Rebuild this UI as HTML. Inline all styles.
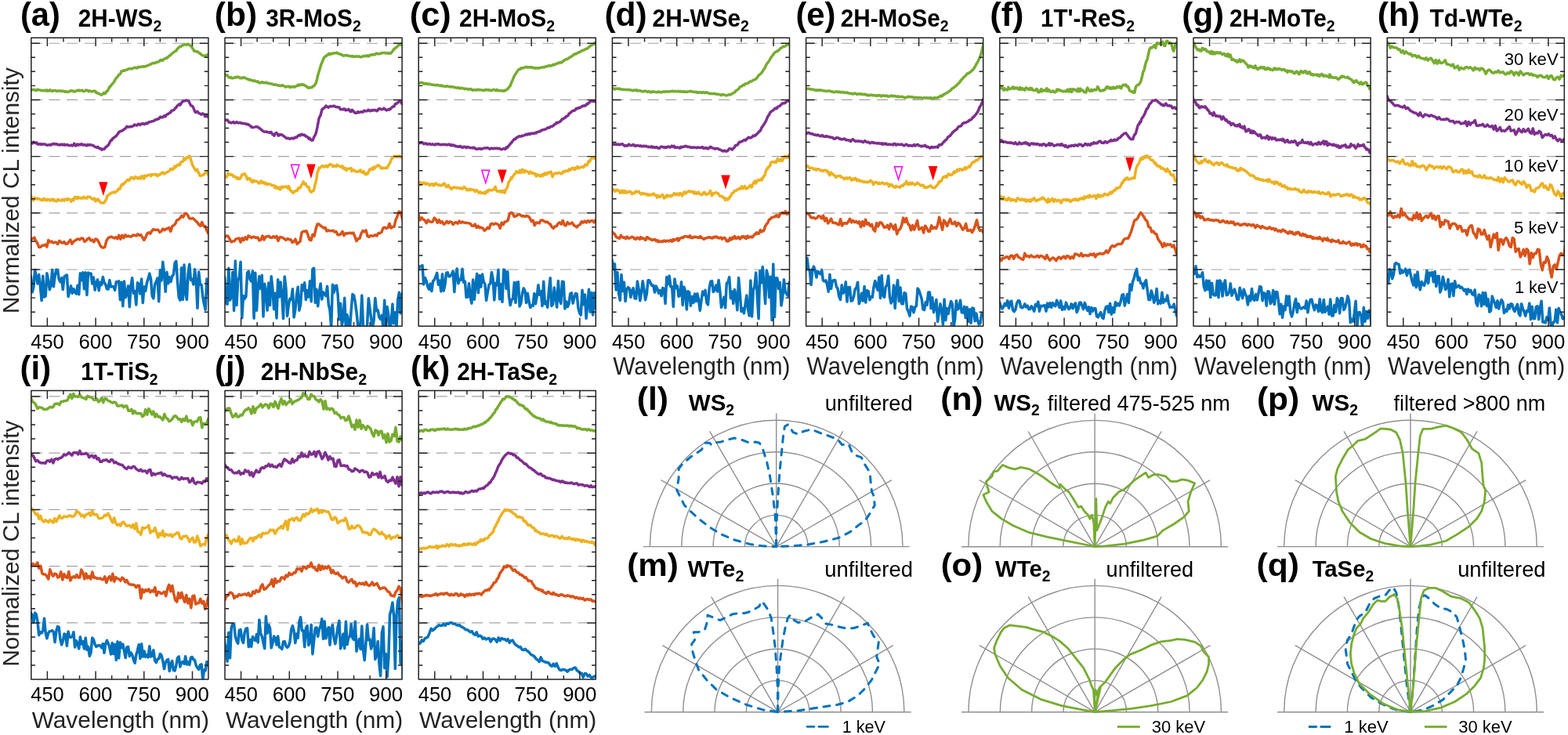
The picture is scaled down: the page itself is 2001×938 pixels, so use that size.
<!DOCTYPE html>
<html><head><meta charset="utf-8"><title>CL spectra</title>
<style>html,body{margin:0;padding:0;background:#fff;}svg{display:block;}
text{font-family:"Liberation Sans",Arial,Helvetica,sans-serif;}</style></head>
<body><svg width="2001" height="938" viewBox="0 0 2001 938">
<rect width="2001" height="938" fill="#fff"/>
<clipPath id="ca"><rect x="39.8" y="48.3" width="226.1" height="367.9"/></clipPath>
<g stroke="#a3a3a3" stroke-width="1.15" stroke-dasharray="14.1 8.5" fill="none"><line x1="39.8" y1="55.2" x2="265.9" y2="55.2"/><line x1="39.8" y1="127.4" x2="265.9" y2="127.4"/><line x1="39.8" y1="199.6" x2="265.9" y2="199.6"/><line x1="39.8" y1="271.8" x2="265.9" y2="271.8"/><line x1="39.8" y1="344" x2="265.9" y2="344"/></g>
<g clip-path="url(#ca)" fill="none" stroke-width="3.5" stroke-linejoin="round" stroke-linecap="round"><path d="M37.8 350.79 L39.5 352.76 L41.2 372.88 L42.9 366.19 L44.6 344.17 L46.3 353.57 L48 362.06 L49.7 350.38 L51.4 365.08 L53.1 383.59 L54.8 352.15 L56.5 378.97 L58.2 377.87 L59.9 348.65 L61.6 357.49 L63.3 369.62 L65 364.41 L66.7 344.19 L68.4 365.78 L70.1 352.64 L71.8 344.34 L73.5 344.36 L75.2 356.26 L76.9 359.67 L78.6 354.72 L80.3 369.47 L82 353.2 L83.7 351.74 L85.4 350.95 L87.1 378.5 L88.8 371.69 L90.5 364.86 L92.2 374.34 L93.9 368.75 L95.6 372.82 L97.3 375.03 L99 364.32 L100.7 375.79 L102.4 348.71 L104.1 357.78 L105.8 347.68 L107.5 368.87 L109.2 347.8 L110.9 376.43 L112.6 348.02 L114.3 349.52 L116 349.04 L117.7 362.08 L119.4 353.97 L121.1 370.15 L122.8 361.43 L124.5 356.82 L126.2 370.84 L127.9 360.19 L129.6 363.51 L131.3 353.48 L133 360.87 L134.7 362.77 L136.4 368.69 L138.1 369.04 L139.8 357.45 L141.5 365.9 L143.2 365.82 L144.9 365.74 L146.6 370.47 L148.3 359.66 L150 359.76 L151.7 358.94 L153.4 382.51 L155.1 360.35 L156.8 390.62 L158.5 359.06 L160.2 379.71 L161.9 375.04 L163.6 365.02 L165.3 391.67 L167 365.13 L168.7 354.69 L170.4 374.33 L172.1 371.51 L173.8 388.9 L175.5 360.7 L177.2 362.24 L178.9 374.9 L180.6 356.02 L182.3 386.41 L184 365.9 L185.7 371.45 L187.4 361.12 L189.1 355.88 L190.8 349.13 L192.5 355.81 L194.2 377.59 L195.9 380.88 L197.6 362.77 L199.3 359.68 L201 354.96 L202.7 384.71 L204.4 344.79 L206.1 357.97 L207.8 334.32 L209.5 349.85 L211.2 372.25 L212.9 347.31 L214.6 361.77 L216.3 353.64 L218 359.62 L219.7 352.37 L221.4 350.4 L223.1 335.58 L224.8 333.31 L226.5 358.99 L228.2 379.43 L229.9 383.06 L231.6 341.68 L233.3 382.31 L235 337.97 L236.7 374.05 L238.4 382.38 L240.1 348.82 L241.8 337.24 L243.5 357.23 L245.2 356.22 L246.9 363.08 L248.6 343.62 L250.3 359.77 L252 393.16 L253.7 346.94 L255.4 363.17 L257.1 363.42 L258.8 378.82 L260.5 388.15 L262.2 395.23 L263.9 356.07 L265.6 374.5 L267.3 359.89" stroke="#0072BD"/><path d="M37.8 307.51 L39.8 305.23 L41.8 304.73 L43.8 303.14 L45.8 307.46 L47.8 310.42 L49.8 315.54 L51.8 315.29 L53.8 313.22 L55.8 313.37 L57.8 312.11 L59.8 315.03 L61.8 306.48 L63.8 308.96 L65.8 307.98 L67.8 309.93 L69.8 309.09 L71.8 309.46 L73.8 311.53 L75.8 307.38 L77.8 308.91 L79.8 310.15 L81.8 308.48 L83.8 311.35 L85.8 311.13 L87.8 308.75 L89.8 306.07 L91.8 311.22 L93.8 308.2 L95.8 307.17 L97.8 305.74 L99.8 304.96 L101.8 305.84 L103.8 304.04 L105.8 304.2 L107.8 308.31 L109.8 307.19 L111.8 304.87 L113.8 303.68 L115.8 306.9 L117.8 306.06 L119.8 308.87 L121.8 305 L123.8 305.43 L125.8 308.49 L127.8 313.16 L129.8 315.56 L131.8 316.09 L133.8 315.45 L135.8 307.37 L137.8 304.08 L139.8 302.82 L141.8 302.12 L143.8 302.94 L145.8 303.95 L147.8 302.73 L149.8 304.66 L151.8 300.36 L153.8 305.22 L155.8 300.25 L157.8 303.71 L159.8 299.76 L161.8 301.86 L163.8 301.11 L165.8 301.73 L167.8 301.96 L169.8 300.08 L171.8 300.27 L173.8 300.96 L175.8 298.73 L177.8 300.49 L179.8 299.55 L181.8 302.84 L183.8 306.5 L185.8 302.69 L187.8 298.17 L189.8 296.71 L191.8 298.24 L193.8 294.73 L195.8 292.5 L197.8 293.46 L199.8 293.35 L201.8 293.36 L203.8 296.35 L205.8 295.17 L207.8 292.22 L209.8 293.71 L211.8 292.3 L213.8 291.72 L215.8 290.57 L217.8 295.18 L219.8 288.67 L221.8 287.48 L223.8 285.55 L225.8 280.87 L227.8 280.28 L229.8 278.24 L231.8 275.45 L233.8 277.06 L235.8 272.71 L237.8 272.17 L239.8 275.03 L241.8 278.81 L243.8 279.11 L245.8 278.46 L247.8 280.02 L249.8 281.92 L251.8 283.83 L253.8 286.7 L255.8 288.32 L257.8 283.55 L259.8 288.69 L261.8 288.4 L263.8 294.2 L265.8 297.83 L267.8 296.53" stroke="#D95319"/><path d="M37.8 252.4 L38.8 250.86 L39.8 251 L40.8 252.12 L41.8 254.5 L42.8 255.74 L43.8 253.65 L44.8 252.43 L45.8 253.4 L46.8 253.2 L47.8 254.1 L48.8 253.14 L49.8 253.69 L50.8 254.37 L51.8 254.91 L52.8 254.8 L53.8 255.8 L54.8 254.65 L55.8 253.19 L56.8 255.22 L57.8 254.6 L58.8 254.48 L59.8 256.01 L60.8 254.32 L61.8 254.69 L62.8 254.6 L63.8 256.08 L64.8 254.98 L65.8 254.87 L66.8 254.02 L67.8 255.87 L68.8 254.46 L69.8 255.89 L70.8 256.51 L71.8 256.78 L72.8 256.75 L73.8 254.34 L74.8 255.18 L75.8 255.31 L76.8 255.66 L77.8 256.16 L78.8 255.17 L79.8 254.23 L80.8 255.06 L81.8 256.22 L82.8 254.21 L83.8 254.64 L84.8 254.3 L85.8 255.48 L86.8 253.48 L87.8 254.13 L88.8 254.56 L89.8 255.18 L90.8 257.08 L91.8 256.1 L92.8 253.96 L93.8 255.64 L94.8 252.79 L95.8 251.38 L96.8 251.79 L97.8 253.42 L98.8 253.39 L99.8 251.22 L100.8 252.87 L101.8 252.74 L102.8 253.11 L103.8 252.33 L104.8 253.08 L105.8 252.51 L106.8 251.2 L107.8 253.02 L108.8 252.47 L109.8 252.84 L110.8 253.03 L111.8 251.25 L112.8 251.57 L113.8 251.13 L114.8 251.23 L115.8 252.52 L116.8 253.19 L117.8 254.33 L118.8 254.48 L119.8 253.17 L120.8 253.13 L121.8 256.88 L122.8 256.64 L123.8 254.59 L124.8 253.99 L125.8 255.03 L126.8 256.54 L127.8 258.09 L128.8 258.77 L129.8 258.86 L130.8 258.79 L131.8 259.22 L132.8 258.49 L133.8 257.44 L134.8 255.67 L135.8 253.73 L136.8 249.98 L137.8 249.55 L138.8 248.86 L139.8 247.5 L140.8 247.39 L141.8 246.22 L142.8 245.93 L143.8 245.86 L144.8 245.42 L145.8 244.97 L146.8 245.82 L147.8 244.79 L148.8 244.12 L149.8 243.24 L150.8 241.59 L151.8 240.71 L152.8 241.14 L153.8 239.05 L154.8 236.29 L155.8 234.99 L156.8 235.91 L157.8 234.52 L158.8 233.78 L159.8 232.46 L160.8 231.57 L161.8 230.73 L162.8 229.23 L163.8 229.75 L164.8 230.41 L165.8 229.48 L166.8 226.84 L167.8 226.42 L168.8 226.46 L169.8 227.48 L170.8 228.42 L171.8 227.49 L172.8 225.56 L173.8 226.83 L174.8 227.47 L175.8 226.72 L176.8 227.99 L177.8 226.21 L178.8 227.48 L179.8 228.05 L180.8 224.84 L181.8 225.01 L182.8 226.44 L183.8 227.95 L184.8 224.02 L185.8 225.03 L186.8 224.94 L187.8 223.97 L188.8 223.34 L189.8 223.44 L190.8 223.37 L191.8 222.93 L192.8 224.76 L193.8 222.78 L194.8 222.71 L195.8 222.57 L196.8 222.75 L197.8 223.01 L198.8 222.3 L199.8 222.92 L200.8 224.65 L201.8 224.01 L202.8 222.7 L203.8 223.07 L204.8 221.76 L205.8 221.84 L206.8 220.31 L207.8 220.05 L208.8 220.47 L209.8 221.94 L210.8 221.03 L211.8 220.55 L212.8 219.75 L213.8 219.32 L214.8 218.9 L215.8 218.52 L216.8 217.18 L217.8 215.45 L218.8 215.16 L219.8 216.55 L220.8 216.36 L221.8 214.48 L222.8 212.18 L223.8 213.85 L224.8 212.52 L225.8 211.18 L226.8 210.37 L227.8 209.71 L228.8 210.92 L229.8 209.98 L230.8 206.78 L231.8 206.4 L232.8 206.39 L233.8 205.7 L234.8 202.05 L235.8 203.67 L236.8 203.72 L237.8 201.19 L238.8 200.65 L239.8 201.3 L240.8 200.15 L241.8 198.98 L242.8 201.16 L243.8 204.51 L244.8 207.76 L245.8 211.4 L246.8 212.68 L247.8 214.32 L248.8 216.18 L249.8 217.82 L250.8 216.91 L251.8 216.16 L252.8 219.65 L253.8 220.76 L254.8 223.95 L255.8 224.19 L256.8 224.3 L257.8 223.56 L258.8 223.17 L259.8 223.3 L260.8 221.18 L261.8 221.03 L262.8 220.83 L263.8 220.09 L264.8 219.83 L265.8 222.9 L266.8 222.57 L267.8 223.43" stroke="#EDB120"/><path d="M37.8 182.74 L38.8 182.35 L39.8 182.96 L40.8 182.49 L41.8 182.85 L42.8 181.39 L43.8 181.91 L44.8 182.49 L45.8 182.71 L46.8 181.93 L47.8 183.63 L48.8 184.21 L49.8 184.07 L50.8 183.63 L51.8 184.45 L52.8 183.8 L53.8 184.33 L54.8 184.02 L55.8 183.94 L56.8 183.92 L57.8 184.16 L58.8 184.89 L59.8 185.24 L60.8 185.24 L61.8 184.93 L62.8 184.72 L63.8 184.74 L64.8 185.22 L65.8 184.11 L66.8 183.83 L67.8 184.01 L68.8 183.3 L69.8 183.96 L70.8 184.15 L71.8 183.71 L72.8 184.05 L73.8 184.78 L74.8 184.51 L75.8 184.76 L76.8 185.22 L77.8 184.41 L78.8 184.11 L79.8 184.81 L80.8 185.01 L81.8 184.15 L82.8 185.22 L83.8 185 L84.8 184.79 L85.8 184.61 L86.8 185.07 L87.8 185.73 L88.8 185.62 L89.8 185.53 L90.8 185.07 L91.8 185.94 L92.8 185.77 L93.8 184.59 L94.8 183.19 L95.8 184.68 L96.8 186.14 L97.8 184.68 L98.8 184.06 L99.8 185.19 L100.8 184.3 L101.8 184.68 L102.8 184.7 L103.8 183.66 L104.8 184.47 L105.8 185.13 L106.8 184.56 L107.8 184.91 L108.8 184.85 L109.8 185.55 L110.8 185.88 L111.8 184.48 L112.8 184.77 L113.8 185.24 L114.8 184.83 L115.8 184.77 L116.8 185.17 L117.8 185.43 L118.8 185.6 L119.8 186.48 L120.8 187.21 L121.8 187.58 L122.8 187.96 L123.8 188.3 L124.8 187.45 L125.8 188.41 L126.8 189.36 L127.8 189.87 L128.8 189.55 L129.8 191.2 L130.8 190.15 L131.8 190.22 L132.8 190.16 L133.8 189.53 L134.8 187.85 L135.8 187.05 L136.8 186.57 L137.8 185.57 L138.8 184.25 L139.8 182.17 L140.8 180.16 L141.8 178.75 L142.8 178.89 L143.8 176.63 L144.8 176.3 L145.8 175.33 L146.8 174.56 L147.8 173.8 L148.8 172.95 L149.8 171.36 L150.8 170.31 L151.8 168.44 L152.8 168.36 L153.8 167.36 L154.8 167.07 L155.8 167.08 L156.8 166.02 L157.8 165.64 L158.8 164.49 L159.8 164.05 L160.8 162.93 L161.8 161.42 L162.8 161.89 L163.8 162.08 L164.8 162.05 L165.8 161.7 L166.8 161.45 L167.8 161.74 L168.8 161.28 L169.8 160.55 L170.8 160.54 L171.8 159.02 L172.8 159.42 L173.8 159.66 L174.8 160.05 L175.8 158.84 L176.8 158.06 L177.8 158.86 L178.8 159.48 L179.8 158.36 L180.8 157.96 L181.8 157.72 L182.8 157.8 L183.8 158.43 L184.8 158.58 L185.8 157.53 L186.8 157.05 L187.8 157.68 L188.8 156.68 L189.8 156.15 L190.8 155.64 L191.8 155.39 L192.8 155.33 L193.8 154.83 L194.8 154.76 L195.8 154.32 L196.8 154.02 L197.8 153.13 L198.8 152.74 L199.8 152.56 L200.8 152.07 L201.8 151.76 L202.8 151.67 L203.8 149.98 L204.8 149.11 L205.8 150 L206.8 149.56 L207.8 149.75 L208.8 148.55 L209.8 147.71 L210.8 148.81 L211.8 147.57 L212.8 146.28 L213.8 145.57 L214.8 145.45 L215.8 144.29 L216.8 144.05 L217.8 143.47 L218.8 141.36 L219.8 140.87 L220.8 140.75 L221.8 140.58 L222.8 139.23 L223.8 137.63 L224.8 137.36 L225.8 135.6 L226.8 134.62 L227.8 133.89 L228.8 132.81 L229.8 134.08 L230.8 132.67 L231.8 131.04 L232.8 129.66 L233.8 128.74 L234.8 129.01 L235.8 128.81 L236.8 127.97 L237.8 127.98 L238.8 128.52 L239.8 128.36 L240.8 128.52 L241.8 131.26 L242.8 133.13 L243.8 134.68 L244.8 135.12 L245.8 135.71 L246.8 137.64 L247.8 140.17 L248.8 142.54 L249.8 143.53 L250.8 142.85 L251.8 142.32 L252.8 143.37 L253.8 144.43 L254.8 144.92 L255.8 145.3 L256.8 146.11 L257.8 145.25 L258.8 144.85 L259.8 145.82 L260.8 146.65 L261.8 148.67 L262.8 147.93 L263.8 147.55 L264.8 148.98 L265.8 149.39 L266.8 148.91 L267.8 148.97" stroke="#7E2F8E"/><path d="M37.8 114.83 L38.8 114.64 L39.8 114.8 L40.8 114.65 L41.8 114.34 L42.8 114.49 L43.8 114.85 L44.8 114.64 L45.8 115.44 L46.8 115.41 L47.8 114.16 L48.8 114.78 L49.8 114.75 L50.8 114.89 L51.8 115.31 L52.8 115.37 L53.8 115.72 L54.8 115.73 L55.8 115.65 L56.8 115.18 L57.8 115.49 L58.8 116.02 L59.8 114.78 L60.8 116.17 L61.8 115.71 L62.8 115.94 L63.8 114.56 L64.8 115.36 L65.8 116.14 L66.8 116.04 L67.8 116.21 L68.8 115.45 L69.8 115.43 L70.8 115.56 L71.8 116.14 L72.8 116.22 L73.8 115.98 L74.8 115.92 L75.8 116 L76.8 116.15 L77.8 115.86 L78.8 116.25 L79.8 116.34 L80.8 116.2 L81.8 116.42 L82.8 117.23 L83.8 116.59 L84.8 116.98 L85.8 117.49 L86.8 117.19 L87.8 116.85 L88.8 116.94 L89.8 115.81 L90.8 115.65 L91.8 115.98 L92.8 116.06 L93.8 116.23 L94.8 117.05 L95.8 116.88 L96.8 115.96 L97.8 115.72 L98.8 115.24 L99.8 115.48 L100.8 115.05 L101.8 115.98 L102.8 115.46 L103.8 115.6 L104.8 115.12 L105.8 116.17 L106.8 116.25 L107.8 116.67 L108.8 115.79 L109.8 114.94 L110.8 115.18 L111.8 115.41 L112.8 116.58 L113.8 115.89 L114.8 115.83 L115.8 116.52 L116.8 116.64 L117.8 116.78 L118.8 116.39 L119.8 115.89 L120.8 116.24 L121.8 116.56 L122.8 118.41 L123.8 118.76 L124.8 118.55 L125.8 119.34 L126.8 119.95 L127.8 120.39 L128.8 120.74 L129.8 121.03 L130.8 120.42 L131.8 118.93 L132.8 118.42 L133.8 119.67 L134.8 118.81 L135.8 116.81 L136.8 116.57 L137.8 114.95 L138.8 113.15 L139.8 110.8 L140.8 110.37 L141.8 108.77 L142.8 107.69 L143.8 106.54 L144.8 105.31 L145.8 104.01 L146.8 102.07 L147.8 100.55 L148.8 99.05 L149.8 98.24 L150.8 96.69 L151.8 95.22 L152.8 95.08 L153.8 93.68 L154.8 91.13 L155.8 90.52 L156.8 90.6 L157.8 89.89 L158.8 90.32 L159.8 89.59 L160.8 89.23 L161.8 89.06 L162.8 88.75 L163.8 87.82 L164.8 87.82 L165.8 87.62 L166.8 87.67 L167.8 87.57 L168.8 87.76 L169.8 87.22 L170.8 86.61 L171.8 86.58 L172.8 86.1 L173.8 86.69 L174.8 87.09 L175.8 85.97 L176.8 85.27 L177.8 85.72 L178.8 85.56 L179.8 85.52 L180.8 85.16 L181.8 85.1 L182.8 84.69 L183.8 85.4 L184.8 84.65 L185.8 84.59 L186.8 84.42 L187.8 83.77 L188.8 83.58 L189.8 82.96 L190.8 82.47 L191.8 82.28 L192.8 82.11 L193.8 81.01 L194.8 80.65 L195.8 80.39 L196.8 80.33 L197.8 80.69 L198.8 79.91 L199.8 79.33 L200.8 79.24 L201.8 79.16 L202.8 78.18 L203.8 78.1 L204.8 76.4 L205.8 76.55 L206.8 77.38 L207.8 77.05 L208.8 75.83 L209.8 74.99 L210.8 74.85 L211.8 74.01 L212.8 74.19 L213.8 73.55 L214.8 72.5 L215.8 71.19 L216.8 71.08 L217.8 69.95 L218.8 68.99 L219.8 68.02 L220.8 67.25 L221.8 66.61 L222.8 65.83 L223.8 65.14 L224.8 65.04 L225.8 62.78 L226.8 62.15 L227.8 60.8 L228.8 60.07 L229.8 59.22 L230.8 59.48 L231.8 58.61 L232.8 57.82 L233.8 57.26 L234.8 57.15 L235.8 56.34 L236.8 56.64 L237.8 57.43 L238.8 56.44 L239.8 56.13 L240.8 56.42 L241.8 57.57 L242.8 58.09 L243.8 58.8 L244.8 60.18 L245.8 61.94 L246.8 63.15 L247.8 65.25 L248.8 65.18 L249.8 65.58 L250.8 66.01 L251.8 65.74 L252.8 66.34 L253.8 67.42 L254.8 68.07 L255.8 68.32 L256.8 69.95 L257.8 70.18 L258.8 70.83 L259.8 71.03 L260.8 70.89 L261.8 72.03 L262.8 71.19 L263.8 70.12 L264.8 70.06 L265.8 71.24 L266.8 71.82 L267.8 71.7" stroke="#77AC30"/></g>
<path d="M60.37 48.3v10.6M60.37 416.2v-10.6M80.94 48.3v5.1M80.94 416.2v-5.1M101.51 48.3v5.1M101.51 416.2v-5.1M122.08 48.3v10.6M122.08 416.2v-10.6M142.65 48.3v5.1M142.65 416.2v-5.1M163.22 48.3v5.1M163.22 416.2v-5.1M183.79 48.3v10.6M183.79 416.2v-10.6M204.36 48.3v5.1M204.36 416.2v-5.1M224.93 48.3v5.1M224.93 416.2v-5.1M245.5 48.3v10.6M245.5 416.2v-10.6M39.8 55.2h11M265.9 55.2h-11M39.8 73.25h5.2M265.9 73.25h-5.2M39.8 91.3h5.2M265.9 91.3h-5.2M39.8 109.35h5.2M265.9 109.35h-5.2M39.8 127.4h11M265.9 127.4h-11M39.8 145.45h5.2M265.9 145.45h-5.2M39.8 163.5h5.2M265.9 163.5h-5.2M39.8 181.55h5.2M265.9 181.55h-5.2M39.8 199.6h11M265.9 199.6h-11M39.8 217.65h5.2M265.9 217.65h-5.2M39.8 235.7h5.2M265.9 235.7h-5.2M39.8 253.75h5.2M265.9 253.75h-5.2M39.8 271.8h11M265.9 271.8h-11M39.8 289.85h5.2M265.9 289.85h-5.2M39.8 307.9h5.2M265.9 307.9h-5.2M39.8 325.95h5.2M265.9 325.95h-5.2M39.8 344h11M265.9 344h-11M39.8 362.05h5.2M265.9 362.05h-5.2M39.8 380.1h5.2M265.9 380.1h-5.2M39.8 398.15h5.2M265.9 398.15h-5.2" stroke="#222" stroke-width="1.45" fill="none"/>
<rect x="39.8" y="48.3" width="226.1" height="367.9" fill="none" stroke="#222" stroke-width="1.5" stroke-linejoin="round"/>
<clipPath id="cb"><rect x="287" y="48.3" width="226.1" height="367.9"/></clipPath>
<g stroke="#a3a3a3" stroke-width="1.15" stroke-dasharray="14.1 8.5" fill="none"><line x1="287" y1="55.2" x2="513.1" y2="55.2"/><line x1="287" y1="127.4" x2="513.1" y2="127.4"/><line x1="287" y1="199.6" x2="513.1" y2="199.6"/><line x1="287" y1="271.8" x2="513.1" y2="271.8"/><line x1="287" y1="344" x2="513.1" y2="344"/></g>
<g clip-path="url(#cb)" fill="none" stroke-width="3.5" stroke-linejoin="round" stroke-linecap="round"><path d="M285 376.45 L286.7 353.39 L288.4 386.79 L290.1 388.2 L291.8 342.25 L293.5 383.15 L295.2 378.91 L296.9 347.18 L298.6 396.45 L300.3 333.08 L302 389.39 L303.7 358.12 L305.4 353.35 L307.1 334.22 L308.8 405.64 L310.5 377.39 L312.2 381.24 L313.9 378.36 L315.6 348.21 L317.3 346.26 L319 356.47 L320.7 358.96 L322.4 346.06 L324.1 406.14 L325.8 348.25 L327.5 396.19 L329.2 366.72 L330.9 352.62 L332.6 368.6 L334.3 351.3 L336 404.05 L337.7 362.33 L339.4 371.79 L341.1 396.05 L342.8 360.89 L344.5 389.59 L346.2 352.65 L347.9 368.77 L349.6 394.59 L351.3 374.34 L353 405.98 L354.7 356.76 L356.4 379.04 L358.1 360.03 L359.8 377.25 L361.5 406.57 L363.2 353.01 L364.9 367.58 L366.6 403.31 L368.3 389.19 L370 381.38 L371.7 382.29 L373.4 368.75 L375.1 404.95 L376.8 395.34 L378.5 376.83 L380.2 366.27 L381.9 396.21 L383.6 388.43 L385.3 363.38 L387 370.46 L388.7 360.8 L390.4 382.6 L392.1 370.5 L393.8 379.05 L395.5 358.74 L397.2 384.66 L398.9 343.46 L400.6 342.29 L402.3 386.28 L404 369.32 L405.7 390.85 L407.4 372.98 L409.1 361.98 L410.8 382 L412.5 372.87 L414.2 374.62 L415.9 377.78 L417.6 365.36 L419.3 388.66 L421 395.98 L422.7 417.91 L424.4 363.15 L426.1 373.17 L427.8 364.84 L429.5 364.33 L431.2 376.26 L432.9 407.79 L434.6 387.27 L436.3 414.95 L438 406.42 L439.7 380.24 L441.4 419.5 L443.1 401.67 L444.8 412.1 L446.5 419.14 L448.2 395.32 L449.9 375.45 L451.6 377.12 L453.3 385.43 L455 398.69 L456.7 415.08 L458.4 418.55 L460.1 411.71 L461.8 377.02 L463.5 415.96 L465.2 420.14 L466.9 420.27 L468.6 414.58 L470.3 380.82 L472 393.58 L473.7 406.92 L475.4 418.59 L477.1 408.82 L478.8 380.46 L480.5 396.58 L482.2 395.84 L483.9 405.04 L485.6 407.38 L487.3 402.42 L489 419.05 L490.7 383.22 L492.4 420.92 L494.1 391.54 L495.8 402.17 L497.5 419.19 L499.2 411.67 L500.9 388.03 L502.6 412.81 L504.3 398.73 L506 416.31 L507.7 382.37 L509.4 373.23 L511.1 399.83 L512.8 376.19 L514.5 371.18" stroke="#0072BD"/><path d="M285 300.68 L287 302.63 L289 300.93 L291 301.22 L293 304.91 L295 308.81 L297 307.94 L299 307.79 L301 305.08 L303 304.64 L305 303.97 L307 309.23 L309 303.9 L311 306.65 L313 302.9 L315 305.51 L317 300.94 L319 301.95 L321 303.6 L323 302.16 L325 302.75 L327 303.49 L329 303.02 L331 306.89 L333 305.97 L335 300.97 L337 306.01 L339 302.27 L341 301.82 L343 301.35 L345 303.32 L347 303.36 L349 301.61 L351 303.18 L353 301.25 L355 307.36 L357 302.74 L359 302.86 L361 303.33 L363 305.03 L365 306.32 L367 304.57 L369 305.64 L371 305.66 L373 309.39 L375 308.15 L377 305.21 L379 311.42 L381 309.62 L383 308.27 L385 296.92 L387 295.27 L389 295.26 L391 294.73 L393 299.78 L395 305.89 L397 306.58 L399 299.4 L401 301.31 L403 292.37 L405 286.02 L407 285.89 L409 288.09 L411 289.38 L413 290.96 L415 290.38 L417 294.99 L419 293.9 L421 294.45 L423 294.66 L425 294.06 L427 296.02 L429 295.54 L431 299.61 L433 299.66 L435 298.46 L437 295.43 L439 300.6 L441 297.69 L443 297.99 L445 297.57 L447 297.27 L449 297.95 L451 297.15 L453 302.12 L455 307.56 L457 304.66 L459 304.32 L461 297.89 L463 294.64 L465 295.69 L467 293.95 L469 301.39 L471 302.31 L473 300.64 L475 301.09 L477 300.92 L479 299.79 L481 300.98 L483 297.43 L485 297.47 L487 296.08 L489 290.98 L491 290.14 L493 291.41 L495 290.67 L497 285.27 L499 291.06 L501 289.57 L503 289.35 L505 280.68 L507 276.13 L509 270.07 L511 270.66 L513 277.03 L515 284.8" stroke="#D95319"/><path d="M285 224.73 L286 224.09 L287 225.27 L288 225.23 L289 226.25 L290 224.19 L291 220.9 L292 222.72 L293 222.69 L294 222.23 L295 223.15 L296 223.19 L297 223.17 L298 225.25 L299 225.03 L300 225.52 L301 226.35 L302 227.7 L303 226.42 L304 228.4 L305 227.44 L306 228.2 L307 227.19 L308 224.7 L309 222.61 L310 222.76 L311 222.69 L312 221.41 L313 222.97 L314 224.31 L315 227.76 L316 229.14 L317 227.49 L318 227.74 L319 227.82 L320 230 L321 231.64 L322 232.51 L323 230.09 L324 231.92 L325 231.37 L326 230.81 L327 231.25 L328 231.4 L329 232.82 L330 233.13 L331 234.2 L332 232.43 L333 230.9 L334 232.1 L335 233.59 L336 232.2 L337 233.08 L338 234.44 L339 233.3 L340 235.43 L341 235.37 L342 234.53 L343 235.03 L344 234.92 L345 235.25 L346 235.8 L347 236.57 L348 236.77 L349 236.33 L350 237.04 L351 240.06 L352 237.73 L353 238.63 L354 240.55 L355 240.33 L356 239 L357 241.65 L358 241.54 L359 238.87 L360 237.76 L361 239.47 L362 238.97 L363 238.52 L364 237.96 L365 238.26 L366 239.43 L367 240.15 L368 237.55 L369 238.16 L370 242.4 L371 242.43 L372 244.37 L373 244.9 L374 246.17 L375 245.69 L376 244.05 L377 243.65 L378 243.87 L379 243.58 L380 241.26 L381 239.61 L382 240.49 L383 239.86 L384 238 L385 235.57 L386 234.94 L387 231.9 L388 233.12 L389 235.41 L390 234.37 L391 236.63 L392 238.18 L393 238.84 L394 238.75 L395 242.89 L396 244.16 L397 245.13 L398 244.75 L399 243.67 L400 243.32 L401 240.94 L402 235.15 L403 232.44 L404 227.57 L405 220.35 L406 218.37 L407 214.28 L408 214.55 L409 213.88 L410 212.7 L411 211.52 L412 211.93 L413 212.57 L414 213.07 L415 211.92 L416 211.35 L417 211.73 L418 213.17 L419 212.03 L420 210.43 L421 209.62 L422 210.24 L423 209.91 L424 210.72 L425 212.65 L426 212.16 L427 211.47 L428 211.86 L429 212.7 L430 210.19 L431 211.34 L432 211.4 L433 212.04 L434 212.44 L435 212.73 L436 213.51 L437 211.79 L438 214.55 L439 215.67 L440 214.28 L441 214.84 L442 217.62 L443 215.38 L444 215.31 L445 215.12 L446 215.28 L447 214.97 L448 214.49 L449 218.58 L450 216.48 L451 216.96 L452 217.15 L453 218.63 L454 218.48 L455 218.98 L456 219.22 L457 218.85 L458 218.28 L459 218.7 L460 216.93 L461 219.4 L462 220.02 L463 219.48 L464 218.62 L465 221.61 L466 221.3 L467 222.63 L468 221.1 L469 222.05 L470 220.21 L471 217.52 L472 215.81 L473 216.63 L474 214.89 L475 215.09 L476 216.16 L477 213.08 L478 214.98 L479 213.36 L480 212.56 L481 212.34 L482 210.82 L483 210.88 L484 211.57 L485 212.72 L486 214.54 L487 215.09 L488 213.88 L489 214.57 L490 214.84 L491 214.34 L492 214.6 L493 214.09 L494 214.39 L495 212.36 L496 210.61 L497 208.94 L498 207.08 L499 204.43 L500 202.21 L501 201.86 L502 200.3 L503 199.42 L504 199.42 L505 199.12 L506 200.28 L507 200.19 L508 199.01 L509 199.81 L510 199.01 L511 200.59 L512 200.72 L513 200.2 L514 201.11 L515 201.34" stroke="#EDB120"/><path d="M285 152.81 L286 151.94 L287 152.76 L288 153.01 L289 153.48 L290 153.14 L291 154.09 L292 156 L293 156.4 L294 156.21 L295 156.92 L296 156.59 L297 155.98 L298 155.58 L299 157.07 L300 156.8 L301 156.66 L302 155.61 L303 156.34 L304 157.07 L305 156.84 L306 156.47 L307 156.45 L308 157.32 L309 157.28 L310 157.41 L311 157.61 L312 157.66 L313 158.04 L314 158.27 L315 158.76 L316 158.27 L317 158.74 L318 159.83 L319 160.24 L320 161.02 L321 162.45 L322 162.26 L323 162.56 L324 162.4 L325 162.2 L326 161.89 L327 161.53 L328 161.93 L329 161.95 L330 162.96 L331 163.32 L332 164.2 L333 165.27 L334 165.74 L335 166.94 L336 167.54 L337 167.98 L338 168.18 L339 168.01 L340 167.89 L341 168.64 L342 168.63 L343 168.93 L344 169.39 L345 168.65 L346 168.59 L347 170.24 L348 171.6 L349 171.95 L350 173.07 L351 170.33 L352 170.06 L353 169.48 L354 170.79 L355 173 L356 173.06 L357 171.61 L358 171.88 L359 171.85 L360 171.91 L361 172.95 L362 173.56 L363 174.33 L364 175.05 L365 175.95 L366 176.72 L367 176.26 L368 176.37 L369 176.85 L370 177.28 L371 176.92 L372 176.3 L373 176.53 L374 176.96 L375 175.95 L376 176.28 L377 175.02 L378 175.56 L379 174.95 L380 173.57 L381 172.75 L382 172.38 L383 173.1 L384 171.75 L385 171.27 L386 171.97 L387 172.46 L388 172.11 L389 172.48 L390 173.88 L391 173.93 L392 174.55 L393 175.34 L394 177.2 L395 176.19 L396 177.16 L397 178.7 L398 179.13 L399 178.95 L400 176.57 L401 174.02 L402 172.84 L403 170.43 L404 166.74 L405 162.1 L406 156.76 L407 151.28 L408 148.58 L409 147.46 L410 143.53 L411 139.76 L412 138.85 L413 138.29 L414 137.48 L415 136.56 L416 135.07 L417 136.08 L418 136.37 L419 137.16 L420 136.18 L421 135.76 L422 135.48 L423 135.66 L424 135.85 L425 135.41 L426 135.17 L427 135.32 L428 136.4 L429 136.63 L430 136.79 L431 136.47 L432 136.97 L433 137.09 L434 139.13 L435 139.83 L436 139.53 L437 139.41 L438 139.69 L439 138.75 L440 139.18 L441 140.78 L442 140.05 L443 140.52 L444 140.22 L445 139.42 L446 140.76 L447 142.26 L448 142.43 L449 140.27 L450 140.68 L451 141.89 L452 143.29 L453 143.89 L454 144.34 L455 144.3 L456 142.95 L457 142.62 L458 143.68 L459 143.19 L460 143.1 L461 142.78 L462 142.75 L463 143.18 L464 141.81 L465 141.01 L466 141.53 L467 141.97 L468 141.67 L469 141.3 L470 140.09 L471 140.67 L472 141.78 L473 140.98 L474 140.54 L475 141.26 L476 140.42 L477 140.83 L478 140.55 L479 140.58 L480 141.08 L481 141.72 L482 140.83 L483 139.13 L484 138.66 L485 139.07 L486 139.31 L487 139.74 L488 139.39 L489 139.09 L490 138.06 L491 138.97 L492 139.88 L493 140.82 L494 140.52 L495 139.98 L496 139.36 L497 139.97 L498 139.44 L499 138.18 L500 137.09 L501 136.38 L502 135.9 L503 135.95 L504 133.35 L505 132.16 L506 132.52 L507 131.18 L508 130.74 L509 129.89 L510 128.87 L511 129.54 L512 130.8 L513 132.74 L514 133.01 L515 133.09" stroke="#7E2F8E"/><path d="M285 95.56 L286 96.42 L287 95.79 L288 95.21 L289 96.25 L290 95.89 L291 97.53 L292 98.6 L293 99.2 L294 98.8 L295 98.6 L296 99.74 L297 99.66 L298 99.57 L299 98.99 L300 99.04 L301 98.24 L302 98.82 L303 97.95 L304 98.19 L305 98.39 L306 99.6 L307 99.66 L308 99.16 L309 99.84 L310 99.4 L311 98.63 L312 99.25 L313 99.19 L314 100.2 L315 100.69 L316 100.64 L317 101.59 L318 101.97 L319 101.51 L320 102.22 L321 102.31 L322 102.6 L323 103.5 L324 102.82 L325 102.99 L326 103.44 L327 104.01 L328 104.21 L329 103.86 L330 105.05 L331 105.73 L332 105.88 L333 105.15 L334 104.78 L335 104.79 L336 105.56 L337 105.7 L338 105.79 L339 105.55 L340 105.11 L341 106.06 L342 106.47 L343 106.45 L344 106.21 L345 106.83 L346 107.06 L347 106.94 L348 107.77 L349 107.79 L350 107.98 L351 108.2 L352 108.08 L353 108.3 L354 108.77 L355 109.1 L356 109.22 L357 108.96 L358 109.49 L359 109.65 L360 108.72 L361 109.13 L362 109.57 L363 109.97 L364 110.95 L365 110.93 L366 110.47 L367 110.44 L368 110.08 L369 110.56 L370 111.53 L371 110.6 L372 111.23 L373 110.74 L374 110.6 L375 110.66 L376 111.14 L377 110.32 L378 109.97 L379 109.6 L380 108.26 L381 109.33 L382 108.01 L383 108.11 L384 108.55 L385 107.62 L386 107.39 L387 108.54 L388 108.35 L389 109.17 L390 109.64 L391 110.16 L392 111.4 L393 111.35 L394 112.41 L395 111.65 L396 111.58 L397 111.79 L398 111.72 L399 110.49 L400 109.79 L401 109.54 L402 107.91 L403 106.55 L404 103.37 L405 99.12 L406 94.99 L407 91.57 L408 88.36 L409 84.89 L410 81.84 L411 79.76 L412 77.08 L413 74.56 L414 72.83 L415 71.92 L416 71.89 L417 70.41 L418 70.6 L419 68.92 L420 68.28 L421 69.4 L422 68.69 L423 68.94 L424 68.35 L425 67.9 L426 68.17 L427 67.71 L428 67.86 L429 67.57 L430 67.14 L431 68.17 L432 68.3 L433 68.78 L434 69.22 L435 68.91 L436 69.89 L437 70.45 L438 71.19 L439 70.96 L440 70.71 L441 70.45 L442 70.69 L443 70.45 L444 71.27 L445 71.3 L446 71.33 L447 71.65 L448 71.97 L449 71.85 L450 71.47 L451 72.46 L452 72.2 L453 72.24 L454 72.08 L455 71.77 L456 72.23 L457 72.03 L458 71.87 L459 72.37 L460 72.77 L461 72.71 L462 72.35 L463 71.85 L464 71.8 L465 71.63 L466 71.1 L467 71.79 L468 71.37 L469 70.78 L470 71.82 L471 71.79 L472 70.21 L473 70.12 L474 69.87 L475 70.12 L476 69.23 L477 69.67 L478 69.68 L479 69.51 L480 68.11 L481 68.24 L482 68.58 L483 68.93 L484 68.55 L485 68.59 L486 68.23 L487 67.51 L488 67.61 L489 67.49 L490 67.39 L491 67.28 L492 68.04 L493 67.89 L494 67.22 L495 68.25 L496 67.91 L497 67.62 L498 68.36 L499 67.43 L500 66.52 L501 65.25 L502 63.91 L503 62.19 L504 62.03 L505 60.79 L506 60.21 L507 59.39 L508 58.2 L509 57.38 L510 57.32 L511 57.24 L512 55.87 L513 55.77 L514 56.04 L515 55.98" stroke="#77AC30"/></g>
<path d="M307.57 48.3v10.6M307.57 416.2v-10.6M328.14 48.3v5.1M328.14 416.2v-5.1M348.71 48.3v5.1M348.71 416.2v-5.1M369.28 48.3v10.6M369.28 416.2v-10.6M389.85 48.3v5.1M389.85 416.2v-5.1M410.42 48.3v5.1M410.42 416.2v-5.1M430.99 48.3v10.6M430.99 416.2v-10.6M451.56 48.3v5.1M451.56 416.2v-5.1M472.13 48.3v5.1M472.13 416.2v-5.1M492.7 48.3v10.6M492.7 416.2v-10.6M287 55.2h11M513.1 55.2h-11M287 73.25h5.2M513.1 73.25h-5.2M287 91.3h5.2M513.1 91.3h-5.2M287 109.35h5.2M513.1 109.35h-5.2M287 127.4h11M513.1 127.4h-11M287 145.45h5.2M513.1 145.45h-5.2M287 163.5h5.2M513.1 163.5h-5.2M287 181.55h5.2M513.1 181.55h-5.2M287 199.6h11M513.1 199.6h-11M287 217.65h5.2M513.1 217.65h-5.2M287 235.7h5.2M513.1 235.7h-5.2M287 253.75h5.2M513.1 253.75h-5.2M287 271.8h11M513.1 271.8h-11M287 289.85h5.2M513.1 289.85h-5.2M287 307.9h5.2M513.1 307.9h-5.2M287 325.95h5.2M513.1 325.95h-5.2M287 344h11M513.1 344h-11M287 362.05h5.2M513.1 362.05h-5.2M287 380.1h5.2M513.1 380.1h-5.2M287 398.15h5.2M513.1 398.15h-5.2" stroke="#222" stroke-width="1.45" fill="none"/>
<rect x="287" y="48.3" width="226.1" height="367.9" fill="none" stroke="#222" stroke-width="1.5" stroke-linejoin="round"/>
<clipPath id="cc"><rect x="534.2" y="48.3" width="226.1" height="367.9"/></clipPath>
<g stroke="#a3a3a3" stroke-width="1.15" stroke-dasharray="14.1 8.5" fill="none"><line x1="534.2" y1="55.2" x2="760.3" y2="55.2"/><line x1="534.2" y1="127.4" x2="760.3" y2="127.4"/><line x1="534.2" y1="199.6" x2="760.3" y2="199.6"/><line x1="534.2" y1="271.8" x2="760.3" y2="271.8"/><line x1="534.2" y1="344" x2="760.3" y2="344"/></g>
<g clip-path="url(#cc)" fill="none" stroke-width="3.5" stroke-linejoin="round" stroke-linecap="round"><path d="M532.2 334.76 L533.9 344.66 L535.6 339.9 L537.3 339.87 L539 338.6 L540.7 362.96 L542.4 354.41 L544.1 358.34 L545.8 365.89 L547.5 369.15 L549.2 362.12 L550.9 371.61 L552.6 358.59 L554.3 357.19 L556 352.98 L557.7 348.43 L559.4 363.24 L561.1 358.11 L562.8 371.89 L564.5 349.74 L566.2 371.01 L567.9 363.29 L569.6 348.09 L571.3 347.7 L573 352.85 L574.7 352.29 L576.4 349.98 L578.1 346.06 L579.8 372.49 L581.5 350.66 L583.2 343.04 L584.9 361.72 L586.6 356.36 L588.3 357.32 L590 343.28 L591.7 360.3 L593.4 359.13 L595.1 379.4 L596.8 379.07 L598.5 361.67 L600.2 379.11 L601.9 387.26 L603.6 357.09 L605.3 382.2 L607 363.9 L608.7 349.38 L610.4 373.73 L612.1 351.48 L613.8 366.16 L615.5 350.11 L617.2 359.67 L618.9 362.53 L620.6 383.37 L622.3 372.96 L624 363.49 L625.7 361.95 L627.4 347.39 L629.1 355.97 L630.8 382.87 L632.5 361.33 L634.2 363.93 L635.9 344.28 L637.6 381.81 L639.3 362.76 L641 385.35 L642.7 344.04 L644.4 345.07 L646.1 368.41 L647.8 346.85 L649.5 378.12 L651.2 389.52 L652.9 382.54 L654.6 381.48 L656.3 360.6 L658 386.27 L659.7 360.17 L661.4 359.88 L663.1 390.95 L664.8 386.82 L666.5 374.23 L668.2 368 L669.9 370.83 L671.6 386.6 L673.3 374.18 L675 384.47 L676.7 392.45 L678.4 389.74 L680.1 390.53 L681.8 374.42 L683.5 387.67 L685.2 378.29 L686.9 363.75 L688.6 376.3 L690.3 371.69 L692 390.51 L693.7 359.27 L695.4 387.83 L697.1 385.11 L698.8 392.24 L700.5 370.18 L702.2 354.75 L703.9 390.4 L705.6 388.1 L707.3 367 L709 379.09 L710.7 392.09 L712.4 358.59 L714.1 382.14 L715.8 387.48 L717.5 359.27 L719.2 359.63 L720.9 393.93 L722.6 384.78 L724.3 391.64 L726 387.72 L727.7 374.99 L729.4 373.8 L731.1 387 L732.8 380.1 L734.5 374.49 L736.2 375.05 L737.9 393.15 L739.6 399.27 L741.3 401.95 L743 370.27 L744.7 388.67 L746.4 375.93 L748.1 406.32 L749.8 388.75 L751.5 369.34 L753.2 398.17 L754.9 373.45 L756.6 401.99 L758.3 373.72 L760 393.29 L761.7 379.22" stroke="#0072BD"/><path d="M532.2 273.06 L534.2 274.49 L536.2 280.9 L538.2 277.84 L540.2 280.06 L542.2 281.3 L544.2 284.64 L546.2 280.82 L548.2 282.7 L550.2 283.38 L552.2 282.92 L554.2 278.12 L556.2 279.87 L558.2 284.29 L560.2 280.62 L562.2 284.31 L564.2 282.52 L566.2 286.21 L568.2 285.32 L570.2 282.37 L572.2 284.57 L574.2 282.8 L576.2 283.46 L578.2 286.52 L580.2 284.25 L582.2 283.7 L584.2 285.26 L586.2 282.12 L588.2 284.21 L590.2 283.11 L592.2 284.07 L594.2 284.29 L596.2 284.62 L598.2 284.86 L600.2 285.33 L602.2 288.2 L604.2 288.16 L606.2 286.11 L608.2 290.42 L610.2 288.46 L612.2 290.77 L614.2 290.18 L616.2 291.22 L618.2 294.15 L620.2 292.95 L622.2 290.43 L624.2 291.64 L626.2 286.12 L628.2 285.18 L630.2 286.38 L632.2 285.1 L634.2 285.66 L636.2 286.91 L638.2 291.4 L640.2 284.2 L642.2 286.61 L644.2 282.95 L646.2 282.67 L648.2 281.23 L650.2 273.26 L652.2 271.2 L654.2 272.17 L656.2 276.38 L658.2 275.95 L660.2 274.49 L662.2 273.43 L664.2 274.33 L666.2 276.11 L668.2 275.52 L670.2 276.3 L672.2 275.4 L674.2 276.22 L676.2 278.4 L678.2 282.39 L680.2 281.22 L682.2 287.67 L684.2 284.06 L686.2 284.25 L688.2 284.88 L690.2 281.15 L692.2 280.87 L694.2 282.33 L696.2 283.48 L698.2 283.08 L700.2 284.9 L702.2 286.07 L704.2 289.7 L706.2 291.31 L708.2 288.95 L710.2 288.67 L712.2 285.17 L714.2 283.89 L716.2 286.17 L718.2 281.46 L720.2 287.03 L722.2 287.88 L724.2 283.62 L726.2 285.95 L728.2 285.38 L730.2 284.08 L732.2 287.43 L734.2 288.55 L736.2 289.97 L738.2 287.5 L740.2 286.65 L742.2 282.85 L744.2 284.1 L746.2 282.01 L748.2 284.03 L750.2 281.6 L752.2 283.38 L754.2 281.72 L756.2 281.68 L758.2 283.91 L760.2 280.57 L762.2 280.75" stroke="#D95319"/><path d="M532.2 234.92 L533.2 232.55 L534.2 233.01 L535.2 235.3 L536.2 232.47 L537.2 235.38 L538.2 234.86 L539.2 234.45 L540.2 233.14 L541.2 233.98 L542.2 233.34 L543.2 235.46 L544.2 234.64 L545.2 234.08 L546.2 234.45 L547.2 235.35 L548.2 236.78 L549.2 236.26 L550.2 234.93 L551.2 234.61 L552.2 234.94 L553.2 236.98 L554.2 236.67 L555.2 234.59 L556.2 233.93 L557.2 235.41 L558.2 235.39 L559.2 236.29 L560.2 235.84 L561.2 236.27 L562.2 236.87 L563.2 236.87 L564.2 235.65 L565.2 236.06 L566.2 234.66 L567.2 234.12 L568.2 236.17 L569.2 238.13 L570.2 238.78 L571.2 237.28 L572.2 236.1 L573.2 238.5 L574.2 239.14 L575.2 240.56 L576.2 241.28 L577.2 239.82 L578.2 239.27 L579.2 239.5 L580.2 239.16 L581.2 239.03 L582.2 240.11 L583.2 239.42 L584.2 239.69 L585.2 239.68 L586.2 239.64 L587.2 240.71 L588.2 239.87 L589.2 240.26 L590.2 241.13 L591.2 239.95 L592.2 238.5 L593.2 239.39 L594.2 240.02 L595.2 241.68 L596.2 242.93 L597.2 241.59 L598.2 241.42 L599.2 242.82 L600.2 241.17 L601.2 242.01 L602.2 242.51 L603.2 242.08 L604.2 242.05 L605.2 242.93 L606.2 244.49 L607.2 243.63 L608.2 242.48 L609.2 243.57 L610.2 244.98 L611.2 246.08 L612.2 245.27 L613.2 244.96 L614.2 246.52 L615.2 246.6 L616.2 245.95 L617.2 245.44 L618.2 246.53 L619.2 247.17 L620.2 244.71 L621.2 243.74 L622.2 245.03 L623.2 242.7 L624.2 242.16 L625.2 242.9 L626.2 242.72 L627.2 242.7 L628.2 242.65 L629.2 242.6 L630.2 241.51 L631.2 239.84 L632.2 238.32 L633.2 242.73 L634.2 243.9 L635.2 244.28 L636.2 243.99 L637.2 243.52 L638.2 244.92 L639.2 244.47 L640.2 243.59 L641.2 245.5 L642.2 243.59 L643.2 244.66 L644.2 246.09 L645.2 242.39 L646.2 241 L647.2 239.62 L648.2 235.95 L649.2 232.3 L650.2 231.27 L651.2 229.67 L652.2 226.83 L653.2 227.62 L654.2 225.41 L655.2 224.02 L656.2 222.58 L657.2 221.76 L658.2 220.07 L659.2 218.59 L660.2 220.1 L661.2 219.82 L662.2 220.36 L663.2 217.62 L664.2 218.71 L665.2 220.32 L666.2 216.76 L667.2 216.45 L668.2 218.57 L669.2 220.07 L670.2 217.67 L671.2 218.61 L672.2 218.86 L673.2 218.77 L674.2 219.72 L675.2 221.55 L676.2 220.62 L677.2 219.21 L678.2 220.26 L679.2 221.36 L680.2 220.49 L681.2 221.5 L682.2 222.05 L683.2 221.54 L684.2 225.11 L685.2 222.71 L686.2 223.77 L687.2 223.77 L688.2 223.58 L689.2 225.16 L690.2 223.91 L691.2 222.91 L692.2 224.64 L693.2 223.81 L694.2 221.5 L695.2 220.91 L696.2 223.08 L697.2 221.96 L698.2 220.49 L699.2 221.81 L700.2 220.06 L701.2 220.28 L702.2 219.94 L703.2 219.14 L704.2 222.54 L705.2 225.66 L706.2 222.95 L707.2 221.75 L708.2 220.92 L709.2 220.99 L710.2 221.45 L711.2 221.59 L712.2 220.43 L713.2 220.62 L714.2 220.55 L715.2 221.34 L716.2 221.84 L717.2 221.48 L718.2 219.4 L719.2 218.88 L720.2 219.55 L721.2 218.32 L722.2 217.85 L723.2 218.19 L724.2 218.11 L725.2 218.21 L726.2 215.81 L727.2 217.21 L728.2 215.99 L729.2 216.18 L730.2 214.25 L731.2 214.76 L732.2 214.85 L733.2 216.59 L734.2 214.35 L735.2 215.37 L736.2 213.33 L737.2 212.6 L738.2 214.09 L739.2 214.75 L740.2 213.52 L741.2 213.62 L742.2 213.01 L743.2 212.66 L744.2 213.6 L745.2 212.26 L746.2 212.06 L747.2 209.77 L748.2 210.2 L749.2 210.86 L750.2 208.43 L751.2 205.51 L752.2 206.56 L753.2 204.93 L754.2 202.27 L755.2 201.27 L756.2 200.77 L757.2 201.67 L758.2 202.48 L759.2 201.64 L760.2 200.89 L761.2 200.42 L762.2 200.62" stroke="#EDB120"/><path d="M532.2 182.5 L533.2 182.58 L534.2 182.47 L535.2 182.27 L536.2 182.44 L537.2 181.83 L538.2 181.76 L539.2 182.14 L540.2 183.17 L541.2 183.74 L542.2 183.06 L543.2 182.94 L544.2 183.37 L545.2 184.33 L546.2 183.86 L547.2 183.65 L548.2 183.51 L549.2 184.1 L550.2 184.55 L551.2 184.06 L552.2 183.74 L553.2 184.57 L554.2 184.38 L555.2 184.86 L556.2 183.83 L557.2 184.05 L558.2 184.18 L559.2 183.48 L560.2 184.25 L561.2 184.66 L562.2 184.46 L563.2 184.67 L564.2 184.54 L565.2 184.23 L566.2 184.78 L567.2 184.34 L568.2 184.42 L569.2 184.46 L570.2 185.04 L571.2 184.73 L572.2 184.55 L573.2 184.05 L574.2 185.02 L575.2 185.63 L576.2 184.67 L577.2 185.63 L578.2 185.65 L579.2 185.08 L580.2 185.83 L581.2 186.67 L582.2 186.54 L583.2 186.84 L584.2 187.24 L585.2 186.9 L586.2 187.24 L587.2 186.53 L588.2 186.86 L589.2 188.11 L590.2 188.37 L591.2 188.02 L592.2 187.06 L593.2 187.47 L594.2 187.69 L595.2 188.75 L596.2 187.61 L597.2 187.51 L598.2 188.05 L599.2 188.58 L600.2 188.38 L601.2 188.59 L602.2 188.97 L603.2 188.8 L604.2 188.01 L605.2 188.48 L606.2 189.81 L607.2 189.58 L608.2 190.26 L609.2 190.26 L610.2 189.95 L611.2 189.57 L612.2 189.97 L613.2 189.45 L614.2 190.36 L615.2 189.85 L616.2 189.59 L617.2 189.11 L618.2 188.96 L619.2 189.06 L620.2 188.91 L621.2 188.66 L622.2 188.62 L623.2 189.26 L624.2 189.89 L625.2 190.19 L626.2 189.57 L627.2 189.07 L628.2 189.4 L629.2 189.81 L630.2 189.26 L631.2 189.49 L632.2 189.36 L633.2 189.27 L634.2 189.22 L635.2 189.79 L636.2 189.33 L637.2 189.36 L638.2 190.1 L639.2 190.52 L640.2 190.52 L641.2 190.31 L642.2 189.7 L643.2 189.7 L644.2 190.29 L645.2 190.17 L646.2 187.89 L647.2 188.41 L648.2 187.4 L649.2 186.11 L650.2 184.78 L651.2 183.71 L652.2 182.42 L653.2 181.62 L654.2 179.94 L655.2 178.82 L656.2 177.52 L657.2 177.82 L658.2 176.96 L659.2 175.53 L660.2 175.42 L661.2 174.58 L662.2 173.86 L663.2 173.9 L664.2 174.04 L665.2 173.99 L666.2 173.27 L667.2 173.27 L668.2 172.89 L669.2 172.66 L670.2 172.37 L671.2 171.19 L672.2 171.42 L673.2 171.94 L674.2 170.64 L675.2 170.66 L676.2 171.51 L677.2 170.33 L678.2 170.41 L679.2 170.35 L680.2 170.04 L681.2 170.37 L682.2 170.11 L683.2 169.39 L684.2 169.9 L685.2 168.72 L686.2 168.39 L687.2 168.3 L688.2 168.04 L689.2 167.25 L690.2 167.15 L691.2 165.92 L692.2 166.04 L693.2 165.64 L694.2 165.34 L695.2 165.27 L696.2 164.96 L697.2 164.18 L698.2 163.85 L699.2 162.86 L700.2 162.9 L701.2 162.99 L702.2 161.89 L703.2 161.42 L704.2 161.16 L705.2 161 L706.2 160.28 L707.2 159.34 L708.2 158.45 L709.2 158.06 L710.2 156.45 L711.2 156.96 L712.2 156.25 L713.2 156.07 L714.2 155.35 L715.2 155.06 L716.2 153.41 L717.2 152.04 L718.2 152.02 L719.2 151.22 L720.2 150.67 L721.2 150.27 L722.2 148.74 L723.2 148.46 L724.2 147.91 L725.2 146.9 L726.2 144.87 L727.2 144.63 L728.2 143.61 L729.2 142.8 L730.2 141.76 L731.2 141.25 L732.2 141.23 L733.2 140.98 L734.2 139.85 L735.2 138.64 L736.2 138.96 L737.2 137.76 L738.2 137.71 L739.2 137.98 L740.2 137.08 L741.2 137.02 L742.2 136.14 L743.2 135.26 L744.2 135.22 L745.2 134.69 L746.2 135.13 L747.2 134.8 L748.2 133.84 L749.2 132.31 L750.2 132.67 L751.2 131.52 L752.2 130.63 L753.2 129.66 L754.2 128.71 L755.2 128.63 L756.2 129.03 L757.2 129.48 L758.2 129.39 L759.2 129.54 L760.2 129.81 L761.2 130.03 L762.2 130.86" stroke="#7E2F8E"/><path d="M532.2 105.92 L533.2 106.14 L534.2 106.24 L535.2 105.95 L536.2 105.61 L537.2 105.35 L538.2 105.6 L539.2 105.49 L540.2 106.52 L541.2 107.01 L542.2 107.24 L543.2 106.28 L544.2 106.47 L545.2 107.39 L546.2 107.39 L547.2 106.72 L548.2 107.22 L549.2 107.72 L550.2 107.79 L551.2 108.14 L552.2 108.14 L553.2 108.09 L554.2 108.48 L555.2 108.61 L556.2 108.94 L557.2 108.27 L558.2 108.6 L559.2 108.68 L560.2 108.98 L561.2 109.4 L562.2 109.43 L563.2 108.78 L564.2 109.87 L565.2 110.02 L566.2 110.05 L567.2 110.07 L568.2 110.44 L569.2 110.25 L570.2 109.59 L571.2 110 L572.2 110.37 L573.2 110.48 L574.2 110.66 L575.2 111.05 L576.2 110.64 L577.2 110.76 L578.2 110.91 L579.2 111.43 L580.2 111.72 L581.2 111.48 L582.2 111.92 L583.2 111.96 L584.2 112.46 L585.2 111.54 L586.2 112.31 L587.2 112.94 L588.2 112.52 L589.2 112.25 L590.2 112.51 L591.2 113.1 L592.2 113.05 L593.2 113.62 L594.2 113.45 L595.2 113.28 L596.2 113.49 L597.2 114.02 L598.2 114.29 L599.2 113.73 L600.2 113.56 L601.2 113.79 L602.2 114.64 L603.2 115.2 L604.2 114.61 L605.2 114.86 L606.2 114.73 L607.2 115.01 L608.2 114.4 L609.2 114.87 L610.2 114.36 L611.2 114.47 L612.2 114.91 L613.2 114.81 L614.2 114.87 L615.2 115.09 L616.2 115.12 L617.2 115.53 L618.2 115.22 L619.2 114.6 L620.2 114.71 L621.2 114.57 L622.2 114.72 L623.2 115.31 L624.2 114.63 L625.2 115.18 L626.2 115.49 L627.2 115.71 L628.2 114.76 L629.2 114.61 L630.2 114.58 L631.2 114.56 L632.2 115.49 L633.2 115.61 L634.2 114.41 L635.2 115.2 L636.2 115.99 L637.2 115.46 L638.2 115.55 L639.2 115.85 L640.2 115.88 L641.2 115.81 L642.2 115.97 L643.2 116.39 L644.2 115.11 L645.2 115.28 L646.2 114.72 L647.2 114.2 L648.2 112.94 L649.2 111.85 L650.2 110.53 L651.2 109.57 L652.2 106.42 L653.2 104.19 L654.2 102.19 L655.2 99.45 L656.2 97.31 L657.2 95.18 L658.2 94.17 L659.2 92.5 L660.2 91.13 L661.2 89.43 L662.2 88.5 L663.2 88.03 L664.2 88.19 L665.2 86.79 L666.2 86.92 L667.2 86.76 L668.2 86.77 L669.2 86.16 L670.2 85.59 L671.2 85.87 L672.2 85.37 L673.2 86.18 L674.2 85.93 L675.2 85.63 L676.2 85.79 L677.2 86.08 L678.2 85.61 L679.2 86.58 L680.2 86.18 L681.2 86.85 L682.2 86.79 L683.2 87.23 L684.2 86.47 L685.2 87.05 L686.2 86.89 L687.2 86.73 L688.2 87.11 L689.2 86.66 L690.2 86.26 L691.2 86.17 L692.2 85.8 L693.2 85.73 L694.2 85.67 L695.2 85.76 L696.2 85.09 L697.2 84.62 L698.2 84.85 L699.2 84.27 L700.2 83.71 L701.2 83.59 L702.2 84.34 L703.2 83.76 L704.2 83.82 L705.2 82.69 L706.2 82.4 L707.2 83.03 L708.2 82.19 L709.2 81.71 L710.2 81.29 L711.2 80.77 L712.2 80.93 L713.2 79.99 L714.2 80.01 L715.2 79.34 L716.2 80.04 L717.2 79.2 L718.2 78.5 L719.2 77.14 L720.2 77.14 L721.2 76.41 L722.2 75.73 L723.2 75.34 L724.2 75.4 L725.2 74.65 L726.2 73.82 L727.2 73.18 L728.2 72.6 L729.2 72.05 L730.2 71.45 L731.2 70.5 L732.2 69.75 L733.2 68.8 L734.2 68.96 L735.2 68.69 L736.2 67.92 L737.2 67.85 L738.2 66.73 L739.2 66.46 L740.2 66.41 L741.2 65.59 L742.2 64.74 L743.2 64.56 L744.2 64.01 L745.2 64.02 L746.2 63.42 L747.2 62.53 L748.2 62.29 L749.2 62.19 L750.2 61.45 L751.2 60.6 L752.2 59.53 L753.2 58.64 L754.2 58.05 L755.2 57.89 L756.2 56.68 L757.2 56.5 L758.2 56.13 L759.2 54.65 L760.2 55.02 L761.2 54.73 L762.2 55.01" stroke="#77AC30"/></g>
<path d="M554.77 48.3v10.6M554.77 416.2v-10.6M575.34 48.3v5.1M575.34 416.2v-5.1M595.91 48.3v5.1M595.91 416.2v-5.1M616.48 48.3v10.6M616.48 416.2v-10.6M637.05 48.3v5.1M637.05 416.2v-5.1M657.62 48.3v5.1M657.62 416.2v-5.1M678.19 48.3v10.6M678.19 416.2v-10.6M698.76 48.3v5.1M698.76 416.2v-5.1M719.33 48.3v5.1M719.33 416.2v-5.1M739.9 48.3v10.6M739.9 416.2v-10.6M534.2 55.2h11M760.3 55.2h-11M534.2 73.25h5.2M760.3 73.25h-5.2M534.2 91.3h5.2M760.3 91.3h-5.2M534.2 109.35h5.2M760.3 109.35h-5.2M534.2 127.4h11M760.3 127.4h-11M534.2 145.45h5.2M760.3 145.45h-5.2M534.2 163.5h5.2M760.3 163.5h-5.2M534.2 181.55h5.2M760.3 181.55h-5.2M534.2 199.6h11M760.3 199.6h-11M534.2 217.65h5.2M760.3 217.65h-5.2M534.2 235.7h5.2M760.3 235.7h-5.2M534.2 253.75h5.2M760.3 253.75h-5.2M534.2 271.8h11M760.3 271.8h-11M534.2 289.85h5.2M760.3 289.85h-5.2M534.2 307.9h5.2M760.3 307.9h-5.2M534.2 325.95h5.2M760.3 325.95h-5.2M534.2 344h11M760.3 344h-11M534.2 362.05h5.2M760.3 362.05h-5.2M534.2 380.1h5.2M760.3 380.1h-5.2M534.2 398.15h5.2M760.3 398.15h-5.2" stroke="#222" stroke-width="1.45" fill="none"/>
<rect x="534.2" y="48.3" width="226.1" height="367.9" fill="none" stroke="#222" stroke-width="1.5" stroke-linejoin="round"/>
<clipPath id="cd"><rect x="781.4" y="48.3" width="226.1" height="367.9"/></clipPath>
<g stroke="#a3a3a3" stroke-width="1.15" stroke-dasharray="14.1 8.5" fill="none"><line x1="781.4" y1="55.2" x2="1007.5" y2="55.2"/><line x1="781.4" y1="127.4" x2="1007.5" y2="127.4"/><line x1="781.4" y1="199.6" x2="1007.5" y2="199.6"/><line x1="781.4" y1="271.8" x2="1007.5" y2="271.8"/><line x1="781.4" y1="344" x2="1007.5" y2="344"/></g>
<g clip-path="url(#cd)" fill="none" stroke-width="3.5" stroke-linejoin="round" stroke-linecap="round"><path d="M779.4 328.22 L781.1 332.21 L782.8 343.55 L784.5 336.89 L786.2 369.95 L787.9 347.59 L789.6 374.68 L791.3 383.34 L793 350.44 L794.7 371.62 L796.4 360.17 L798.1 384.55 L799.8 369.35 L801.5 366.7 L803.2 368.04 L804.9 379.39 L806.6 370.58 L808.3 367.68 L810 380.81 L811.7 381.14 L813.4 358.95 L815.1 368.72 L816.8 383.65 L818.5 373.4 L820.2 358.75 L821.9 369.41 L823.6 382.68 L825.3 375.2 L827 357.65 L828.7 357.84 L830.4 361.74 L832.1 364.46 L833.8 364.16 L835.5 373.1 L837.2 365.13 L838.9 368.45 L840.6 374.21 L842.3 370.49 L844 377.65 L845.7 367.56 L847.4 368.48 L849.1 387.38 L850.8 353.46 L852.5 362.67 L854.2 352.11 L855.9 365.9 L857.6 365.65 L859.3 391.48 L861 355.93 L862.7 367.58 L864.4 364.98 L866.1 378.2 L867.8 377.07 L869.5 359.7 L871.2 389.39 L872.9 366.26 L874.6 371.61 L876.3 394.9 L878 371.85 L879.7 373.18 L881.4 390.2 L883.1 378.39 L884.8 386.37 L886.5 375.02 L888.2 384.63 L889.9 374.82 L891.6 382.69 L893.3 396.32 L895 383.66 L896.7 372.07 L898.4 376.46 L900.1 370.36 L901.8 386.06 L903.5 388.97 L905.2 367.52 L906.9 359.25 L908.6 358.82 L910.3 372.57 L912 369.99 L913.7 364.18 L915.4 371.96 L917.1 357.57 L918.8 371.38 L920.5 392.37 L922.2 386.98 L923.9 379.27 L925.6 392.84 L927.3 361.65 L929 360.15 L930.7 353.72 L932.4 380.75 L934.1 371.96 L935.8 387.39 L937.5 369.46 L939.2 378.42 L940.9 395.73 L942.6 354.47 L944.3 374.28 L946 397.47 L947.7 393.53 L949.4 399.86 L951.1 388.6 L952.8 376.97 L954.5 394.36 L956.2 403.02 L957.9 358.05 L959.6 403.88 L961.3 370.51 L963 364.93 L964.7 347.92 L966.4 379.25 L968.1 406.63 L969.8 345.67 L971.5 360.91 L973.2 340.43 L974.9 363 L976.6 387.42 L978.3 345.02 L980 352.1 L981.7 379.38 L983.4 353.28 L985.1 408.59 L986.8 337.09 L988.5 404.5 L990.2 354.8 L991.9 355.04 L993.6 368.44 L995.3 360.39 L997 389.97 L998.7 379.56 L1000.4 356.67 L1002.1 372.57 L1003.8 375.17 L1005.5 377.55 L1007.2 360.27 L1008.9 370.43" stroke="#0072BD"/><path d="M779.4 299.65 L780.4 299.03 L781.4 295.9 L782.4 297.38 L783.4 298.32 L784.4 298.54 L785.4 300.79 L786.4 302.31 L787.4 303.29 L788.4 303.44 L789.4 303.19 L790.4 304.42 L791.4 302.95 L792.4 300.33 L793.4 302.1 L794.4 302.49 L795.4 303.37 L796.4 302.94 L797.4 303.28 L798.4 304.56 L799.4 302.76 L800.4 302.09 L801.4 303.66 L802.4 304.26 L803.4 303.66 L804.4 303.52 L805.4 302.86 L806.4 302.17 L807.4 302.54 L808.4 302.87 L809.4 304.77 L810.4 304.2 L811.4 305.24 L812.4 303.98 L813.4 303.19 L814.4 304.16 L815.4 304.7 L816.4 305.16 L817.4 302.52 L818.4 303.62 L819.4 304.58 L820.4 303.87 L821.4 304.45 L822.4 304.66 L823.4 306.29 L824.4 305.86 L825.4 302.78 L826.4 302.83 L827.4 303.9 L828.4 304.84 L829.4 304.92 L830.4 304.9 L831.4 306.1 L832.4 306.59 L833.4 306 L834.4 305.73 L835.4 306.02 L836.4 305.82 L837.4 307.49 L838.4 307.71 L839.4 306.72 L840.4 308.58 L841.4 308 L842.4 308.55 L843.4 308.05 L844.4 308.02 L845.4 308.6 L846.4 307.35 L847.4 307.52 L848.4 307.06 L849.4 308.27 L850.4 307.76 L851.4 307.31 L852.4 307.13 L853.4 307.93 L854.4 307.46 L855.4 306.6 L856.4 306.46 L857.4 308.27 L858.4 307.66 L859.4 305.28 L860.4 306.63 L861.4 306.19 L862.4 305.67 L863.4 305.17 L864.4 304.04 L865.4 307.09 L866.4 306.84 L867.4 304.56 L868.4 303.92 L869.4 303.65 L870.4 302.92 L871.4 303.6 L872.4 302.88 L873.4 301.69 L874.4 301.85 L875.4 301.7 L876.4 301.65 L877.4 302.04 L878.4 302.77 L879.4 301.7 L880.4 300.96 L881.4 303.28 L882.4 302.41 L883.4 303.76 L884.4 303.13 L885.4 302.95 L886.4 301.93 L887.4 302.53 L888.4 302.4 L889.4 302.8 L890.4 303.27 L891.4 302.87 L892.4 303.48 L893.4 301.69 L894.4 301.92 L895.4 303.52 L896.4 304.07 L897.4 304.76 L898.4 305.17 L899.4 304.22 L900.4 304.16 L901.4 303.69 L902.4 303.41 L903.4 303.15 L904.4 303.12 L905.4 302.55 L906.4 302.95 L907.4 303.84 L908.4 303.84 L909.4 304.03 L910.4 302.59 L911.4 302.5 L912.4 303 L913.4 301.9 L914.4 301.94 L915.4 303.3 L916.4 303.1 L917.4 304.05 L918.4 303.65 L919.4 303.1 L920.4 303.13 L921.4 305.18 L922.4 304.52 L923.4 303.63 L924.4 303.33 L925.4 304.15 L926.4 305.93 L927.4 307.8 L928.4 306.76 L929.4 307.75 L930.4 307.22 L931.4 303.85 L932.4 304.84 L933.4 305.82 L934.4 303.21 L935.4 304.57 L936.4 303.09 L937.4 301.54 L938.4 304.14 L939.4 303.3 L940.4 304.25 L941.4 303.08 L942.4 302.25 L943.4 304.01 L944.4 304.94 L945.4 304.06 L946.4 301.95 L947.4 302.81 L948.4 301.57 L949.4 302.16 L950.4 303.58 L951.4 302.11 L952.4 304.5 L953.4 301.45 L954.4 301.27 L955.4 303.11 L956.4 302.62 L957.4 302.31 L958.4 301.84 L959.4 302.95 L960.4 302.37 L961.4 301.32 L962.4 299.84 L963.4 298.7 L964.4 298.89 L965.4 296.73 L966.4 297.38 L967.4 298.36 L968.4 297.89 L969.4 295.84 L970.4 293.58 L971.4 295.64 L972.4 295.77 L973.4 294.53 L974.4 294.63 L975.4 292.92 L976.4 288.79 L977.4 287.42 L978.4 285.57 L979.4 285.14 L980.4 282.88 L981.4 280.44 L982.4 279.94 L983.4 279.46 L984.4 277.63 L985.4 277.45 L986.4 277.24 L987.4 276.67 L988.4 276.52 L989.4 276.48 L990.4 274.82 L991.4 274.67 L992.4 276.3 L993.4 276.92 L994.4 276.01 L995.4 272.32 L996.4 272.77 L997.4 271.59 L998.4 271.37 L999.4 271.78 L1000.4 272.49 L1001.4 272.18 L1002.4 269.75 L1003.4 271.38 L1004.4 273.4 L1005.4 272.75 L1006.4 271.4 L1007.4 271.78 L1008.4 272.46 L1009.4 274.42" stroke="#D95319"/><path d="M779.4 243.07 L780.4 242.12 L781.4 241.06 L782.4 241.52 L783.4 242.29 L784.4 244.34 L785.4 242.74 L786.4 243.5 L787.4 242.36 L788.4 242.57 L789.4 243.59 L790.4 243.64 L791.4 246.37 L792.4 245.75 L793.4 243.26 L794.4 244.94 L795.4 245.96 L796.4 243.35 L797.4 244.2 L798.4 246.14 L799.4 244.4 L800.4 245.46 L801.4 245.17 L802.4 245.09 L803.4 244.08 L804.4 244.91 L805.4 245.38 L806.4 247.67 L807.4 246.87 L808.4 246.03 L809.4 246.01 L810.4 246.32 L811.4 244.06 L812.4 244.3 L813.4 244.66 L814.4 244.7 L815.4 244.38 L816.4 246.54 L817.4 246.45 L818.4 247.98 L819.4 246.84 L820.4 246.51 L821.4 247.5 L822.4 247.63 L823.4 247.11 L824.4 248.23 L825.4 248.94 L826.4 247.7 L827.4 249.1 L828.4 248.24 L829.4 249.08 L830.4 248.4 L831.4 248.16 L832.4 248.73 L833.4 247.35 L834.4 247.04 L835.4 248.9 L836.4 249.04 L837.4 248.96 L838.4 252.28 L839.4 250.97 L840.4 249.67 L841.4 250.96 L842.4 251.16 L843.4 250.18 L844.4 249.74 L845.4 248.41 L846.4 250.82 L847.4 253.05 L848.4 252.5 L849.4 251.71 L850.4 249.56 L851.4 248.96 L852.4 250.85 L853.4 250.4 L854.4 249.5 L855.4 249.41 L856.4 250.62 L857.4 250.14 L858.4 248.71 L859.4 248.31 L860.4 246.56 L861.4 247.04 L862.4 248.8 L863.4 247.77 L864.4 247.14 L865.4 248.41 L866.4 249.1 L867.4 246.81 L868.4 246.67 L869.4 247.32 L870.4 249.9 L871.4 248.51 L872.4 246.65 L873.4 244.85 L874.4 246.75 L875.4 246.74 L876.4 245.55 L877.4 244.7 L878.4 244.57 L879.4 243.55 L880.4 244.73 L881.4 244.89 L882.4 244.56 L883.4 244.9 L884.4 244.36 L885.4 246.98 L886.4 246.02 L887.4 245.12 L888.4 247.21 L889.4 247.32 L890.4 245.96 L891.4 245.18 L892.4 246.69 L893.4 247.76 L894.4 248.27 L895.4 248.7 L896.4 248.17 L897.4 245.89 L898.4 246.69 L899.4 245.47 L900.4 248.09 L901.4 248.21 L902.4 248.39 L903.4 247.36 L904.4 246.83 L905.4 245.52 L906.4 243.31 L907.4 246.31 L908.4 249.73 L909.4 248.44 L910.4 246.43 L911.4 246.65 L912.4 246.63 L913.4 245.6 L914.4 246.22 L915.4 246.87 L916.4 246.69 L917.4 248.36 L918.4 250.05 L919.4 250.32 L920.4 250.13 L921.4 250.4 L922.4 251.96 L923.4 251.77 L924.4 252.84 L925.4 255.45 L926.4 254.26 L927.4 253.23 L928.4 254.89 L929.4 254.35 L930.4 253.21 L931.4 250.88 L932.4 250.5 L933.4 248.18 L934.4 246.17 L935.4 246.14 L936.4 245.63 L937.4 243.57 L938.4 243.58 L939.4 243.38 L940.4 242.16 L941.4 241.95 L942.4 241.27 L943.4 240.24 L944.4 241.1 L945.4 240.74 L946.4 237.91 L947.4 238.96 L948.4 240.73 L949.4 239.92 L950.4 237.49 L951.4 239.47 L952.4 241.02 L953.4 240.47 L954.4 239.77 L955.4 238.51 L956.4 237.89 L957.4 236.45 L958.4 237.53 L959.4 239.1 L960.4 235.83 L961.4 233.56 L962.4 233.36 L963.4 230.92 L964.4 234.11 L965.4 232.56 L966.4 230.76 L967.4 230.02 L968.4 229.38 L969.4 230.17 L970.4 229.64 L971.4 228.04 L972.4 229.72 L973.4 227.47 L974.4 224.97 L975.4 224.79 L976.4 222.23 L977.4 218.15 L978.4 215.9 L979.4 215.73 L980.4 213.26 L981.4 212.63 L982.4 212.33 L983.4 208.51 L984.4 206.74 L985.4 206.66 L986.4 206.57 L987.4 207 L988.4 207.4 L989.4 206.11 L990.4 207.46 L991.4 205.39 L992.4 202.65 L993.4 204.22 L994.4 205.34 L995.4 205.2 L996.4 203.02 L997.4 203.48 L998.4 205.42 L999.4 202.97 L1000.4 200.71 L1001.4 199.65 L1002.4 200.57 L1003.4 201.03 L1004.4 199.76 L1005.4 201.34 L1006.4 198.86 L1007.4 197.58 L1008.4 200.08 L1009.4 199.94" stroke="#EDB120"/><path d="M779.4 183.75 L780.4 184.65 L781.4 183.98 L782.4 183.91 L783.4 184.23 L784.4 184.05 L785.4 184.25 L786.4 184.1 L787.4 184.51 L788.4 184.29 L789.4 184.08 L790.4 184.7 L791.4 184.66 L792.4 183.93 L793.4 184.08 L794.4 183.68 L795.4 184.69 L796.4 185.59 L797.4 186.4 L798.4 185.53 L799.4 185.83 L800.4 186.14 L801.4 185.52 L802.4 184.18 L803.4 184.83 L804.4 185.52 L805.4 185.64 L806.4 185.48 L807.4 184.82 L808.4 184.48 L809.4 185.82 L810.4 186.41 L811.4 185.77 L812.4 186.1 L813.4 185.72 L814.4 185.83 L815.4 185.88 L816.4 186.49 L817.4 185.88 L818.4 186.46 L819.4 187.02 L820.4 186.54 L821.4 186.05 L822.4 186.87 L823.4 186.73 L824.4 186.28 L825.4 186.88 L826.4 187.18 L827.4 187.67 L828.4 187.33 L829.4 187.69 L830.4 187.84 L831.4 186.91 L832.4 188.21 L833.4 187.94 L834.4 187.43 L835.4 188.1 L836.4 188.56 L837.4 187.7 L838.4 187.8 L839.4 188.93 L840.4 189.33 L841.4 189.35 L842.4 188.16 L843.4 187.35 L844.4 187.29 L845.4 187.56 L846.4 187.42 L847.4 188.24 L848.4 188.59 L849.4 187.66 L850.4 188.53 L851.4 187.49 L852.4 187.22 L853.4 187.1 L854.4 188.11 L855.4 187.9 L856.4 187.49 L857.4 186.11 L858.4 187.16 L859.4 187.56 L860.4 186.48 L861.4 188.57 L862.4 188.28 L863.4 188.32 L864.4 187.75 L865.4 188.29 L866.4 188.78 L867.4 189.09 L868.4 187.55 L869.4 188.49 L870.4 187.2 L871.4 187.43 L872.4 187.28 L873.4 187.11 L874.4 186.32 L875.4 186.93 L876.4 186.73 L877.4 187.24 L878.4 187.61 L879.4 187.56 L880.4 187.66 L881.4 188.41 L882.4 188.08 L883.4 188.25 L884.4 188.61 L885.4 188 L886.4 188.07 L887.4 188.39 L888.4 188.2 L889.4 188.81 L890.4 188.07 L891.4 188.18 L892.4 188.34 L893.4 188.38 L894.4 188.56 L895.4 188.18 L896.4 187.54 L897.4 189.2 L898.4 188.93 L899.4 189.24 L900.4 188.61 L901.4 189.15 L902.4 188.67 L903.4 189.86 L904.4 189.3 L905.4 188.68 L906.4 187.38 L907.4 187.69 L908.4 188.81 L909.4 189.01 L910.4 189.08 L911.4 189.4 L912.4 190.17 L913.4 189.66 L914.4 189.57 L915.4 189.53 L916.4 189.73 L917.4 190.72 L918.4 190.78 L919.4 191.15 L920.4 191.85 L921.4 192.22 L922.4 192.9 L923.4 192.96 L924.4 192.04 L925.4 192.39 L926.4 193.28 L927.4 192.72 L928.4 192.69 L929.4 191.4 L930.4 189.92 L931.4 189.57 L932.4 189.98 L933.4 190.13 L934.4 191.04 L935.4 189.84 L936.4 188.9 L937.4 187.88 L938.4 185.79 L939.4 185.49 L940.4 184.94 L941.4 184.89 L942.4 182.69 L943.4 181.36 L944.4 181.46 L945.4 180.96 L946.4 180.56 L947.4 180.15 L948.4 179.54 L949.4 178.62 L950.4 178.51 L951.4 179.29 L952.4 177.63 L953.4 177.25 L954.4 175.95 L955.4 175.2 L956.4 176.06 L957.4 175.67 L958.4 175.75 L959.4 175.16 L960.4 174.04 L961.4 173.16 L962.4 173.74 L963.4 172.61 L964.4 172.68 L965.4 171.38 L966.4 170.47 L967.4 169.42 L968.4 168.26 L969.4 167.14 L970.4 167.01 L971.4 164.12 L972.4 162.06 L973.4 161.21 L974.4 159.29 L975.4 158.13 L976.4 156.03 L977.4 154.72 L978.4 152.19 L979.4 149.6 L980.4 147.92 L981.4 146.59 L982.4 144.39 L983.4 142.91 L984.4 142.13 L985.4 141.51 L986.4 141.01 L987.4 139.84 L988.4 139.09 L989.4 138.15 L990.4 138.69 L991.4 138.32 L992.4 136.41 L993.4 136.08 L994.4 135.53 L995.4 135.08 L996.4 134.06 L997.4 132.97 L998.4 131.96 L999.4 131.7 L1000.4 131.59 L1001.4 131.64 L1002.4 130.88 L1003.4 129.76 L1004.4 128.96 L1005.4 128.31 L1006.4 129.02 L1007.4 128.83 L1008.4 129.07 L1009.4 129.19" stroke="#7E2F8E"/><path d="M779.4 112.06 L780.4 112.64 L781.4 113.21 L782.4 112.53 L783.4 112.98 L784.4 114.09 L785.4 113.29 L786.4 113.08 L787.4 113.32 L788.4 113.28 L789.4 112.99 L790.4 113.84 L791.4 113.32 L792.4 113.71 L793.4 114.05 L794.4 114.46 L795.4 114.36 L796.4 114.28 L797.4 114.29 L798.4 114.71 L799.4 114.63 L800.4 114.46 L801.4 114.3 L802.4 114.58 L803.4 114.93 L804.4 114.56 L805.4 115.13 L806.4 115.4 L807.4 115.71 L808.4 115.13 L809.4 115 L810.4 115.34 L811.4 115.18 L812.4 114.68 L813.4 115.93 L814.4 115.93 L815.4 115.81 L816.4 115.61 L817.4 116 L818.4 116.09 L819.4 116.77 L820.4 116.74 L821.4 116.83 L822.4 116.01 L823.4 116.07 L824.4 116.37 L825.4 116.62 L826.4 117.45 L827.4 117.14 L828.4 116.66 L829.4 117.1 L830.4 117.88 L831.4 117.39 L832.4 117.44 L833.4 116.77 L834.4 117.1 L835.4 117.36 L836.4 117.39 L837.4 117.51 L838.4 117.72 L839.4 117.8 L840.4 116.89 L841.4 117.36 L842.4 117.68 L843.4 117.59 L844.4 117.75 L845.4 117.28 L846.4 116.98 L847.4 116.9 L848.4 117.31 L849.4 116.64 L850.4 116.78 L851.4 117.01 L852.4 117.18 L853.4 116.81 L854.4 116.59 L855.4 116.95 L856.4 116.45 L857.4 116.35 L858.4 116.08 L859.4 116.8 L860.4 116.81 L861.4 116.21 L862.4 116.69 L863.4 117.01 L864.4 116.53 L865.4 116.18 L866.4 116.75 L867.4 116.94 L868.4 116.28 L869.4 117.03 L870.4 116.99 L871.4 117.13 L872.4 116.62 L873.4 117.16 L874.4 117.13 L875.4 117.2 L876.4 117.04 L877.4 117.23 L878.4 116.86 L879.4 116.63 L880.4 116.37 L881.4 116.3 L882.4 116.9 L883.4 116.95 L884.4 117.06 L885.4 117.14 L886.4 117.42 L887.4 117.39 L888.4 117.32 L889.4 117.98 L890.4 118.46 L891.4 117.56 L892.4 117.66 L893.4 118.06 L894.4 117.89 L895.4 118.4 L896.4 117.93 L897.4 117.7 L898.4 117.99 L899.4 118.59 L900.4 117.83 L901.4 118.28 L902.4 117.89 L903.4 118.84 L904.4 119.04 L905.4 119.3 L906.4 119.78 L907.4 119.24 L908.4 119.57 L909.4 119.57 L910.4 119.64 L911.4 119.24 L912.4 119.78 L913.4 119.64 L914.4 120.27 L915.4 120.29 L916.4 120.13 L917.4 120.45 L918.4 120.65 L919.4 120.94 L920.4 121.76 L921.4 120.77 L922.4 120.45 L923.4 120.65 L924.4 121.18 L925.4 121.46 L926.4 121.78 L927.4 121.82 L928.4 121.42 L929.4 121.03 L930.4 120.52 L931.4 120.92 L932.4 120.78 L933.4 119.98 L934.4 119.71 L935.4 118.83 L936.4 118.33 L937.4 117.75 L938.4 117.03 L939.4 115.45 L940.4 115.01 L941.4 114.51 L942.4 113.53 L943.4 112.56 L944.4 110.81 L945.4 110.55 L946.4 110.17 L947.4 109.32 L948.4 108.35 L949.4 108.85 L950.4 108.05 L951.4 106.68 L952.4 106.53 L953.4 106.37 L954.4 106.19 L955.4 105.5 L956.4 104.38 L957.4 104 L958.4 103.97 L959.4 103.75 L960.4 102.76 L961.4 102.13 L962.4 101.93 L963.4 101.3 L964.4 100.93 L965.4 99.95 L966.4 98.99 L967.4 97.05 L968.4 96.06 L969.4 95.09 L970.4 94.39 L971.4 93.6 L972.4 92.12 L973.4 90.74 L974.4 88.87 L975.4 87.78 L976.4 86.05 L977.4 83.48 L978.4 81.85 L979.4 80.44 L980.4 79.29 L981.4 77.81 L982.4 76.37 L983.4 73.88 L984.4 72.84 L985.4 71.5 L986.4 70.1 L987.4 68.79 L988.4 67.2 L989.4 66.98 L990.4 66.03 L991.4 65.14 L992.4 65.25 L993.4 64.06 L994.4 63.48 L995.4 62.38 L996.4 61.26 L997.4 60.85 L998.4 60.33 L999.4 59.28 L1000.4 59.25 L1001.4 59.32 L1002.4 58.66 L1003.4 57.6 L1004.4 57.08 L1005.4 57.22 L1006.4 56.28 L1007.4 56.37 L1008.4 57.36 L1009.4 57.09" stroke="#77AC30"/></g>
<path d="M801.97 48.3v10.6M801.97 416.2v-10.6M822.54 48.3v5.1M822.54 416.2v-5.1M843.11 48.3v5.1M843.11 416.2v-5.1M863.68 48.3v10.6M863.68 416.2v-10.6M884.25 48.3v5.1M884.25 416.2v-5.1M904.82 48.3v5.1M904.82 416.2v-5.1M925.39 48.3v10.6M925.39 416.2v-10.6M945.96 48.3v5.1M945.96 416.2v-5.1M966.53 48.3v5.1M966.53 416.2v-5.1M987.1 48.3v10.6M987.1 416.2v-10.6M781.4 55.2h11M1007.5 55.2h-11M781.4 73.25h5.2M1007.5 73.25h-5.2M781.4 91.3h5.2M1007.5 91.3h-5.2M781.4 109.35h5.2M1007.5 109.35h-5.2M781.4 127.4h11M1007.5 127.4h-11M781.4 145.45h5.2M1007.5 145.45h-5.2M781.4 163.5h5.2M1007.5 163.5h-5.2M781.4 181.55h5.2M1007.5 181.55h-5.2M781.4 199.6h11M1007.5 199.6h-11M781.4 217.65h5.2M1007.5 217.65h-5.2M781.4 235.7h5.2M1007.5 235.7h-5.2M781.4 253.75h5.2M1007.5 253.75h-5.2M781.4 271.8h11M1007.5 271.8h-11M781.4 289.85h5.2M1007.5 289.85h-5.2M781.4 307.9h5.2M1007.5 307.9h-5.2M781.4 325.95h5.2M1007.5 325.95h-5.2M781.4 344h11M1007.5 344h-11M781.4 362.05h5.2M1007.5 362.05h-5.2M781.4 380.1h5.2M1007.5 380.1h-5.2M781.4 398.15h5.2M1007.5 398.15h-5.2" stroke="#222" stroke-width="1.45" fill="none"/>
<rect x="781.4" y="48.3" width="226.1" height="367.9" fill="none" stroke="#222" stroke-width="1.5" stroke-linejoin="round"/>
<clipPath id="ce"><rect x="1028.6" y="48.3" width="226.1" height="367.9"/></clipPath>
<g stroke="#a3a3a3" stroke-width="1.15" stroke-dasharray="14.1 8.5" fill="none"><line x1="1028.6" y1="55.2" x2="1254.7" y2="55.2"/><line x1="1028.6" y1="127.4" x2="1254.7" y2="127.4"/><line x1="1028.6" y1="199.6" x2="1254.7" y2="199.6"/><line x1="1028.6" y1="271.8" x2="1254.7" y2="271.8"/><line x1="1028.6" y1="344" x2="1254.7" y2="344"/></g>
<g clip-path="url(#ce)" fill="none" stroke-width="3.5" stroke-linejoin="round" stroke-linecap="round"><path d="M1026.6 338.04 L1028.3 344.53 L1030 329.36 L1031.7 343.3 L1033.4 345.63 L1035.1 363.56 L1036.8 344.05 L1038.5 340.09 L1040.2 345.29 L1041.9 354 L1043.6 346.31 L1045.3 347.94 L1047 349.69 L1048.7 344.42 L1050.4 357.85 L1052.1 359.06 L1053.8 357.84 L1055.5 363.15 L1057.2 372.23 L1058.9 350.14 L1060.6 368.55 L1062.3 358.37 L1064 357.75 L1065.7 357.58 L1067.4 365.75 L1069.1 368.5 L1070.8 378.65 L1072.5 382.5 L1074.2 363.79 L1075.9 374.12 L1077.6 372.84 L1079.3 359.79 L1081 385.04 L1082.7 366.8 L1084.4 366.48 L1086.1 384.13 L1087.8 383.54 L1089.5 378.41 L1091.2 369.17 L1092.9 367.13 L1094.6 360.2 L1096.3 387.71 L1098 382.47 L1099.7 374.17 L1101.4 384.09 L1103.1 365.4 L1104.8 386.03 L1106.5 370.66 L1108.2 371.76 L1109.9 382.85 L1111.6 378.8 L1113.3 379.26 L1115 366.35 L1116.7 358.52 L1118.4 365.17 L1120.1 370.22 L1121.8 353.81 L1123.5 380.49 L1125.2 351.52 L1126.9 377.22 L1128.6 379.27 L1130.3 365.96 L1132 363.57 L1133.7 351.92 L1135.4 378.58 L1137.1 387.01 L1138.8 383.66 L1140.5 364.08 L1142.2 393.29 L1143.9 368.27 L1145.6 357.61 L1147.3 384.41 L1149 366.93 L1150.7 387.65 L1152.4 387.75 L1154.1 373.53 L1155.8 374.63 L1157.5 393.91 L1159.2 397.5 L1160.9 403.2 L1162.6 391.06 L1164.3 391.91 L1166 398.86 L1167.7 391.83 L1169.4 390.35 L1171.1 368.12 L1172.8 370.45 L1174.5 375.93 L1176.2 381.38 L1177.9 394.69 L1179.6 395.56 L1181.3 385.4 L1183 389.2 L1184.7 372.88 L1186.4 372.93 L1188.1 393.52 L1189.8 379.84 L1191.5 398.64 L1193.2 391.89 L1194.9 382.47 L1196.6 410.45 L1198.3 399.1 L1200 387.73 L1201.7 396.94 L1203.4 414.04 L1205.1 382.11 L1206.8 408.66 L1208.5 393.61 L1210.2 400.35 L1211.9 391.62 L1213.6 384.53 L1215.3 388.3 L1217 417.39 L1218.7 406.74 L1220.4 383.72 L1222.1 394.85 L1223.8 393.35 L1225.5 383.27 L1227.2 398.67 L1228.9 399.04 L1230.6 391.18 L1232.3 405.45 L1234 392.08 L1235.7 410.47 L1237.4 394.81 L1239.1 412.22 L1240.8 393.11 L1242.5 393.48 L1244.2 409.72 L1245.9 399.97 L1247.6 408.88 L1249.3 413.93 L1251 412.5 L1252.7 400.3 L1254.4 399.76 L1256.1 404.02" stroke="#0072BD"/><path d="M1026.6 272.51 L1028.6 271.68 L1030.6 272.61 L1032.6 273.63 L1034.6 277.35 L1036.6 278.01 L1038.6 277.78 L1040.6 279.04 L1042.6 278.05 L1044.6 275.61 L1046.6 276.32 L1048.6 278.86 L1050.6 275.16 L1052.6 281.95 L1054.6 278.3 L1056.6 284.98 L1058.6 282.16 L1060.6 279.17 L1062.6 284.05 L1064.6 284.42 L1066.6 284.4 L1068.6 286.21 L1070.6 286.75 L1072.6 279.79 L1074.6 287.98 L1076.6 285.01 L1078.6 284.77 L1080.6 285.37 L1082.6 282.8 L1084.6 279.22 L1086.6 283.85 L1088.6 281.4 L1090.6 283.69 L1092.6 282.37 L1094.6 284.73 L1096.6 282.92 L1098.6 289.75 L1100.6 282.66 L1102.6 288.2 L1104.6 280.27 L1106.6 286.26 L1108.6 284.71 L1110.6 288.46 L1112.6 286.42 L1114.6 292.8 L1116.6 295.17 L1118.6 284.79 L1120.6 288.89 L1122.6 283.9 L1124.6 283.94 L1126.6 287.02 L1128.6 290.32 L1130.6 289.79 L1132.6 287.27 L1134.6 292.34 L1136.6 285.91 L1138.6 288.55 L1140.6 292.64 L1142.6 286.88 L1144.6 298.75 L1146.6 293.62 L1148.6 292.41 L1150.6 287.51 L1152.6 278.14 L1154.6 283.54 L1156.6 278.5 L1158.6 285.6 L1160.6 287.41 L1162.6 293.63 L1164.6 287.45 L1166.6 293.15 L1168.6 287.79 L1170.6 281.48 L1172.6 292.8 L1174.6 291.77 L1176.6 290.34 L1178.6 297.05 L1180.6 288.16 L1182.6 290.73 L1184.6 295.14 L1186.6 295.27 L1188.6 287.9 L1190.6 291.72 L1192.6 290 L1194.6 291.72 L1196.6 286.88 L1198.6 277.1 L1200.6 284.78 L1202.6 293.24 L1204.6 281.14 L1206.6 283.73 L1208.6 288.56 L1210.6 283.34 L1212.6 279.44 L1214.6 285.54 L1216.6 285.64 L1218.6 283.22 L1220.6 288.43 L1222.6 284.53 L1224.6 286.01 L1226.6 289.4 L1228.6 293.11 L1230.6 291.31 L1232.6 285.45 L1234.6 294.34 L1236.6 294.17 L1238.6 293.26 L1240.6 296.63 L1242.6 293.1 L1244.6 287.37 L1246.6 280.85 L1248.6 290.52 L1250.6 294.52 L1252.6 293.54 L1254.6 296.66 L1256.6 299.67" stroke="#D95319"/><path d="M1026.6 212.02 L1027.6 211.65 L1028.6 212.8 L1029.6 211.55 L1030.6 211.42 L1031.6 213.38 L1032.6 213.86 L1033.6 214.83 L1034.6 214.29 L1035.6 214.43 L1036.6 214.6 L1037.6 215.05 L1038.6 215.95 L1039.6 215.02 L1040.6 216.36 L1041.6 217.2 L1042.6 215.67 L1043.6 215.93 L1044.6 215.72 L1045.6 216.2 L1046.6 217.03 L1047.6 217.87 L1048.6 218.07 L1049.6 217.2 L1050.6 218.25 L1051.6 217.58 L1052.6 217.28 L1053.6 217.6 L1054.6 217.58 L1055.6 219.36 L1056.6 218.85 L1057.6 221.35 L1058.6 223.79 L1059.6 221.02 L1060.6 220.02 L1061.6 222.19 L1062.6 221.88 L1063.6 222.89 L1064.6 223.51 L1065.6 224.48 L1066.6 226.4 L1067.6 225.23 L1068.6 224.99 L1069.6 224.78 L1070.6 224.38 L1071.6 224.5 L1072.6 224.72 L1073.6 226.46 L1074.6 226.24 L1075.6 226.92 L1076.6 227.32 L1077.6 228.76 L1078.6 227.22 L1079.6 227.33 L1080.6 226.81 L1081.6 228.12 L1082.6 227.4 L1083.6 227.22 L1084.6 226.49 L1085.6 228.46 L1086.6 230.04 L1087.6 229.69 L1088.6 227.94 L1089.6 229.27 L1090.6 228.23 L1091.6 227.37 L1092.6 228.35 L1093.6 230.77 L1094.6 229.85 L1095.6 229.22 L1096.6 230.73 L1097.6 231.07 L1098.6 230.78 L1099.6 231.39 L1100.6 231.2 L1101.6 232.6 L1102.6 232.44 L1103.6 231.76 L1104.6 232.23 L1105.6 232.75 L1106.6 232.16 L1107.6 232.55 L1108.6 232.16 L1109.6 231.66 L1110.6 230.39 L1111.6 230.92 L1112.6 231.67 L1113.6 233.44 L1114.6 235.56 L1115.6 232.95 L1116.6 232.69 L1117.6 232.32 L1118.6 233.19 L1119.6 233.84 L1120.6 234.43 L1121.6 233.11 L1122.6 234.51 L1123.6 234.6 L1124.6 233.88 L1125.6 232.95 L1126.6 233.15 L1127.6 234.21 L1128.6 235.03 L1129.6 234.46 L1130.6 233.96 L1131.6 234.62 L1132.6 234.02 L1133.6 236.05 L1134.6 237.94 L1135.6 235.61 L1136.6 236.36 L1137.6 235.37 L1138.6 236.48 L1139.6 237.7 L1140.6 238.62 L1141.6 238.29 L1142.6 239.11 L1143.6 237.35 L1144.6 238.05 L1145.6 238.55 L1146.6 238.53 L1147.6 238.41 L1148.6 239.31 L1149.6 237.24 L1150.6 237.34 L1151.6 236.74 L1152.6 237.11 L1153.6 234.97 L1154.6 235.06 L1155.6 234.24 L1156.6 231.31 L1157.6 234.15 L1158.6 235.61 L1159.6 235.69 L1160.6 233.47 L1161.6 234.07 L1162.6 235.14 L1163.6 233.24 L1164.6 233.35 L1165.6 234.78 L1166.6 235.3 L1167.6 235.91 L1168.6 235.65 L1169.6 234.47 L1170.6 233.17 L1171.6 233.6 L1172.6 234.71 L1173.6 235.58 L1174.6 236.01 L1175.6 236.88 L1176.6 236.13 L1177.6 236.42 L1178.6 236.72 L1179.6 239.54 L1180.6 238.49 L1181.6 239.3 L1182.6 239.72 L1183.6 238.88 L1184.6 238.19 L1185.6 237.9 L1186.6 237.82 L1187.6 236.76 L1188.6 237.92 L1189.6 239.36 L1190.6 239.31 L1191.6 239.74 L1192.6 239.77 L1193.6 239.03 L1194.6 237.51 L1195.6 236.45 L1196.6 235.74 L1197.6 233.44 L1198.6 231.64 L1199.6 232.28 L1200.6 231.07 L1201.6 230.47 L1202.6 227.79 L1203.6 225.86 L1204.6 226.24 L1205.6 225.38 L1206.6 224.91 L1207.6 226.47 L1208.6 224.98 L1209.6 222.76 L1210.6 221.92 L1211.6 222.97 L1212.6 223.44 L1213.6 223 L1214.6 223.13 L1215.6 222.01 L1216.6 220.96 L1217.6 218.8 L1218.6 220.45 L1219.6 219.09 L1220.6 219.08 L1221.6 216.6 L1222.6 216.63 L1223.6 217.79 L1224.6 215.74 L1225.6 216.07 L1226.6 215.91 L1227.6 217.27 L1228.6 216.34 L1229.6 216.44 L1230.6 214.81 L1231.6 213.5 L1232.6 216.02 L1233.6 214.18 L1234.6 213.97 L1235.6 213.39 L1236.6 211.99 L1237.6 213.12 L1238.6 211.53 L1239.6 209.18 L1240.6 208.04 L1241.6 206.63 L1242.6 206.97 L1243.6 206.65 L1244.6 205.24 L1245.6 205 L1246.6 204.28 L1247.6 204.2 L1248.6 203.14 L1249.6 202.05 L1250.6 200.65 L1251.6 199.57 L1252.6 199.41 L1253.6 199.94 L1254.6 199.78 L1255.6 201.35 L1256.6 200.67" stroke="#EDB120"/><path d="M1026.6 170.16 L1027.6 169.54 L1028.6 170.51 L1029.6 170.27 L1030.6 169.7 L1031.6 169.15 L1032.6 169.97 L1033.6 170.11 L1034.6 170.71 L1035.6 170.47 L1036.6 171.17 L1037.6 171.1 L1038.6 171.81 L1039.6 172.17 L1040.6 172.05 L1041.6 172.41 L1042.6 172.72 L1043.6 171.97 L1044.6 172.75 L1045.6 173.08 L1046.6 173.78 L1047.6 173.23 L1048.6 173.53 L1049.6 172.66 L1050.6 174.1 L1051.6 174.16 L1052.6 174.27 L1053.6 174.47 L1054.6 173.58 L1055.6 174.12 L1056.6 174.55 L1057.6 174.5 L1058.6 174.68 L1059.6 175.56 L1060.6 175.34 L1061.6 175.26 L1062.6 175.71 L1063.6 176.71 L1064.6 177.25 L1065.6 176.95 L1066.6 176.45 L1067.6 175.56 L1068.6 175.89 L1069.6 175.93 L1070.6 176.3 L1071.6 177.47 L1072.6 177.09 L1073.6 178.01 L1074.6 177.65 L1075.6 177.49 L1076.6 177.41 L1077.6 176.97 L1078.6 177.71 L1079.6 178.69 L1080.6 178.83 L1081.6 178.7 L1082.6 179.01 L1083.6 178.94 L1084.6 179.4 L1085.6 180.44 L1086.6 179.27 L1087.6 177.99 L1088.6 177.83 L1089.6 178.82 L1090.6 179.76 L1091.6 180.32 L1092.6 179.97 L1093.6 180.12 L1094.6 180.33 L1095.6 179.71 L1096.6 180.21 L1097.6 180.57 L1098.6 180.26 L1099.6 180.2 L1100.6 181.12 L1101.6 181.6 L1102.6 180.89 L1103.6 179.67 L1104.6 180.43 L1105.6 181.06 L1106.6 181.6 L1107.6 181.3 L1108.6 181.51 L1109.6 182.48 L1110.6 182.79 L1111.6 182.11 L1112.6 181.38 L1113.6 181.51 L1114.6 182.51 L1115.6 182.12 L1116.6 182.47 L1117.6 182.62 L1118.6 182.92 L1119.6 183 L1120.6 182.39 L1121.6 182.64 L1122.6 183.24 L1123.6 183.17 L1124.6 182.84 L1125.6 184.23 L1126.6 183.12 L1127.6 183.87 L1128.6 183.03 L1129.6 183.95 L1130.6 183.1 L1131.6 184.3 L1132.6 184.36 L1133.6 184.52 L1134.6 183.91 L1135.6 184.37 L1136.6 184.54 L1137.6 184.47 L1138.6 184.35 L1139.6 185.03 L1140.6 183.53 L1141.6 183.35 L1142.6 183.83 L1143.6 185.26 L1144.6 184.34 L1145.6 184.17 L1146.6 184.27 L1147.6 184.53 L1148.6 184.61 L1149.6 184.37 L1150.6 184.01 L1151.6 184.96 L1152.6 185.16 L1153.6 185.86 L1154.6 185.37 L1155.6 184.79 L1156.6 184.15 L1157.6 184.94 L1158.6 185.58 L1159.6 186.12 L1160.6 185.59 L1161.6 185.66 L1162.6 185.75 L1163.6 186.29 L1164.6 186.04 L1165.6 185.2 L1166.6 184.64 L1167.6 186.12 L1168.6 185.59 L1169.6 184.9 L1170.6 184.49 L1171.6 184.59 L1172.6 185.79 L1173.6 185.97 L1174.6 186.43 L1175.6 186.9 L1176.6 186.18 L1177.6 186.49 L1178.6 186.21 L1179.6 185.89 L1180.6 185.39 L1181.6 186.45 L1182.6 187.66 L1183.6 187.22 L1184.6 187.61 L1185.6 187.96 L1186.6 189.07 L1187.6 188.79 L1188.6 187.56 L1189.6 187.62 L1190.6 188.37 L1191.6 187.9 L1192.6 187.66 L1193.6 187.97 L1194.6 187.46 L1195.6 187.25 L1196.6 188.19 L1197.6 186.37 L1198.6 184.71 L1199.6 184.88 L1200.6 184.62 L1201.6 184.64 L1202.6 183.21 L1203.6 181.82 L1204.6 181.24 L1205.6 179.65 L1206.6 179.1 L1207.6 178.5 L1208.6 176.76 L1209.6 175.07 L1210.6 174.46 L1211.6 173.76 L1212.6 173.28 L1213.6 171.7 L1214.6 170.51 L1215.6 169.02 L1216.6 168.3 L1217.6 167.15 L1218.6 166.73 L1219.6 165.87 L1220.6 165.47 L1221.6 164.1 L1222.6 162.52 L1223.6 161.39 L1224.6 161.24 L1225.6 161.07 L1226.6 160.7 L1227.6 158.9 L1228.6 157.58 L1229.6 156.77 L1230.6 156.77 L1231.6 156.82 L1232.6 156.34 L1233.6 155.78 L1234.6 155.42 L1235.6 154.88 L1236.6 153.43 L1237.6 153.58 L1238.6 153.03 L1239.6 152.24 L1240.6 151.07 L1241.6 149.5 L1242.6 149.44 L1243.6 148 L1244.6 146.83 L1245.6 145.7 L1246.6 144.18 L1247.6 142.73 L1248.6 140.84 L1249.6 138.12 L1250.6 136.04 L1251.6 134.8 L1252.6 132.12 L1253.6 130.67 L1254.6 126.6 L1255.6 125.89 L1256.6 125.95" stroke="#7E2F8E"/><path d="M1026.6 112.57 L1027.6 111.96 L1028.6 112.9 L1029.6 113.21 L1030.6 113.32 L1031.6 113.02 L1032.6 113.56 L1033.6 113.88 L1034.6 113.58 L1035.6 113.85 L1036.6 114.23 L1037.6 114.42 L1038.6 114.23 L1039.6 114.59 L1040.6 115.45 L1041.6 115.48 L1042.6 114.69 L1043.6 115.58 L1044.6 115.1 L1045.6 115.37 L1046.6 114.8 L1047.6 115.07 L1048.6 115.21 L1049.6 115.78 L1050.6 115.79 L1051.6 115.92 L1052.6 116.01 L1053.6 116.08 L1054.6 116.37 L1055.6 116.2 L1056.6 116.1 L1057.6 115.95 L1058.6 115.92 L1059.6 116.21 L1060.6 116.73 L1061.6 117.06 L1062.6 116.95 L1063.6 117.7 L1064.6 117.59 L1065.6 117.19 L1066.6 117.28 L1067.6 117.12 L1068.6 116.71 L1069.6 117.63 L1070.6 117.56 L1071.6 117.1 L1072.6 117.9 L1073.6 117.68 L1074.6 117.67 L1075.6 117.37 L1076.6 118.02 L1077.6 118.37 L1078.6 118.21 L1079.6 118.25 L1080.6 117.86 L1081.6 118.68 L1082.6 118.76 L1083.6 118.87 L1084.6 119.28 L1085.6 119.49 L1086.6 119.28 L1087.6 119.75 L1088.6 120.05 L1089.6 119.22 L1090.6 119.4 L1091.6 119.11 L1092.6 119.92 L1093.6 120.46 L1094.6 119.99 L1095.6 119.63 L1096.6 119.96 L1097.6 120.32 L1098.6 119.77 L1099.6 119.89 L1100.6 120.56 L1101.6 120.21 L1102.6 120.6 L1103.6 120.31 L1104.6 120.27 L1105.6 121.24 L1106.6 121.47 L1107.6 121.07 L1108.6 121.98 L1109.6 121.49 L1110.6 121.48 L1111.6 121.32 L1112.6 121.03 L1113.6 121.71 L1114.6 121.62 L1115.6 121.7 L1116.6 121.6 L1117.6 121.63 L1118.6 122.53 L1119.6 122.01 L1120.6 121.72 L1121.6 121.91 L1122.6 121.44 L1123.6 122.14 L1124.6 122.95 L1125.6 122 L1126.6 122.1 L1127.6 121.72 L1128.6 122.22 L1129.6 122.63 L1130.6 121.99 L1131.6 122.1 L1132.6 122.92 L1133.6 122.86 L1134.6 123.01 L1135.6 122.92 L1136.6 122.25 L1137.6 122 L1138.6 122.16 L1139.6 122.98 L1140.6 122.47 L1141.6 122.34 L1142.6 122.87 L1143.6 123.21 L1144.6 123.27 L1145.6 122.8 L1146.6 123.69 L1147.6 123.2 L1148.6 123.45 L1149.6 123.41 L1150.6 123.17 L1151.6 123.65 L1152.6 123.84 L1153.6 124.22 L1154.6 124.64 L1155.6 124.72 L1156.6 124.28 L1157.6 124.02 L1158.6 123.52 L1159.6 123.18 L1160.6 123.78 L1161.6 123.61 L1162.6 123.67 L1163.6 123.72 L1164.6 124.03 L1165.6 124.07 L1166.6 125.03 L1167.6 124.66 L1168.6 124.18 L1169.6 124.6 L1170.6 124.98 L1171.6 124.29 L1172.6 124.66 L1173.6 124.63 L1174.6 124.83 L1175.6 124.77 L1176.6 125.04 L1177.6 125.22 L1178.6 125.13 L1179.6 124.51 L1180.6 125.13 L1181.6 124.99 L1182.6 124.73 L1183.6 125.04 L1184.6 125.59 L1185.6 124.98 L1186.6 124.69 L1187.6 125.17 L1188.6 125.02 L1189.6 125.26 L1190.6 125.26 L1191.6 125.48 L1192.6 124.75 L1193.6 124.66 L1194.6 125.09 L1195.6 125.08 L1196.6 124.34 L1197.6 124.21 L1198.6 123.62 L1199.6 122.88 L1200.6 122.14 L1201.6 123.02 L1202.6 122.27 L1203.6 120.63 L1204.6 120.89 L1205.6 120.01 L1206.6 119.16 L1207.6 118.79 L1208.6 118.63 L1209.6 117.78 L1210.6 117 L1211.6 116.3 L1212.6 115.58 L1213.6 114.96 L1214.6 113.33 L1215.6 112.69 L1216.6 112.29 L1217.6 111.26 L1218.6 110.76 L1219.6 109.79 L1220.6 109.02 L1221.6 107.92 L1222.6 107.09 L1223.6 105.94 L1224.6 105.02 L1225.6 103.49 L1226.6 101.89 L1227.6 101.29 L1228.6 100.18 L1229.6 98.88 L1230.6 98.19 L1231.6 97.08 L1232.6 96.23 L1233.6 94.66 L1234.6 93.81 L1235.6 93.6 L1236.6 93.3 L1237.6 92.05 L1238.6 91.64 L1239.6 90.74 L1240.6 89.74 L1241.6 89.06 L1242.6 87.86 L1243.6 86.27 L1244.6 84.28 L1245.6 82.7 L1246.6 80.62 L1247.6 79.35 L1248.6 76.87 L1249.6 74.96 L1250.6 72.91 L1251.6 69.81 L1252.6 66.5 L1253.6 62.4 L1254.6 58.07 L1255.6 54.86 L1256.6 54.82" stroke="#77AC30"/></g>
<path d="M1049.17 48.3v10.6M1049.17 416.2v-10.6M1069.74 48.3v5.1M1069.74 416.2v-5.1M1090.31 48.3v5.1M1090.31 416.2v-5.1M1110.88 48.3v10.6M1110.88 416.2v-10.6M1131.45 48.3v5.1M1131.45 416.2v-5.1M1152.02 48.3v5.1M1152.02 416.2v-5.1M1172.59 48.3v10.6M1172.59 416.2v-10.6M1193.16 48.3v5.1M1193.16 416.2v-5.1M1213.73 48.3v5.1M1213.73 416.2v-5.1M1234.3 48.3v10.6M1234.3 416.2v-10.6M1028.6 55.2h11M1254.7 55.2h-11M1028.6 73.25h5.2M1254.7 73.25h-5.2M1028.6 91.3h5.2M1254.7 91.3h-5.2M1028.6 109.35h5.2M1254.7 109.35h-5.2M1028.6 127.4h11M1254.7 127.4h-11M1028.6 145.45h5.2M1254.7 145.45h-5.2M1028.6 163.5h5.2M1254.7 163.5h-5.2M1028.6 181.55h5.2M1254.7 181.55h-5.2M1028.6 199.6h11M1254.7 199.6h-11M1028.6 217.65h5.2M1254.7 217.65h-5.2M1028.6 235.7h5.2M1254.7 235.7h-5.2M1028.6 253.75h5.2M1254.7 253.75h-5.2M1028.6 271.8h11M1254.7 271.8h-11M1028.6 289.85h5.2M1254.7 289.85h-5.2M1028.6 307.9h5.2M1254.7 307.9h-5.2M1028.6 325.95h5.2M1254.7 325.95h-5.2M1028.6 344h11M1254.7 344h-11M1028.6 362.05h5.2M1254.7 362.05h-5.2M1028.6 380.1h5.2M1254.7 380.1h-5.2M1028.6 398.15h5.2M1254.7 398.15h-5.2" stroke="#222" stroke-width="1.45" fill="none"/>
<rect x="1028.6" y="48.3" width="226.1" height="367.9" fill="none" stroke="#222" stroke-width="1.5" stroke-linejoin="round"/>
<clipPath id="cf"><rect x="1275.8" y="48.3" width="226.1" height="367.9"/></clipPath>
<g stroke="#a3a3a3" stroke-width="1.15" stroke-dasharray="14.1 8.5" fill="none"><line x1="1275.8" y1="55.2" x2="1501.9" y2="55.2"/><line x1="1275.8" y1="127.4" x2="1501.9" y2="127.4"/><line x1="1275.8" y1="199.6" x2="1501.9" y2="199.6"/><line x1="1275.8" y1="271.8" x2="1501.9" y2="271.8"/><line x1="1275.8" y1="344" x2="1501.9" y2="344"/></g>
<g clip-path="url(#cf)" fill="none" stroke-width="3.5" stroke-linejoin="round" stroke-linecap="round"><path d="M1273.8 386.9 L1275.5 385.59 L1277.2 390.63 L1278.9 393.96 L1280.6 391.69 L1282.3 387.43 L1284 389.9 L1285.7 383.68 L1287.4 393.27 L1289.1 385.62 L1290.8 384.2 L1292.5 395.54 L1294.2 397.57 L1295.9 394.97 L1297.6 387.01 L1299.3 383.8 L1301 383.96 L1302.7 391.82 L1304.4 392.85 L1306.1 391.46 L1307.8 387.9 L1309.5 391.87 L1311.2 390.18 L1312.9 394.73 L1314.6 394.14 L1316.3 390.74 L1318 393.15 L1319.7 397.25 L1321.4 388.59 L1323.1 390.62 L1324.8 385.07 L1326.5 397.21 L1328.2 390.19 L1329.9 390.76 L1331.6 390.07 L1333.3 389.7 L1335 397.1 L1336.7 387.14 L1338.4 391.73 L1340.1 386.63 L1341.8 392.24 L1343.5 386.57 L1345.2 389.82 L1346.9 390.71 L1348.6 383.23 L1350.3 387.76 L1352 392.48 L1353.7 383.87 L1355.4 395.31 L1357.1 391.65 L1358.8 394.49 L1360.5 386.11 L1362.2 390.83 L1363.9 394.61 L1365.6 392.89 L1367.3 387.79 L1369 393.65 L1370.7 388.85 L1372.4 386.8 L1374.1 398.54 L1375.8 395 L1377.5 386.22 L1379.2 386.05 L1380.9 390.45 L1382.6 394.7 L1384.3 386.37 L1386 391.65 L1387.7 396.26 L1389.4 391.86 L1391.1 400.61 L1392.8 392.55 L1394.5 397.09 L1396.2 393.56 L1397.9 393.65 L1399.6 403.62 L1401.3 404.85 L1403 401.36 L1404.7 398.52 L1406.4 404.89 L1408.1 406.58 L1409.8 396.55 L1411.5 391.59 L1413.2 390.93 L1414.9 398.53 L1416.6 387.15 L1418.3 401.15 L1420 392.61 L1421.7 398.67 L1423.4 385.62 L1425.1 390.06 L1426.8 387.4 L1428.5 389.96 L1430.2 384.64 L1431.9 376.56 L1433.6 375.71 L1435.3 389.94 L1437 383.27 L1438.7 375.46 L1440.4 386.49 L1442.1 362.88 L1443.8 370.55 L1445.5 359.71 L1447.2 355.23 L1448.9 347.99 L1450.6 343.39 L1452.3 357.51 L1454 354.31 L1455.7 361.47 L1457.4 362.01 L1459.1 367.92 L1460.8 360.75 L1462.5 357.55 L1464.2 369.91 L1465.9 382.48 L1467.6 382.57 L1469.3 370.97 L1471 376.92 L1472.7 386.16 L1474.4 382.07 L1476.1 368.48 L1477.8 387.88 L1479.5 383.85 L1481.2 387.29 L1482.9 373.14 L1484.6 386.2 L1486.3 382.37 L1488 384 L1489.7 377.05 L1491.4 387.04 L1493.1 392.14 L1494.8 392.01 L1496.5 392.11 L1498.2 388.19 L1499.9 395.67 L1501.6 402.99 L1503.3 395.12" stroke="#0072BD"/><path d="M1273.8 326.88 L1275.8 329.72 L1277.8 332.56 L1279.8 329.36 L1281.8 329.44 L1283.8 327.99 L1285.8 327.7 L1287.8 330.33 L1289.8 326.2 L1291.8 326.19 L1293.8 330.08 L1295.8 326.01 L1297.8 325.16 L1299.8 328.28 L1301.8 329.22 L1303.8 330.58 L1305.8 331.41 L1307.8 323.35 L1309.8 327.07 L1311.8 326.85 L1313.8 328.1 L1315.8 325.89 L1317.8 327.5 L1319.8 327.94 L1321.8 327.87 L1323.8 326.13 L1325.8 328.31 L1327.8 326.56 L1329.8 326.89 L1331.8 328.26 L1333.8 330.46 L1335.8 325.66 L1337.8 329.42 L1339.8 332.22 L1341.8 330.12 L1343.8 328.9 L1345.8 330.29 L1347.8 332.58 L1349.8 329.25 L1351.8 328.08 L1353.8 330.5 L1355.8 328.37 L1357.8 327.31 L1359.8 329.8 L1361.8 326.52 L1363.8 327.25 L1365.8 330.01 L1367.8 327.7 L1369.8 329.6 L1371.8 323.95 L1373.8 324.35 L1375.8 325.57 L1377.8 326.67 L1379.8 323.36 L1381.8 327.15 L1383.8 325.68 L1385.8 325.63 L1387.8 326.52 L1389.8 325.88 L1391.8 324.02 L1393.8 325.62 L1395.8 323.65 L1397.8 327.96 L1399.8 324.43 L1401.8 324.44 L1403.8 323.32 L1405.8 324.12 L1407.8 323.98 L1409.8 322.55 L1411.8 319.88 L1413.8 322.67 L1415.8 319.46 L1417.8 315.06 L1419.8 313.49 L1421.8 314.65 L1423.8 313.63 L1425.8 311.62 L1427.8 311.43 L1429.8 311.59 L1431.8 310.67 L1433.8 306.28 L1435.8 304.44 L1437.8 304.15 L1439.8 304.16 L1441.8 299.85 L1443.8 294.79 L1445.8 288.08 L1447.8 281.36 L1449.8 280.34 L1451.8 278.55 L1453.8 274.27 L1455.8 271.26 L1457.8 274.11 L1459.8 276.59 L1461.8 280.49 L1463.8 282.06 L1465.8 289.6 L1467.8 290.14 L1469.8 295.97 L1471.8 295 L1473.8 298.18 L1475.8 298.77 L1477.8 305.1 L1479.8 307.92 L1481.8 310.6 L1483.8 315.22 L1485.8 310.36 L1487.8 313.81 L1489.8 311.62 L1491.8 312.38 L1493.8 311.86 L1495.8 314.93 L1497.8 312.86 L1499.8 318.27 L1501.8 324.93 L1503.8 318.32" stroke="#D95319"/><path d="M1273.8 248.93 L1274.8 252.19 L1275.8 252.39 L1276.8 253.6 L1277.8 250.87 L1278.8 253.3 L1279.8 254.64 L1280.8 251.45 L1281.8 253.81 L1282.8 254.54 L1283.8 254.38 L1284.8 255.67 L1285.8 254.82 L1286.8 252.97 L1287.8 252.79 L1288.8 254.13 L1289.8 256.14 L1290.8 254.72 L1291.8 255.3 L1292.8 254.52 L1293.8 255.21 L1294.8 255.49 L1295.8 256.51 L1296.8 256.83 L1297.8 253.88 L1298.8 252.73 L1299.8 253.92 L1300.8 254.34 L1301.8 254.94 L1302.8 255.57 L1303.8 254.09 L1304.8 254.25 L1305.8 254.68 L1306.8 255.65 L1307.8 254.45 L1308.8 256.29 L1309.8 257.09 L1310.8 255.01 L1311.8 256.27 L1312.8 255.45 L1313.8 255.01 L1314.8 257.27 L1315.8 256.45 L1316.8 254.52 L1317.8 254.87 L1318.8 253.36 L1319.8 252.79 L1320.8 255.42 L1321.8 255.24 L1322.8 256.67 L1323.8 255.32 L1324.8 255.02 L1325.8 254.71 L1326.8 254.78 L1327.8 253.87 L1328.8 253.99 L1329.8 252.3 L1330.8 252 L1331.8 252.84 L1332.8 254.13 L1333.8 255.06 L1334.8 255.54 L1335.8 257.66 L1336.8 258.41 L1337.8 253.69 L1338.8 257.18 L1339.8 257.22 L1340.8 255.4 L1341.8 255.37 L1342.8 253.39 L1343.8 255.49 L1344.8 257.48 L1345.8 254.63 L1346.8 254.81 L1347.8 256.01 L1348.8 256.75 L1349.8 255.95 L1350.8 255.37 L1351.8 256.37 L1352.8 255.94 L1353.8 259.06 L1354.8 258.1 L1355.8 256.1 L1356.8 254.7 L1357.8 254.71 L1358.8 254.67 L1359.8 255.33 L1360.8 255.93 L1361.8 254.36 L1362.8 255.69 L1363.8 255.63 L1364.8 254.97 L1365.8 257.32 L1366.8 256.86 L1367.8 256.2 L1368.8 254.98 L1369.8 254.7 L1370.8 255.17 L1371.8 253.88 L1372.8 255.26 L1373.8 254.04 L1374.8 255.07 L1375.8 255.82 L1376.8 254.54 L1377.8 253.58 L1378.8 253.37 L1379.8 253.91 L1380.8 252.62 L1381.8 253.66 L1382.8 254.22 L1383.8 250.95 L1384.8 251.6 L1385.8 252.62 L1386.8 250.95 L1387.8 250.37 L1388.8 250.49 L1389.8 252.03 L1390.8 249.16 L1391.8 250.66 L1392.8 250.97 L1393.8 250.84 L1394.8 249.95 L1395.8 250.49 L1396.8 249.72 L1397.8 249.9 L1398.8 253.55 L1399.8 251.78 L1400.8 248.67 L1401.8 248.73 L1402.8 250.36 L1403.8 251.32 L1404.8 249.61 L1405.8 249.99 L1406.8 249.66 L1407.8 250.08 L1408.8 247.94 L1409.8 247.27 L1410.8 248.3 L1411.8 248.3 L1412.8 248.1 L1413.8 249.12 L1414.8 248.34 L1415.8 246.83 L1416.8 245.24 L1417.8 246.9 L1418.8 246.8 L1419.8 244.63 L1420.8 244.12 L1421.8 242.73 L1422.8 243.26 L1423.8 242.05 L1424.8 239.75 L1425.8 240.68 L1426.8 239.91 L1427.8 239.17 L1428.8 239.39 L1429.8 237.6 L1430.8 235.97 L1431.8 233.44 L1432.8 233.26 L1433.8 230.42 L1434.8 230.53 L1435.8 228.16 L1436.8 228.99 L1437.8 227.46 L1438.8 226.87 L1439.8 229.01 L1440.8 228.8 L1441.8 228.66 L1442.8 228 L1443.8 227.9 L1444.8 227.36 L1445.8 226.92 L1446.8 227.38 L1447.8 227.51 L1448.8 220.67 L1449.8 215.54 L1450.8 212.53 L1451.8 210.42 L1452.8 209.31 L1453.8 207.5 L1454.8 204.89 L1455.8 201.78 L1456.8 202.3 L1457.8 203.36 L1458.8 202.09 L1459.8 201.79 L1460.8 199.48 L1461.8 201.06 L1462.8 200.84 L1463.8 198.6 L1464.8 199.94 L1465.8 201.01 L1466.8 200.37 L1467.8 203 L1468.8 204.25 L1469.8 204.22 L1470.8 204.4 L1471.8 205.25 L1472.8 207.27 L1473.8 208.98 L1474.8 207.84 L1475.8 210.47 L1476.8 211.89 L1477.8 211.43 L1478.8 211.66 L1479.8 213.11 L1480.8 212.61 L1481.8 214.95 L1482.8 215.05 L1483.8 214.61 L1484.8 215.99 L1485.8 215.72 L1486.8 216.62 L1487.8 218.94 L1488.8 216.95 L1489.8 215.38 L1490.8 218.59 L1491.8 218.25 L1492.8 219.36 L1493.8 222.8 L1494.8 222.67 L1495.8 223.98 L1496.8 222.96 L1497.8 224.45 L1498.8 226.96 L1499.8 230.49 L1500.8 230.82 L1501.8 231.69 L1502.8 234.39 L1503.8 233.67" stroke="#EDB120"/><path d="M1273.8 181.28 L1274.8 179.52 L1275.8 180.27 L1276.8 180.39 L1277.8 178.85 L1278.8 179.6 L1279.8 180.37 L1280.8 181.36 L1281.8 180.97 L1282.8 180.98 L1283.8 181.12 L1284.8 182.01 L1285.8 181.92 L1286.8 181.91 L1287.8 182.04 L1288.8 182.59 L1289.8 181.86 L1290.8 182.23 L1291.8 182.5 L1292.8 182.95 L1293.8 183.44 L1294.8 182.8 L1295.8 181.83 L1296.8 183.43 L1297.8 184.03 L1298.8 184.08 L1299.8 183.42 L1300.8 181.76 L1301.8 182.65 L1302.8 183.64 L1303.8 183.69 L1304.8 183.07 L1305.8 182.93 L1306.8 182.31 L1307.8 182.89 L1308.8 181.59 L1309.8 182.85 L1310.8 183.76 L1311.8 182.77 L1312.8 184.49 L1313.8 185.27 L1314.8 184.19 L1315.8 183.25 L1316.8 183.09 L1317.8 182.95 L1318.8 184.12 L1319.8 183.34 L1320.8 183.92 L1321.8 183.52 L1322.8 184.34 L1323.8 183.43 L1324.8 184.07 L1325.8 184.19 L1326.8 185.26 L1327.8 184.57 L1328.8 184.79 L1329.8 185.5 L1330.8 184.01 L1331.8 183.76 L1332.8 184.51 L1333.8 184.43 L1334.8 186.11 L1335.8 185.41 L1336.8 185.16 L1337.8 184.28 L1338.8 182.77 L1339.8 185.48 L1340.8 184.83 L1341.8 183.31 L1342.8 183.91 L1343.8 185.09 L1344.8 186.1 L1345.8 185.64 L1346.8 185.53 L1347.8 185.32 L1348.8 184.44 L1349.8 184.55 L1350.8 184.92 L1351.8 184.25 L1352.8 185.23 L1353.8 185.5 L1354.8 183.7 L1355.8 184.91 L1356.8 185.37 L1357.8 186 L1358.8 186.91 L1359.8 185.4 L1360.8 187.31 L1361.8 187.27 L1362.8 188.04 L1363.8 186.33 L1364.8 186.39 L1365.8 186.28 L1366.8 186.46 L1367.8 185.51 L1368.8 185.43 L1369.8 186.01 L1370.8 186.34 L1371.8 185.05 L1372.8 185.32 L1373.8 185.29 L1374.8 185.92 L1375.8 185.97 L1376.8 184.22 L1377.8 184.18 L1378.8 184.52 L1379.8 184.39 L1380.8 186.08 L1381.8 186.42 L1382.8 185.6 L1383.8 184.88 L1384.8 183.51 L1385.8 183.47 L1386.8 184.62 L1387.8 185.25 L1388.8 184 L1389.8 184.29 L1390.8 185.31 L1391.8 185.06 L1392.8 183.06 L1393.8 183.55 L1394.8 183.62 L1395.8 181.92 L1396.8 182.41 L1397.8 182.89 L1398.8 182.5 L1399.8 182.92 L1400.8 182.06 L1401.8 180.84 L1402.8 180.71 L1403.8 180.12 L1404.8 180.78 L1405.8 182.21 L1406.8 182.2 L1407.8 182.32 L1408.8 182.42 L1409.8 180.64 L1410.8 180.69 L1411.8 181.38 L1412.8 182.29 L1413.8 181.26 L1414.8 180.63 L1415.8 180.54 L1416.8 179.35 L1417.8 178.56 L1418.8 179.93 L1419.8 179.58 L1420.8 179.61 L1421.8 178.29 L1422.8 178.24 L1423.8 179.17 L1424.8 178.74 L1425.8 178.37 L1426.8 176.64 L1427.8 176.23 L1428.8 175.99 L1429.8 175.21 L1430.8 173.71 L1431.8 172.97 L1432.8 171.95 L1433.8 170.98 L1434.8 170.41 L1435.8 170.26 L1436.8 169.65 L1437.8 171.24 L1438.8 172.17 L1439.8 174 L1440.8 175.07 L1441.8 176.46 L1442.8 177.29 L1443.8 177.74 L1444.8 177.15 L1445.8 177.61 L1446.8 174.23 L1447.8 171.81 L1448.8 171.37 L1449.8 168.77 L1450.8 164.8 L1451.8 161.2 L1452.8 158.72 L1453.8 158.44 L1454.8 155.23 L1455.8 155.59 L1456.8 151.85 L1457.8 150.17 L1458.8 149.04 L1459.8 147.19 L1460.8 145.57 L1461.8 142.66 L1462.8 140.55 L1463.8 138.19 L1464.8 138.1 L1465.8 135.53 L1466.8 133.24 L1467.8 132.19 L1468.8 131.42 L1469.8 129.83 L1470.8 128.37 L1471.8 128.38 L1472.8 128.26 L1473.8 127.97 L1474.8 127.53 L1475.8 128.42 L1476.8 128.44 L1477.8 130.06 L1478.8 130.52 L1479.8 131.59 L1480.8 132.09 L1481.8 133.37 L1482.8 133.51 L1483.8 134.58 L1484.8 133.74 L1485.8 134.69 L1486.8 133.36 L1487.8 132.09 L1488.8 133.32 L1489.8 134.94 L1490.8 134.87 L1491.8 135 L1492.8 134.76 L1493.8 135.3 L1494.8 135.23 L1495.8 137.5 L1496.8 138.07 L1497.8 137.44 L1498.8 136.93 L1499.8 137.44 L1500.8 138.93 L1501.8 139.32 L1502.8 138.68 L1503.8 139.76" stroke="#7E2F8E"/><path d="M1273.8 111.48 L1274.8 110.96 L1275.8 111.01 L1276.8 112.59 L1277.8 110.17 L1278.8 111.81 L1279.8 113.67 L1280.8 115.06 L1281.8 112.72 L1282.8 114.23 L1283.8 114.59 L1284.8 114.5 L1285.8 114.7 L1286.8 111.39 L1287.8 113.56 L1288.8 113.16 L1289.8 113.48 L1290.8 112.81 L1291.8 111.59 L1292.8 110.82 L1293.8 113.3 L1294.8 112.87 L1295.8 111.74 L1296.8 112.76 L1297.8 111.99 L1298.8 112.37 L1299.8 113.97 L1300.8 114.34 L1301.8 111.67 L1302.8 113.5 L1303.8 114.4 L1304.8 112.57 L1305.8 113.49 L1306.8 114.74 L1307.8 115.17 L1308.8 112.66 L1309.8 111.81 L1310.8 113 L1311.8 113.57 L1312.8 114.24 L1313.8 113.96 L1314.8 112.25 L1315.8 114.42 L1316.8 112.72 L1317.8 114.66 L1318.8 115.39 L1319.8 115.33 L1320.8 115.2 L1321.8 114.95 L1322.8 113.55 L1323.8 114 L1324.8 117.56 L1325.8 117.64 L1326.8 117.1 L1327.8 115.77 L1328.8 113.57 L1329.8 116.73 L1330.8 115.13 L1331.8 115.06 L1332.8 115.76 L1333.8 114.75 L1334.8 115.89 L1335.8 112.79 L1336.8 116.21 L1337.8 115.99 L1338.8 114.59 L1339.8 116.5 L1340.8 117.31 L1341.8 117.03 L1342.8 116.85 L1343.8 115.8 L1344.8 117.17 L1345.8 117.63 L1346.8 117.8 L1347.8 116.5 L1348.8 114.03 L1349.8 115.71 L1350.8 114.16 L1351.8 114.53 L1352.8 115.58 L1353.8 116.01 L1354.8 115.7 L1355.8 116.42 L1356.8 116.75 L1357.8 116.37 L1358.8 116.24 L1359.8 116.67 L1360.8 116.75 L1361.8 114.68 L1362.8 114.22 L1363.8 117.03 L1364.8 115.9 L1365.8 113.51 L1366.8 117.18 L1367.8 117.34 L1368.8 113.79 L1369.8 113.98 L1370.8 114.8 L1371.8 114.25 L1372.8 114.94 L1373.8 116.07 L1374.8 116.58 L1375.8 113.15 L1376.8 115.67 L1377.8 116.61 L1378.8 113.12 L1379.8 115.47 L1380.8 115.51 L1381.8 115.06 L1382.8 116.67 L1383.8 117.6 L1384.8 117.64 L1385.8 117.94 L1386.8 114.25 L1387.8 112.13 L1388.8 113.8 L1389.8 115.28 L1390.8 116.48 L1391.8 115.57 L1392.8 114.41 L1393.8 116.25 L1394.8 115.48 L1395.8 114.75 L1396.8 114.21 L1397.8 114.81 L1398.8 114.94 L1399.8 113.54 L1400.8 110.64 L1401.8 112.15 L1402.8 114.42 L1403.8 116 L1404.8 115.69 L1405.8 115.57 L1406.8 115.96 L1407.8 114.88 L1408.8 115.23 L1409.8 114.72 L1410.8 113.26 L1411.8 111.33 L1412.8 110.55 L1413.8 112.44 L1414.8 111.11 L1415.8 112.22 L1416.8 113.12 L1417.8 111.88 L1418.8 113.24 L1419.8 112.27 L1420.8 111.15 L1421.8 112.72 L1422.8 112.88 L1423.8 111.58 L1424.8 111.97 L1425.8 110.42 L1426.8 111.52 L1427.8 111.63 L1428.8 110.2 L1429.8 111.5 L1430.8 112.81 L1431.8 110.23 L1432.8 108.79 L1433.8 108.31 L1434.8 108.84 L1435.8 108.34 L1436.8 107.95 L1437.8 110.06 L1438.8 110.74 L1439.8 110.58 L1440.8 113.33 L1441.8 115.92 L1442.8 116.16 L1443.8 116.61 L1444.8 117.39 L1445.8 116.57 L1446.8 118.32 L1447.8 118.33 L1448.8 113.56 L1449.8 109.97 L1450.8 109.51 L1451.8 108.21 L1452.8 108.23 L1453.8 107.75 L1454.8 105.47 L1455.8 104.18 L1456.8 100.34 L1457.8 96.34 L1458.8 91.46 L1459.8 90.44 L1460.8 86.01 L1461.8 81.77 L1462.8 78.4 L1463.8 76.64 L1464.8 72.49 L1465.8 67.88 L1466.8 63.19 L1467.8 61.57 L1468.8 60.52 L1469.8 61.02 L1470.8 60.37 L1471.8 59.46 L1472.8 57.78 L1473.8 59.92 L1474.8 61.12 L1475.8 55.87 L1476.8 54.67 L1477.8 55.53 L1478.8 56.09 L1479.8 55.07 L1480.8 55.25 L1481.8 56.82 L1482.8 54.44 L1483.8 53.43 L1484.8 55.08 L1485.8 58.51 L1486.8 58.51 L1487.8 55.26 L1488.8 52.27 L1489.8 52.2 L1490.8 54.21 L1491.8 55.41 L1492.8 54.37 L1493.8 54.76 L1494.8 55.91 L1495.8 58.91 L1496.8 63.69 L1497.8 65.32 L1498.8 62.25 L1499.8 57.37 L1500.8 56.35 L1501.8 54.16 L1502.8 54.29 L1503.8 56.16" stroke="#77AC30"/></g>
<path d="M1296.37 48.3v10.6M1296.37 416.2v-10.6M1316.94 48.3v5.1M1316.94 416.2v-5.1M1337.51 48.3v5.1M1337.51 416.2v-5.1M1358.08 48.3v10.6M1358.08 416.2v-10.6M1378.65 48.3v5.1M1378.65 416.2v-5.1M1399.22 48.3v5.1M1399.22 416.2v-5.1M1419.79 48.3v10.6M1419.79 416.2v-10.6M1440.36 48.3v5.1M1440.36 416.2v-5.1M1460.93 48.3v5.1M1460.93 416.2v-5.1M1481.5 48.3v10.6M1481.5 416.2v-10.6M1275.8 55.2h11M1501.9 55.2h-11M1275.8 73.25h5.2M1501.9 73.25h-5.2M1275.8 91.3h5.2M1501.9 91.3h-5.2M1275.8 109.35h5.2M1501.9 109.35h-5.2M1275.8 127.4h11M1501.9 127.4h-11M1275.8 145.45h5.2M1501.9 145.45h-5.2M1275.8 163.5h5.2M1501.9 163.5h-5.2M1275.8 181.55h5.2M1501.9 181.55h-5.2M1275.8 199.6h11M1501.9 199.6h-11M1275.8 217.65h5.2M1501.9 217.65h-5.2M1275.8 235.7h5.2M1501.9 235.7h-5.2M1275.8 253.75h5.2M1501.9 253.75h-5.2M1275.8 271.8h11M1501.9 271.8h-11M1275.8 289.85h5.2M1501.9 289.85h-5.2M1275.8 307.9h5.2M1501.9 307.9h-5.2M1275.8 325.95h5.2M1501.9 325.95h-5.2M1275.8 344h11M1501.9 344h-11M1275.8 362.05h5.2M1501.9 362.05h-5.2M1275.8 380.1h5.2M1501.9 380.1h-5.2M1275.8 398.15h5.2M1501.9 398.15h-5.2" stroke="#222" stroke-width="1.45" fill="none"/>
<rect x="1275.8" y="48.3" width="226.1" height="367.9" fill="none" stroke="#222" stroke-width="1.5" stroke-linejoin="round"/>
<clipPath id="cg"><rect x="1523" y="48.3" width="226.1" height="367.9"/></clipPath>
<g stroke="#a3a3a3" stroke-width="1.15" stroke-dasharray="14.1 8.5" fill="none"><line x1="1523" y1="55.2" x2="1749.1" y2="55.2"/><line x1="1523" y1="127.4" x2="1749.1" y2="127.4"/><line x1="1523" y1="199.6" x2="1749.1" y2="199.6"/><line x1="1523" y1="271.8" x2="1749.1" y2="271.8"/><line x1="1523" y1="344" x2="1749.1" y2="344"/></g>
<g clip-path="url(#cg)" fill="none" stroke-width="3.5" stroke-linejoin="round" stroke-linecap="round"><path d="M1521 347.33 L1522.7 344.88 L1524.4 349.38 L1526.1 339.76 L1527.8 353.57 L1529.5 351.47 L1531.2 353.39 L1532.9 352.24 L1534.6 347.73 L1536.3 365.58 L1538 370.65 L1539.7 357.86 L1541.4 369.28 L1543.1 358.19 L1544.8 379.53 L1546.5 361.28 L1548.2 375.39 L1549.9 377.01 L1551.6 376.7 L1553.3 358.27 L1555 379.52 L1556.7 357.87 L1558.4 361 L1560.1 378.03 L1561.8 362.65 L1563.5 357.9 L1565.2 376.63 L1566.9 375.69 L1568.6 372.78 L1570.3 361.88 L1572 377.19 L1573.7 372.92 L1575.4 369.02 L1577.1 374.83 L1578.8 382.05 L1580.5 382.33 L1582.2 367.27 L1583.9 373.92 L1585.6 380.63 L1587.3 369.2 L1589 374.79 L1590.7 378.47 L1592.4 389.04 L1594.1 377.73 L1595.8 383.81 L1597.5 368.39 L1599.2 381.65 L1600.9 383.24 L1602.6 375.55 L1604.3 382.91 L1606 374.23 L1607.7 365.61 L1609.4 366.34 L1611.1 383.64 L1612.8 373.82 L1614.5 375 L1616.2 390.18 L1617.9 371.66 L1619.6 372.54 L1621.3 387.63 L1623 384.75 L1624.7 370.52 L1626.4 388.49 L1628.1 372.39 L1629.8 372.78 L1631.5 384.53 L1633.2 400.75 L1634.9 388.21 L1636.6 405.24 L1638.3 391.07 L1640 395.65 L1641.7 377.84 L1643.4 389.57 L1645.1 378.05 L1646.8 398.46 L1648.5 404.02 L1650.2 397.93 L1651.9 387.74 L1653.6 381.47 L1655.3 398.63 L1657 387.62 L1658.7 392.3 L1660.4 393.99 L1662.1 393.14 L1663.8 391.9 L1665.5 393.51 L1667.2 383.99 L1668.9 398.77 L1670.6 388.41 L1672.3 382.13 L1674 382.2 L1675.7 390.2 L1677.4 395.71 L1679.1 389.05 L1680.8 389.96 L1682.5 397.58 L1684.2 381.72 L1685.9 396.57 L1687.6 398.88 L1689.3 382.45 L1691 398.23 L1692.7 394.85 L1694.4 391 L1696.1 401.13 L1697.8 381.96 L1699.5 402.93 L1701.2 403.04 L1702.9 389.2 L1704.6 398.15 L1706.3 380.56 L1708 384.12 L1709.7 399.7 L1711.4 380.48 L1713.1 380.82 L1714.8 395.52 L1716.5 392.92 L1718.2 385.89 L1719.9 377.86 L1721.6 383.85 L1723.3 411.67 L1725 407.44 L1726.7 410.15 L1728.4 399.4 L1730.1 384.21 L1731.8 417.74 L1733.5 399.03 L1735.2 398.52 L1736.9 402.88 L1738.6 417 L1740.3 392.34 L1742 410.3 L1743.7 397.5 L1745.4 406.17 L1747.1 396.29 L1748.8 402.43 L1750.5 416.42" stroke="#0072BD"/><path d="M1521 269.93 L1522 270 L1523 271.38 L1524 270.39 L1525 272.32 L1526 273.72 L1527 276.98 L1528 276.05 L1529 273.97 L1530 275.93 L1531 275.35 L1532 278.17 L1533 277.5 L1534 276.23 L1535 277.48 L1536 279.06 L1537 280.93 L1538 280.48 L1539 280.65 L1540 279.97 L1541 279.92 L1542 279.42 L1543 280.38 L1544 280.87 L1545 281.04 L1546 280.61 L1547 281.06 L1548 281.19 L1549 281.68 L1550 281.09 L1551 280.96 L1552 280.81 L1553 281.08 L1554 281.41 L1555 281.33 L1556 283.29 L1557 283.49 L1558 283.01 L1559 282.95 L1560 281.43 L1561 281.73 L1562 282.27 L1563 283.21 L1564 284.04 L1565 283.91 L1566 282.26 L1567 283.5 L1568 284.78 L1569 284.08 L1570 284.25 L1571 282.95 L1572 284.24 L1573 284.15 L1574 283.22 L1575 285.73 L1576 286.87 L1577 286.4 L1578 285.4 L1579 285.38 L1580 285.31 L1581 286.45 L1582 286.86 L1583 287.53 L1584 286.68 L1585 287.12 L1586 286.24 L1587 285.79 L1588 286.27 L1589 285.73 L1590 285.98 L1591 287.56 L1592 287.66 L1593 286.39 L1594 286.26 L1595 286.9 L1596 286.96 L1597 288.13 L1598 287.41 L1599 286.53 L1600 287.16 L1601 288.89 L1602 290.48 L1603 289.17 L1604 287.37 L1605 287.78 L1606 288.94 L1607 289.06 L1608 289.81 L1609 291.14 L1610 288.87 L1611 288.67 L1612 289.72 L1613 290.19 L1614 290.66 L1615 291.27 L1616 291.01 L1617 291.85 L1618 291.49 L1619 291.29 L1620 289.77 L1621 290.43 L1622 291.45 L1623 292.45 L1624 291.61 L1625 291.31 L1626 292.14 L1627 294.02 L1628 292.1 L1629 293.22 L1630 293.87 L1631 295.17 L1632 294.77 L1633 294.13 L1634 295.3 L1635 295.83 L1636 294.35 L1637 293.11 L1638 293.72 L1639 294.94 L1640 294.61 L1641 295.83 L1642 296.96 L1643 296.86 L1644 298.2 L1645 296.41 L1646 295.39 L1647 296.78 L1648 297.48 L1649 295.98 L1650 297.6 L1651 298.95 L1652 298.36 L1653 299.08 L1654 296.94 L1655 297.94 L1656 296.5 L1657 296.27 L1658 297.25 L1659 299.72 L1660 300 L1661 300.67 L1662 298.92 L1663 298.47 L1664 300.62 L1665 299.79 L1666 299.43 L1667 301.69 L1668 302.28 L1669 301.08 L1670 301.89 L1671 302.38 L1672 301.33 L1673 301.6 L1674 303.13 L1675 304.32 L1676 302.75 L1677 304.06 L1678 304.35 L1679 304.09 L1680 303.74 L1681 303.57 L1682 304.89 L1683 304.18 L1684 302.57 L1685 304.68 L1686 304.52 L1687 305.52 L1688 307.52 L1689 306.07 L1690 303.97 L1691 305.05 L1692 305.31 L1693 306.48 L1694 303.8 L1695 306.63 L1696 306.99 L1697 306.81 L1698 307.88 L1699 308.73 L1700 305.97 L1701 306.72 L1702 307.59 L1703 307.79 L1704 307.8 L1705 308.48 L1706 308.3 L1707 307.52 L1708 306.68 L1709 309.07 L1710 310.39 L1711 310.25 L1712 309.77 L1713 309.94 L1714 308.18 L1715 309.86 L1716 309.98 L1717 309.91 L1718 310.89 L1719 310.02 L1720 309.61 L1721 308.98 L1722 308.54 L1723 310.3 L1724 312.86 L1725 313.09 L1726 311.09 L1727 311.76 L1728 312.84 L1729 310.94 L1730 310.88 L1731 310.81 L1732 313.12 L1733 311.75 L1734 311.73 L1735 312.05 L1736 312.16 L1737 315.13 L1738 314.89 L1739 314.92 L1740 312.06 L1741 314.12 L1742 314.08 L1743 313.75 L1744 315.59 L1745 317.82 L1746 318.01 L1747 317.79 L1748 321.19 L1749 319.39 L1750 317.04 L1751 316.66" stroke="#D95319"/><path d="M1521 199.65 L1522 198.4 L1523 198.73 L1524 198.43 L1525 201.08 L1526 204.41 L1527 205.24 L1528 206.92 L1529 207.35 L1530 208.73 L1531 208.01 L1532 208.22 L1533 205.88 L1534 207.42 L1535 206.48 L1536 204.49 L1537 204.06 L1538 203.15 L1539 205.17 L1540 206.27 L1541 206.35 L1542 207.63 L1543 205.23 L1544 206.83 L1545 206.66 L1546 207.86 L1547 209.59 L1548 209.44 L1549 210.63 L1550 208.91 L1551 208.3 L1552 208.45 L1553 207.39 L1554 208.08 L1555 209.48 L1556 210.43 L1557 208.55 L1558 208.11 L1559 207.5 L1560 208 L1561 209.76 L1562 210.47 L1563 210.93 L1564 210.95 L1565 211.99 L1566 209.89 L1567 211.75 L1568 213.14 L1569 212.8 L1570 213.7 L1571 213.49 L1572 213.65 L1573 214.37 L1574 214.01 L1575 214.94 L1576 215.64 L1577 214.49 L1578 216.46 L1579 217.79 L1580 218.18 L1581 216.6 L1582 217.29 L1583 214.57 L1584 215 L1585 216.78 L1586 216.15 L1587 216.45 L1588 217.07 L1589 218.33 L1590 218.65 L1591 219.08 L1592 220.59 L1593 221.03 L1594 222.21 L1595 223.35 L1596 224.06 L1597 223.73 L1598 223.86 L1599 224.2 L1600 224.37 L1601 226.37 L1602 226.94 L1603 228.35 L1604 228.01 L1605 227.63 L1606 229.03 L1607 228.42 L1608 228.81 L1609 229.68 L1610 229.56 L1611 228.96 L1612 230.53 L1613 230.66 L1614 230.3 L1615 230.32 L1616 230.57 L1617 229.61 L1618 231.68 L1619 228.68 L1620 229.7 L1621 230.69 L1622 232.43 L1623 232.72 L1624 232.89 L1625 232.05 L1626 234.62 L1627 234.44 L1628 231.85 L1629 233.49 L1630 232.29 L1631 233.92 L1632 235.7 L1633 235.4 L1634 234.32 L1635 235.6 L1636 237.91 L1637 237.88 L1638 238.16 L1639 236.56 L1640 238.83 L1641 239.14 L1642 238.73 L1643 241.11 L1644 240.57 L1645 241.17 L1646 240.28 L1647 241.2 L1648 241.61 L1649 241.15 L1650 241.46 L1651 241.8 L1652 241.27 L1653 240.41 L1654 241.95 L1655 242.05 L1656 242.25 L1657 241.85 L1658 244.21 L1659 244.36 L1660 245.04 L1661 245.67 L1662 244.68 L1663 242.98 L1664 242.35 L1665 244.79 L1666 244.72 L1667 245.44 L1668 245.94 L1669 244.39 L1670 243.67 L1671 244.92 L1672 244.35 L1673 244.12 L1674 245.35 L1675 245.23 L1676 245.63 L1677 244.36 L1678 245.11 L1679 245.32 L1680 245.47 L1681 245.25 L1682 246.09 L1683 244.57 L1684 246.39 L1685 247.38 L1686 246.41 L1687 246.14 L1688 245.56 L1689 246.65 L1690 247.16 L1691 247.12 L1692 247.49 L1693 247.85 L1694 247.25 L1695 245.28 L1696 246.02 L1697 248.05 L1698 250.73 L1699 250 L1700 248.67 L1701 248.3 L1702 248.36 L1703 249.31 L1704 248.71 L1705 248.72 L1706 247.92 L1707 248.1 L1708 247.67 L1709 247.88 L1710 248.79 L1711 250.4 L1712 250.04 L1713 250.28 L1714 248.98 L1715 249.26 L1716 248.61 L1717 248.91 L1718 248.74 L1719 247.61 L1720 248.92 L1721 248.5 L1722 249.97 L1723 249.13 L1724 248.17 L1725 248.68 L1726 249.9 L1727 252.15 L1728 250.22 L1729 250.94 L1730 251.92 L1731 251.94 L1732 252.39 L1733 253.11 L1734 252.51 L1735 254.9 L1736 254.93 L1737 253.98 L1738 254.81 L1739 253.75 L1740 252.86 L1741 252.22 L1742 253.16 L1743 254.9 L1744 255.81 L1745 257.99 L1746 259.13 L1747 259.34 L1748 259.41 L1749 260.61 L1750 258.46 L1751 255.97" stroke="#EDB120"/><path d="M1521 126.38 L1522 123.9 L1523 128.02 L1524 129.34 L1525 130.1 L1526 130.34 L1527 134.07 L1528 133.8 L1529 133.92 L1530 137.15 L1531 137.81 L1532 136.78 L1533 135.76 L1534 136.59 L1535 136.35 L1536 136.68 L1537 136.78 L1538 135.82 L1539 137.95 L1540 137.94 L1541 140.3 L1542 140.82 L1543 142.02 L1544 144.91 L1545 144.6 L1546 144.94 L1547 146.41 L1548 147.35 L1549 143.36 L1550 146.17 L1551 147.09 L1552 148.28 L1553 147.67 L1554 147.85 L1555 148.79 L1556 148.47 L1557 148.06 L1558 149.79 L1559 152.28 L1560 151.21 L1561 148.83 L1562 150.97 L1563 151.65 L1564 153.71 L1565 152.75 L1566 154.17 L1567 155.74 L1568 156.46 L1569 155.7 L1570 157.37 L1571 159.66 L1572 157.6 L1573 158.01 L1574 157.85 L1575 159.04 L1576 160.3 L1577 160.52 L1578 160.97 L1579 159.58 L1580 160.84 L1581 160.27 L1582 158.47 L1583 162.27 L1584 162.18 L1585 161.83 L1586 163.72 L1587 163.28 L1588 161.17 L1589 164.77 L1590 167.84 L1591 166.81 L1592 167 L1593 164.98 L1594 165.09 L1595 166.34 L1596 169.61 L1597 169.66 L1598 166.99 L1599 169.67 L1600 167.67 L1601 168.4 L1602 170.26 L1603 170.41 L1604 171.39 L1605 172.41 L1606 173.49 L1607 172.12 L1608 171.81 L1609 172.78 L1610 176.33 L1611 175.99 L1612 175.87 L1613 175.36 L1614 175.41 L1615 176.58 L1616 175.06 L1617 173.26 L1618 174.05 L1619 178.08 L1620 175.33 L1621 175.2 L1622 176.38 L1623 177.55 L1624 175.77 L1625 176.58 L1626 177.26 L1627 176 L1628 177.57 L1629 179.04 L1630 178.45 L1631 178.34 L1632 178.81 L1633 178.35 L1634 177.95 L1635 178.29 L1636 179.44 L1637 177.27 L1638 177.89 L1639 180.64 L1640 181.56 L1641 180.42 L1642 179.11 L1643 178.78 L1644 181.24 L1645 181.55 L1646 181.83 L1647 181.76 L1648 180.31 L1649 180.53 L1650 181.43 L1651 181.23 L1652 179.73 L1653 180.14 L1654 181.89 L1655 184.29 L1656 185.37 L1657 183.07 L1658 182.1 L1659 182.67 L1660 182.39 L1661 180.73 L1662 178.66 L1663 181.87 L1664 182 L1665 182.28 L1666 181.59 L1667 182.29 L1668 182.72 L1669 181.34 L1670 182.08 L1671 183.87 L1672 183.8 L1673 181.57 L1674 184.07 L1675 185.08 L1676 184.21 L1677 183.94 L1678 183.61 L1679 183.57 L1680 183.01 L1681 184.45 L1682 182.96 L1683 181.42 L1684 183.37 L1685 184.1 L1686 183.23 L1687 181.86 L1688 182.48 L1689 179.95 L1690 184.1 L1691 183.43 L1692 180.53 L1693 180.93 L1694 185.69 L1695 184.34 L1696 183.23 L1697 184.34 L1698 184.21 L1699 184.44 L1700 185.21 L1701 185.19 L1702 184.18 L1703 185.61 L1704 185.78 L1705 185.07 L1706 187.11 L1707 186.91 L1708 185.87 L1709 188.55 L1710 188.12 L1711 188.29 L1712 186.12 L1713 185.97 L1714 186.43 L1715 185.7 L1716 185.45 L1717 184.81 L1718 187.99 L1719 187.2 L1720 187.83 L1721 188.11 L1722 186.73 L1723 187.66 L1724 183.77 L1725 185.03 L1726 185.56 L1727 185.94 L1728 185.4 L1729 187.82 L1730 189.23 L1731 187.63 L1732 186.95 L1733 184.14 L1734 185.25 L1735 186.49 L1736 185.59 L1737 186.1 L1738 185.57 L1739 185.73 L1740 184.35 L1741 186.57 L1742 188.45 L1743 188.99 L1744 190.93 L1745 190.2 L1746 191.6 L1747 191.36 L1748 194.78 L1749 194.64 L1750 194 L1751 194.85" stroke="#7E2F8E"/><path d="M1521 53.99 L1522 55.94 L1523 54.71 L1524 55.96 L1525 58.5 L1526 60.23 L1527 61.7 L1528 63.69 L1529 63.05 L1530 63.09 L1531 64.9 L1532 65.13 L1533 64.99 L1534 61.51 L1535 61.48 L1536 63.39 L1537 63.18 L1538 62.51 L1539 63.15 L1540 65.5 L1541 65.74 L1542 65.59 L1543 66.57 L1544 67.58 L1545 68.54 L1546 65.39 L1547 67.22 L1548 69.03 L1549 66.5 L1550 67.66 L1551 68.75 L1552 66.75 L1553 67.01 L1554 67.09 L1555 67.98 L1556 67.19 L1557 66.81 L1558 68.06 L1559 68.8 L1560 69.68 L1561 68.46 L1562 68.55 L1563 68.91 L1564 71.19 L1565 71.57 L1566 69.38 L1567 68.78 L1568 72.58 L1569 69.79 L1570 69.92 L1571 72.61 L1572 76.25 L1573 76.37 L1574 75.57 L1575 76.77 L1576 76.88 L1577 78.17 L1578 77.47 L1579 79.33 L1580 78.51 L1581 76.76 L1582 75.95 L1583 78.88 L1584 78.61 L1585 76.9 L1586 76.9 L1587 77.85 L1588 78.84 L1589 79.99 L1590 81.18 L1591 82.08 L1592 82.98 L1593 85.99 L1594 84.35 L1595 83.96 L1596 85.15 L1597 84.39 L1598 85.69 L1599 86.09 L1600 86.72 L1601 84.6 L1602 83.96 L1603 87.04 L1604 86.85 L1605 88.59 L1606 87.76 L1607 86.49 L1608 86.86 L1609 85.5 L1610 85.7 L1611 87.02 L1612 87.05 L1613 85.72 L1614 88.1 L1615 88.62 L1616 88.63 L1617 86.49 L1618 87.96 L1619 87.19 L1620 87.48 L1621 89.04 L1622 88.46 L1623 88.92 L1624 89.49 L1625 89.37 L1626 87.14 L1627 86.96 L1628 88.51 L1629 88.77 L1630 87.7 L1631 88.4 L1632 87.44 L1633 87.89 L1634 88.37 L1635 88.97 L1636 89.44 L1637 88.7 L1638 88.97 L1639 88.58 L1640 90.31 L1641 90.48 L1642 90.05 L1643 92.32 L1644 90.89 L1645 90.4 L1646 90.59 L1647 91.58 L1648 91.48 L1649 90.92 L1650 92.19 L1651 93.27 L1652 93.73 L1653 92.68 L1654 91.47 L1655 91.14 L1656 92.71 L1657 94.1 L1658 94.8 L1659 92.08 L1660 90.69 L1661 91.01 L1662 92.66 L1663 93.07 L1664 91.61 L1665 90.76 L1666 90.65 L1667 93.1 L1668 91.95 L1669 93.82 L1670 93.31 L1671 91.57 L1672 92.79 L1673 95.34 L1674 94.87 L1675 94.84 L1676 96.21 L1677 95.26 L1678 95.18 L1679 95.29 L1680 95.56 L1681 96.34 L1682 95.21 L1683 96.8 L1684 97.23 L1685 95.35 L1686 95.64 L1687 94.42 L1688 95.78 L1689 97.39 L1690 97.15 L1691 95.99 L1692 96.96 L1693 97.27 L1694 97.1 L1695 97.76 L1696 98.97 L1697 95.05 L1698 96.83 L1699 98.97 L1700 98.54 L1701 99.05 L1702 99.25 L1703 98.97 L1704 99.18 L1705 98.76 L1706 99.73 L1707 100.91 L1708 101.25 L1709 100.5 L1710 99.34 L1711 98.51 L1712 97.19 L1713 98.2 L1714 97.62 L1715 97.73 L1716 98.27 L1717 98.9 L1718 99.19 L1719 99 L1720 98.12 L1721 99.16 L1722 100.72 L1723 100.6 L1724 101.27 L1725 101.73 L1726 103.68 L1727 104.8 L1728 105.52 L1729 103.2 L1730 103.81 L1731 102.78 L1732 105 L1733 105.51 L1734 105.4 L1735 107.3 L1736 106.14 L1737 104.82 L1738 107.55 L1739 106.99 L1740 107.17 L1741 105.79 L1742 105.33 L1743 104.99 L1744 105.7 L1745 108.59 L1746 110.03 L1747 110.15 L1748 113.66 L1749 113.89 L1750 113.26 L1751 113.97" stroke="#77AC30"/></g>
<path d="M1543.57 48.3v10.6M1543.57 416.2v-10.6M1564.14 48.3v5.1M1564.14 416.2v-5.1M1584.71 48.3v5.1M1584.71 416.2v-5.1M1605.28 48.3v10.6M1605.28 416.2v-10.6M1625.85 48.3v5.1M1625.85 416.2v-5.1M1646.42 48.3v5.1M1646.42 416.2v-5.1M1666.99 48.3v10.6M1666.99 416.2v-10.6M1687.56 48.3v5.1M1687.56 416.2v-5.1M1708.13 48.3v5.1M1708.13 416.2v-5.1M1728.7 48.3v10.6M1728.7 416.2v-10.6M1523 55.2h11M1749.1 55.2h-11M1523 73.25h5.2M1749.1 73.25h-5.2M1523 91.3h5.2M1749.1 91.3h-5.2M1523 109.35h5.2M1749.1 109.35h-5.2M1523 127.4h11M1749.1 127.4h-11M1523 145.45h5.2M1749.1 145.45h-5.2M1523 163.5h5.2M1749.1 163.5h-5.2M1523 181.55h5.2M1749.1 181.55h-5.2M1523 199.6h11M1749.1 199.6h-11M1523 217.65h5.2M1749.1 217.65h-5.2M1523 235.7h5.2M1749.1 235.7h-5.2M1523 253.75h5.2M1749.1 253.75h-5.2M1523 271.8h11M1749.1 271.8h-11M1523 289.85h5.2M1749.1 289.85h-5.2M1523 307.9h5.2M1749.1 307.9h-5.2M1523 325.95h5.2M1749.1 325.95h-5.2M1523 344h11M1749.1 344h-11M1523 362.05h5.2M1749.1 362.05h-5.2M1523 380.1h5.2M1749.1 380.1h-5.2M1523 398.15h5.2M1749.1 398.15h-5.2" stroke="#222" stroke-width="1.45" fill="none"/>
<rect x="1523" y="48.3" width="226.1" height="367.9" fill="none" stroke="#222" stroke-width="1.5" stroke-linejoin="round"/>
<clipPath id="ch"><rect x="1770.2" y="48.3" width="226.1" height="367.9"/></clipPath>
<g stroke="#a3a3a3" stroke-width="1.15" stroke-dasharray="14.1 8.5" fill="none"><line x1="1770.2" y1="55.2" x2="1996.3" y2="55.2"/><line x1="1770.2" y1="127.4" x2="1996.3" y2="127.4"/><line x1="1770.2" y1="199.6" x2="1996.3" y2="199.6"/><line x1="1770.2" y1="271.8" x2="1996.3" y2="271.8"/><line x1="1770.2" y1="344" x2="1996.3" y2="344"/></g>
<g clip-path="url(#ch)" fill="none" stroke-width="3.5" stroke-linejoin="round" stroke-linecap="round"><path d="M1768.2 363.97 L1769.9 352.28 L1771.6 361.84 L1773.3 343.47 L1775 345.71 L1776.7 355.76 L1778.4 350.48 L1780.1 336.74 L1781.8 335.54 L1783.5 336.85 L1785.2 337.48 L1786.9 349.01 L1788.6 344.49 L1790.3 347.88 L1792 345.89 L1793.7 343.14 L1795.4 351.64 L1797.1 345.32 L1798.8 344.17 L1800.5 352.16 L1802.2 359.7 L1803.9 364.05 L1805.6 350.67 L1807.3 366.72 L1809 346.88 L1810.7 362.99 L1812.4 369.83 L1814.1 359.43 L1815.8 363.12 L1817.5 364.3 L1819.2 358.53 L1820.9 345.34 L1822.6 361.59 L1824.3 347.96 L1826 351.37 L1827.7 347.59 L1829.4 359.77 L1831.1 346.54 L1832.8 365.51 L1834.5 352.41 L1836.2 352.56 L1837.9 373 L1839.6 368.21 L1841.3 353.14 L1843 360.67 L1844.7 369.57 L1846.4 366.53 L1848.1 356.53 L1849.8 378.83 L1851.5 362.9 L1853.2 362.11 L1854.9 377.54 L1856.6 358.85 L1858.3 366.84 L1860 365.38 L1861.7 364.31 L1863.4 367.41 L1865.1 366.23 L1866.8 368.43 L1868.5 371.02 L1870.2 369.27 L1871.9 375.44 L1873.6 369 L1875.3 372.15 L1877 370.48 L1878.7 375.53 L1880.4 376.37 L1882.1 369.98 L1883.8 386.77 L1885.5 390.33 L1887.2 375.94 L1888.9 377.32 L1890.6 390.71 L1892.3 373.38 L1894 388.35 L1895.7 373.71 L1897.4 390.37 L1899.1 381.7 L1900.8 398.05 L1902.5 396.66 L1904.2 378.07 L1905.9 382.64 L1907.6 387.31 L1909.3 392.57 L1911 383.79 L1912.7 393.97 L1914.4 387.06 L1916.1 382.6 L1917.8 385.4 L1919.5 399.42 L1921.2 395.19 L1922.9 397.31 L1924.6 389.11 L1926.3 394.01 L1928 387.78 L1929.7 388.23 L1931.4 394.79 L1933.1 397.43 L1934.8 391.98 L1936.5 388.23 L1938.2 400.36 L1939.9 402.87 L1941.6 387.75 L1943.3 393.53 L1945 397.81 L1946.7 403.23 L1948.4 396.47 L1950.1 397.51 L1951.8 387.12 L1953.5 407.66 L1955.2 391.17 L1956.9 406.67 L1958.6 406.62 L1960.3 391.7 L1962 390.65 L1963.7 407.66 L1965.4 392.82 L1967.1 384.18 L1968.8 411.03 L1970.5 410.8 L1972.2 411.96 L1973.9 404.78 L1975.6 408.45 L1977.3 392.92 L1979 414.07 L1980.7 415.71 L1982.4 411.29 L1984.1 410.27 L1985.8 395.12 L1987.5 411.91 L1989.2 393.38 L1990.9 398.23 L1992.6 401.15 L1994.3 406.87 L1996 405.01 L1997.7 405.62" stroke="#0072BD"/><path d="M1768.2 275.74 L1770.2 275.15 L1772.2 274.7 L1774.2 270.06 L1776.2 275.89 L1778.2 278.11 L1780.2 275.7 L1782.2 276.98 L1784.2 274.28 L1786.2 277.3 L1788.2 266.15 L1790.2 274.93 L1792.2 271.74 L1794.2 275.49 L1796.2 277.57 L1798.2 279.77 L1800.2 279.41 L1802.2 280.91 L1804.2 274.72 L1806.2 278.38 L1808.2 271.48 L1810.2 279.37 L1812.2 273.16 L1814.2 281.82 L1816.2 278.85 L1818.2 276.99 L1820.2 275.43 L1822.2 277.98 L1824.2 275.08 L1826.2 272.14 L1828.2 278.94 L1830.2 274.99 L1832.2 280.64 L1834.2 276.1 L1836.2 275.78 L1838.2 289.53 L1840.2 283.69 L1842.2 286.5 L1844.2 281 L1846.2 282.25 L1848.2 282.78 L1850.2 291.51 L1852.2 286.83 L1854.2 285.24 L1856.2 285.54 L1858.2 286.9 L1860.2 292.15 L1862.2 288.37 L1864.2 289.02 L1866.2 295.41 L1868.2 294.15 L1870.2 293.89 L1872.2 300.14 L1874.2 291.61 L1876.2 288.34 L1878.2 287.73 L1880.2 296.93 L1882.2 299.45 L1884.2 303.81 L1886.2 292.08 L1888.2 292.9 L1890.2 299.07 L1892.2 299.12 L1894.2 293.52 L1896.2 300.38 L1898.2 305.47 L1900.2 300.69 L1902.2 315.36 L1904.2 306.99 L1906.2 299.11 L1908.2 303.45 L1910.2 297.53 L1912.2 319.22 L1914.2 305.76 L1916.2 305.78 L1918.2 311.94 L1920.2 305.59 L1922.2 303.49 L1924.2 307.11 L1926.2 313.82 L1928.2 315.42 L1930.2 303.42 L1932.2 305.18 L1934.2 321.35 L1936.2 317.87 L1938.2 317.54 L1940.2 327.96 L1942.2 324.4 L1944.2 318.46 L1946.2 326.48 L1948.2 317.8 L1950.2 319.82 L1952.2 336.71 L1954.2 322.66 L1956.2 328.7 L1958.2 323.47 L1960.2 323.52 L1962.2 318.31 L1964.2 318.63 L1966.2 336.7 L1968.2 344.68 L1970.2 334.76 L1972.2 335.2 L1974.2 327.81 L1976.2 332.16 L1978.2 344.76 L1980.2 353.83 L1982.2 339.86 L1984.2 337.85 L1986.2 343.2 L1988.2 334.82 L1990.2 326.22 L1992.2 323.24 L1994.2 325.75 L1996.2 324.19 L1998.2 308.22" stroke="#D95319"/><path d="M1768.2 198.31 L1770.2 202.34 L1772.2 204.11 L1774.2 205.25 L1776.2 204.72 L1778.2 204.76 L1780.2 206.15 L1782.2 207.01 L1784.2 205.9 L1786.2 208.68 L1788.2 206 L1790.2 203.54 L1792.2 208.97 L1794.2 209.77 L1796.2 208.36 L1798.2 210.89 L1800.2 211.59 L1802.2 205.46 L1804.2 211.15 L1806.2 208.78 L1808.2 212.62 L1810.2 212.24 L1812.2 213.57 L1814.2 211.68 L1816.2 211.14 L1818.2 212.83 L1820.2 216.91 L1822.2 213.23 L1824.2 210.49 L1826.2 212.47 L1828.2 212.16 L1830.2 215.27 L1832.2 213.28 L1834.2 212.68 L1836.2 213.95 L1838.2 212.5 L1840.2 215.19 L1842.2 212.35 L1844.2 213.92 L1846.2 215.6 L1848.2 212.69 L1850.2 213.08 L1852.2 214.58 L1854.2 219.61 L1856.2 218.67 L1858.2 217.37 L1860.2 219.69 L1862.2 219.71 L1864.2 216.84 L1866.2 216.07 L1868.2 221.45 L1870.2 217.73 L1872.2 221.05 L1874.2 216.69 L1876.2 220.66 L1878.2 218.79 L1880.2 223.89 L1882.2 224.88 L1884.2 224.73 L1886.2 226.19 L1888.2 223.52 L1890.2 226.05 L1892.2 226.81 L1894.2 223.62 L1896.2 227.42 L1898.2 226.97 L1900.2 227.84 L1902.2 226.62 L1904.2 227.62 L1906.2 229.48 L1908.2 229.1 L1910.2 230.64 L1912.2 226.18 L1914.2 232.1 L1916.2 227.9 L1918.2 232.7 L1920.2 226.57 L1922.2 228.85 L1924.2 231.37 L1926.2 232.16 L1928.2 230.45 L1930.2 229.83 L1932.2 234.36 L1934.2 236.03 L1936.2 231.54 L1938.2 231.3 L1940.2 233.53 L1942.2 235.41 L1944.2 231.6 L1946.2 234.14 L1948.2 239.31 L1950.2 236.01 L1952.2 236.59 L1954.2 243.63 L1956.2 242.93 L1958.2 244.92 L1960.2 240.4 L1962.2 239.96 L1964.2 239.02 L1966.2 235.81 L1968.2 233.72 L1970.2 239.24 L1972.2 237.06 L1974.2 241.03 L1976.2 242.17 L1978.2 235.65 L1980.2 237.22 L1982.2 243.24 L1984.2 247.98 L1986.2 249.51 L1988.2 243.81 L1990.2 247.07 L1992.2 252.2 L1994.2 246.61 L1996.2 246.07 L1998.2 253.19" stroke="#EDB120"/><path d="M1768.2 123.23 L1770.2 122.63 L1772.2 128.05 L1774.2 128.68 L1776.2 130.72 L1778.2 133 L1780.2 134.9 L1782.2 134.6 L1784.2 134.57 L1786.2 135.58 L1788.2 136.36 L1790.2 136.97 L1792.2 135.05 L1794.2 138.67 L1796.2 137.35 L1798.2 139.28 L1800.2 141.6 L1802.2 142.28 L1804.2 143.82 L1806.2 143.91 L1808.2 145.22 L1810.2 147.71 L1812.2 143.89 L1814.2 147.57 L1816.2 149.11 L1818.2 146.1 L1820.2 146.53 L1822.2 147.22 L1824.2 148.39 L1826.2 146.91 L1828.2 147.79 L1830.2 148.72 L1832.2 149.34 L1834.2 152.01 L1836.2 149.48 L1838.2 152.15 L1840.2 152.63 L1842.2 152.17 L1844.2 152.63 L1846.2 151.6 L1848.2 152.3 L1850.2 154.61 L1852.2 154.84 L1854.2 154.33 L1856.2 157.06 L1858.2 155.56 L1860.2 155.67 L1862.2 155.52 L1864.2 157.95 L1866.2 157.37 L1868.2 157.32 L1870.2 154.9 L1872.2 160.65 L1874.2 155.5 L1876.2 159.17 L1878.2 156.63 L1880.2 156.26 L1882.2 153.51 L1884.2 159.99 L1886.2 160.58 L1888.2 159.64 L1890.2 159.75 L1892.2 158.37 L1894.2 161.24 L1896.2 161.14 L1898.2 159.1 L1900.2 161.37 L1902.2 161.88 L1904.2 160.49 L1906.2 165.06 L1908.2 160.36 L1910.2 167.06 L1912.2 165.63 L1914.2 162.56 L1916.2 167.2 L1918.2 166.64 L1920.2 167.41 L1922.2 165.72 L1924.2 163.73 L1926.2 161.69 L1928.2 167.08 L1930.2 166.55 L1932.2 165.82 L1934.2 171.79 L1936.2 168.58 L1938.2 164.3 L1940.2 167.28 L1942.2 168.72 L1944.2 164.83 L1946.2 168.06 L1948.2 166.81 L1950.2 164.25 L1952.2 168.86 L1954.2 170.38 L1956.2 163.94 L1958.2 171.59 L1960.2 169.5 L1962.2 170.22 L1964.2 167.26 L1966.2 168.93 L1968.2 175.53 L1970.2 173.25 L1972.2 171.5 L1974.2 172.53 L1976.2 170.89 L1978.2 173.2 L1980.2 172.24 L1982.2 176.1 L1984.2 173.94 L1986.2 178.04 L1988.2 179.88 L1990.2 177.48 L1992.2 179.01 L1994.2 179.38 L1996.2 177.39 L1998.2 175.18" stroke="#7E2F8E"/><path d="M1768.2 54.74 L1770.2 53.48 L1772.2 56.44 L1774.2 61.14 L1776.2 59.17 L1778.2 60.49 L1780.2 60.86 L1782.2 60.98 L1784.2 63.02 L1786.2 63.08 L1788.2 66.95 L1790.2 64.65 L1792.2 68.3 L1794.2 65.89 L1796.2 67.6 L1798.2 69.05 L1800.2 68.55 L1802.2 71.68 L1804.2 70.41 L1806.2 70.74 L1808.2 73.11 L1810.2 71.24 L1812.2 73.57 L1814.2 74.54 L1816.2 74.49 L1818.2 75.92 L1820.2 73.83 L1822.2 77.06 L1824.2 75.15 L1826.2 74.2 L1828.2 77.03 L1830.2 80.69 L1832.2 76.68 L1834.2 81.19 L1836.2 76.73 L1838.2 80.54 L1840.2 80.26 L1842.2 79.21 L1844.2 76.9 L1846.2 81.78 L1848.2 82.3 L1850.2 82.69 L1852.2 84.06 L1854.2 82.01 L1856.2 86.85 L1858.2 85.9 L1860.2 84.09 L1862.2 89.16 L1864.2 86.4 L1866.2 87.37 L1868.2 88.16 L1870.2 85.76 L1872.2 85.86 L1874.2 87.09 L1876.2 85.76 L1878.2 87.33 L1880.2 89.85 L1882.2 86.2 L1884.2 88.16 L1886.2 87.35 L1888.2 89.65 L1890.2 86.94 L1892.2 87.78 L1894.2 90.18 L1896.2 94.3 L1898.2 90.18 L1900.2 89.12 L1902.2 90.26 L1904.2 92.85 L1906.2 93.21 L1908.2 91.79 L1910.2 92.34 L1912.2 90 L1914.2 92.87 L1916.2 92.24 L1918.2 91.77 L1920.2 94.45 L1922.2 94.76 L1924.2 92.67 L1926.2 93.89 L1928.2 90.8 L1930.2 92.24 L1932.2 95.89 L1934.2 92.36 L1936.2 92.77 L1938.2 95.96 L1940.2 90.94 L1942.2 93.49 L1944.2 95.79 L1946.2 94.14 L1948.2 93.65 L1950.2 93.56 L1952.2 95.62 L1954.2 94.09 L1956.2 96.21 L1958.2 95.84 L1960.2 96.43 L1962.2 98.46 L1964.2 96.45 L1966.2 96.1 L1968.2 97.88 L1970.2 98.71 L1972.2 98.48 L1974.2 96.62 L1976.2 100.47 L1978.2 97 L1980.2 96.65 L1982.2 101.04 L1984.2 101.89 L1986.2 99.21 L1988.2 98.3 L1990.2 101.18 L1992.2 96.4 L1994.2 97.45 L1996.2 95.75 L1998.2 97.51" stroke="#77AC30"/></g>
<path d="M1790.77 48.3v10.6M1790.77 416.2v-10.6M1811.34 48.3v5.1M1811.34 416.2v-5.1M1831.91 48.3v5.1M1831.91 416.2v-5.1M1852.48 48.3v10.6M1852.48 416.2v-10.6M1873.05 48.3v5.1M1873.05 416.2v-5.1M1893.62 48.3v5.1M1893.62 416.2v-5.1M1914.19 48.3v10.6M1914.19 416.2v-10.6M1934.76 48.3v5.1M1934.76 416.2v-5.1M1955.33 48.3v5.1M1955.33 416.2v-5.1M1975.9 48.3v10.6M1975.9 416.2v-10.6M1770.2 55.2h11M1996.3 55.2h-11M1770.2 73.25h5.2M1996.3 73.25h-5.2M1770.2 91.3h5.2M1996.3 91.3h-5.2M1770.2 109.35h5.2M1996.3 109.35h-5.2M1770.2 127.4h11M1996.3 127.4h-11M1770.2 145.45h5.2M1996.3 145.45h-5.2M1770.2 163.5h5.2M1996.3 163.5h-5.2M1770.2 181.55h5.2M1996.3 181.55h-5.2M1770.2 199.6h11M1996.3 199.6h-11M1770.2 217.65h5.2M1996.3 217.65h-5.2M1770.2 235.7h5.2M1996.3 235.7h-5.2M1770.2 253.75h5.2M1996.3 253.75h-5.2M1770.2 271.8h11M1996.3 271.8h-11M1770.2 289.85h5.2M1996.3 289.85h-5.2M1770.2 307.9h5.2M1996.3 307.9h-5.2M1770.2 325.95h5.2M1996.3 325.95h-5.2M1770.2 344h11M1996.3 344h-11M1770.2 362.05h5.2M1996.3 362.05h-5.2M1770.2 380.1h5.2M1996.3 380.1h-5.2M1770.2 398.15h5.2M1996.3 398.15h-5.2" stroke="#222" stroke-width="1.45" fill="none"/>
<rect x="1770.2" y="48.3" width="226.1" height="367.9" fill="none" stroke="#222" stroke-width="1.5" stroke-linejoin="round"/>
<clipPath id="ci"><rect x="39.8" y="498.4" width="226.1" height="368.6"/></clipPath>
<g stroke="#a3a3a3" stroke-width="1.15" stroke-dasharray="14.1 8.5" fill="none"><line x1="39.8" y1="505.9" x2="265.9" y2="505.9"/><line x1="39.8" y1="578.15" x2="265.9" y2="578.15"/><line x1="39.8" y1="650.4" x2="265.9" y2="650.4"/><line x1="39.8" y1="722.65" x2="265.9" y2="722.65"/><line x1="39.8" y1="794.9" x2="265.9" y2="794.9"/></g>
<g clip-path="url(#ci)" fill="none" stroke-width="3.5" stroke-linejoin="round" stroke-linecap="round"><path d="M37.8 783.64 L39.5 782.3 L41.2 785.23 L42.9 794.55 L44.6 782.12 L46.3 784.41 L48 793.53 L49.7 810.6 L51.4 806.58 L53.1 807.96 L54.8 804.72 L56.5 789.15 L58.2 807.85 L59.9 814.78 L61.6 808 L63.3 805.63 L65 805.47 L66.7 804.58 L68.4 806.53 L70.1 819.44 L71.8 805.64 L73.5 799.56 L75.2 800.37 L76.9 815.82 L78.6 822.87 L80.3 818.2 L82 809.06 L83.7 809.68 L85.4 824.32 L87.1 805.91 L88.8 813.09 L90.5 813.24 L92.2 812.2 L93.9 806.7 L95.6 825.95 L97.3 817.6 L99 821.24 L100.7 827.72 L102.4 812.84 L104.1 822 L105.8 818.62 L107.5 827.92 L109.2 813.91 L110.9 829.29 L112.6 825.34 L114.3 837.29 L116 832.97 L117.7 813.9 L119.4 815.99 L121.1 822.17 L122.8 825.32 L124.5 824.21 L126.2 823.59 L127.9 823.92 L129.6 826.66 L131.3 821.47 L133 833.27 L134.7 821.95 L136.4 817.25 L138.1 821.07 L139.8 825.57 L141.5 834.91 L143.2 820.39 L144.9 834.44 L146.6 822.3 L148.3 842.37 L150 818.67 L151.7 839.78 L153.4 819.67 L155.1 826.6 L156.8 822.13 L158.5 830.53 L160.2 839.59 L161.9 825.85 L163.6 825.46 L165.3 837.47 L167 832.93 L168.7 835.38 L170.4 842.04 L172.1 846.14 L173.8 835.84 L175.5 829.6 L177.2 822.73 L178.9 840.4 L180.6 821.65 L182.3 838.06 L184 830.97 L185.7 838.4 L187.4 835.61 L189.1 838.86 L190.8 824.77 L192.5 838.02 L194.2 836.98 L195.9 829.73 L197.6 843.02 L199.3 845.51 L201 841.17 L202.7 840.85 L204.4 834.45 L206.1 836.32 L207.8 843.33 L209.5 853.66 L211.2 845.82 L212.9 842.48 L214.6 841.37 L216.3 856.5 L218 847.25 L219.7 843.47 L221.4 855.42 L223.1 855.9 L224.8 849.44 L226.5 839.69 L228.2 837.95 L229.9 850.99 L231.6 845.57 L233.3 844.5 L235 847.19 L236.7 837.66 L238.4 848.08 L240.1 844.77 L241.8 848.35 L243.5 839.12 L245.2 838.47 L246.9 841.54 L248.6 842.74 L250.3 849.35 L252 852.36 L253.7 854.32 L255.4 848.54 L257.1 847.75 L258.8 867.87 L260.5 855.05 L262.2 855.66 L263.9 844.48 L265.6 847.22 L267.3 849.88" stroke="#0072BD"/><path d="M37.8 718.54 L39.8 721.56 L41.8 719.44 L43.8 720.97 L45.8 721.03 L47.8 718.06 L49.8 725.3 L51.8 722.29 L53.8 731.89 L55.8 732.96 L57.8 732.88 L59.8 735.54 L61.8 739.01 L63.8 726.78 L65.8 732.13 L67.8 735.38 L69.8 732.12 L71.8 732.73 L73.8 737.1 L75.8 735.71 L77.8 729.88 L79.8 739.93 L81.8 732.63 L83.8 736.33 L85.8 737.46 L87.8 729.52 L89.8 740.92 L91.8 737.05 L93.8 735.84 L95.8 737.13 L97.8 733.57 L99.8 737.01 L101.8 737.04 L103.8 727.13 L105.8 730.93 L107.8 738.9 L109.8 731.9 L111.8 737.88 L113.8 735.44 L115.8 738.96 L117.8 729.91 L119.8 737.14 L121.8 736.93 L123.8 738.19 L125.8 738.29 L127.8 737.94 L129.8 739.27 L131.8 739.83 L133.8 735.84 L135.8 743.54 L137.8 738.06 L139.8 735.64 L141.8 740.61 L143.8 732.3 L145.8 742.21 L147.8 736.72 L149.8 738.59 L151.8 738.86 L153.8 741.12 L155.8 737.18 L157.8 738.49 L159.8 742.84 L161.8 740.43 L163.8 744.5 L165.8 745.82 L167.8 746.26 L169.8 746.13 L171.8 746.87 L173.8 749.68 L175.8 747.09 L177.8 747.57 L179.8 763.6 L181.8 752.14 L183.8 755.65 L185.8 752.7 L187.8 754.39 L189.8 751.79 L191.8 755.98 L193.8 753.49 L195.8 755.03 L197.8 749.65 L199.8 760.08 L201.8 755.3 L203.8 755.99 L205.8 757.71 L207.8 756.71 L209.8 755.25 L211.8 760.69 L213.8 751.15 L215.8 746.26 L217.8 754.81 L219.8 747.42 L221.8 758.11 L223.8 765.95 L225.8 768.07 L227.8 756.41 L229.8 763.41 L231.8 756.21 L233.8 763.47 L235.8 768.49 L237.8 759.44 L239.8 769.79 L241.8 764.2 L243.8 775.73 L245.8 760.9 L247.8 759.99 L249.8 771.03 L251.8 769.76 L253.8 769.46 L255.8 764.24 L257.8 769.97 L259.8 767.46 L261.8 777.29 L263.8 770.88 L265.8 762.02 L267.8 761.2" stroke="#D95319"/><path d="M37.8 647.02 L39.8 648.72 L41.8 650.49 L43.8 653.32 L45.8 656.68 L47.8 655.7 L49.8 662.17 L51.8 658.38 L53.8 664.26 L55.8 666.02 L57.8 663.61 L59.8 665.19 L61.8 666.43 L63.8 663.5 L65.8 665.14 L67.8 667.04 L69.8 661.54 L71.8 665.75 L73.8 661.98 L75.8 657.95 L77.8 661.11 L79.8 661.17 L81.8 658.77 L83.8 659.5 L85.8 659.43 L87.8 658.11 L89.8 657.96 L91.8 659.33 L93.8 658.95 L95.8 656.92 L97.8 652.39 L99.8 653.53 L101.8 655.49 L103.8 658.97 L105.8 657.2 L107.8 660.05 L109.8 656.61 L111.8 656.3 L113.8 654.3 L115.8 658.06 L117.8 651.89 L119.8 656.82 L121.8 656.57 L123.8 656.68 L125.8 661.44 L127.8 661.55 L129.8 661.37 L131.8 659.94 L133.8 657.36 L135.8 657.97 L137.8 655.17 L139.8 658.69 L141.8 663.54 L143.8 667 L145.8 660.9 L147.8 667.84 L149.8 670.28 L151.8 668.79 L153.8 671.06 L155.8 666.91 L157.8 666.21 L159.8 668.93 L161.8 671.47 L163.8 670.72 L165.8 670.65 L167.8 673.2 L169.8 669.33 L171.8 674.98 L173.8 667.89 L175.8 678.48 L177.8 678.99 L179.8 682.25 L181.8 673.19 L183.8 674.54 L185.8 673.53 L187.8 672.61 L189.8 670.37 L191.8 680.07 L193.8 677.45 L195.8 678.11 L197.8 673.47 L199.8 679.77 L201.8 685.93 L203.8 680.63 L205.8 683.17 L207.8 677.4 L209.8 684.82 L211.8 681.74 L213.8 682.53 L215.8 683.55 L217.8 681.82 L219.8 684.96 L221.8 682.61 L223.8 681.75 L225.8 679.89 L227.8 679.9 L229.8 686.79 L231.8 687.92 L233.8 684.47 L235.8 684.64 L237.8 683.84 L239.8 686.83 L241.8 691.4 L243.8 688.19 L245.8 686.09 L247.8 692.12 L249.8 691.82 L251.8 683.99 L253.8 689.67 L255.8 696.88 L257.8 695.15 L259.8 694.32 L261.8 695.42 L263.8 686.34 L265.8 681.96 L267.8 685.63" stroke="#EDB120"/><path d="M37.8 578.56 L39.8 580.96 L41.8 580.95 L43.8 584.41 L45.8 588.68 L47.8 587.47 L49.8 589.66 L51.8 590.59 L53.8 590.91 L55.8 590.64 L57.8 591.37 L59.8 588.16 L61.8 587.69 L63.8 589.27 L65.8 586.31 L67.8 590.91 L69.8 586.21 L71.8 585.45 L73.8 586.19 L75.8 584.8 L77.8 584.39 L79.8 582.65 L81.8 579.85 L83.8 581.04 L85.8 579.67 L87.8 577.59 L89.8 579.42 L91.8 581.05 L93.8 577.7 L95.8 577.73 L97.8 577.51 L99.8 579.87 L101.8 575.43 L103.8 579.64 L105.8 579.31 L107.8 579.31 L109.8 578.34 L111.8 579.79 L113.8 583.78 L115.8 581.65 L117.8 581.38 L119.8 584.12 L121.8 581.52 L123.8 585.99 L125.8 584.57 L127.8 589.3 L129.8 589.31 L131.8 587.17 L133.8 587.4 L135.8 586.56 L137.8 588.67 L139.8 589.44 L141.8 586.61 L143.8 586.94 L145.8 590.81 L147.8 589.64 L149.8 591.48 L151.8 592.18 L153.8 593.07 L155.8 593.25 L157.8 595.43 L159.8 597.46 L161.8 598.37 L163.8 595.71 L165.8 596.97 L167.8 597.39 L169.8 595.31 L171.8 595.7 L173.8 598.48 L175.8 599.91 L177.8 600.91 L179.8 599.11 L181.8 601.7 L183.8 600.96 L185.8 600.94 L187.8 603.75 L189.8 599.98 L191.8 599.52 L193.8 606.83 L195.8 604.12 L197.8 605.86 L199.8 604.81 L201.8 604.19 L203.8 603.77 L205.8 603.04 L207.8 606.56 L209.8 604.89 L211.8 606.72 L213.8 607.69 L215.8 607.46 L217.8 608.04 L219.8 610.62 L221.8 609.03 L223.8 609.28 L225.8 608.94 L227.8 611.82 L229.8 611.91 L231.8 609.26 L233.8 611.2 L235.8 610.81 L237.8 610.83 L239.8 610.62 L241.8 615.5 L243.8 614.01 L245.8 610.21 L247.8 615.8 L249.8 617.47 L251.8 615.31 L253.8 615.38 L255.8 615.86 L257.8 616.92 L259.8 614.01 L261.8 614.7 L263.8 610.55 L265.8 613.54 L267.8 609.74" stroke="#7E2F8E"/><path d="M37.8 507.76 L39.8 508.71 L41.8 512.9 L43.8 513.98 L45.8 516.59 L47.8 521.55 L49.8 519.7 L51.8 519.91 L53.8 520.61 L55.8 522.31 L57.8 522.18 L59.8 522.28 L61.8 520.98 L63.8 519.2 L65.8 519.9 L67.8 519.57 L69.8 515.65 L71.8 515.32 L73.8 515.11 L75.8 516.76 L77.8 512.78 L79.8 512.54 L81.8 511.68 L83.8 511.42 L85.8 511.09 L87.8 507.45 L89.8 503.34 L91.8 508.54 L93.8 502.49 L95.8 506.02 L97.8 505.95 L99.8 506.61 L101.8 503.7 L103.8 506.66 L105.8 507.73 L107.8 508.13 L109.8 509.47 L111.8 505.34 L113.8 506.46 L115.8 507.16 L117.8 507.84 L119.8 510.28 L121.8 510.24 L123.8 509.14 L125.8 513.01 L127.8 511.1 L129.8 507.84 L131.8 513.58 L133.8 508.47 L135.8 509.03 L137.8 511.41 L139.8 511.85 L141.8 513.25 L143.8 514.14 L145.8 513.02 L147.8 513.93 L149.8 518.06 L151.8 518.08 L153.8 517.73 L155.8 517.14 L157.8 519.9 L159.8 518.12 L161.8 518 L163.8 524.34 L165.8 524.21 L167.8 522.29 L169.8 527.89 L171.8 524.42 L173.8 527.25 L175.8 527.69 L177.8 527.39 L179.8 527.82 L181.8 531.61 L183.8 530.01 L185.8 522.57 L187.8 529.19 L189.8 521.57 L191.8 524.74 L193.8 528.86 L195.8 524.97 L197.8 532.14 L199.8 528.39 L201.8 531.89 L203.8 531.7 L205.8 533.79 L207.8 535.93 L209.8 528.44 L211.8 533.15 L213.8 534.46 L215.8 537.63 L217.8 536.82 L219.8 534.79 L221.8 531.59 L223.8 530.62 L225.8 532.31 L227.8 535.22 L229.8 534.68 L231.8 538.38 L233.8 534.68 L235.8 536.87 L237.8 531.21 L239.8 537.95 L241.8 536.72 L243.8 536.85 L245.8 542.78 L247.8 538.38 L249.8 537.86 L251.8 537.89 L253.8 533.22 L255.8 532.74 L257.8 545.76 L259.8 540.51 L261.8 540.79 L263.8 540.14 L265.8 534.43 L267.8 534.77" stroke="#77AC30"/></g>
<path d="M60.37 498.4v10.6M60.37 867v-10.6M80.94 498.4v5.1M80.94 867v-5.1M101.51 498.4v5.1M101.51 867v-5.1M122.08 498.4v10.6M122.08 867v-10.6M142.65 498.4v5.1M142.65 867v-5.1M163.22 498.4v5.1M163.22 867v-5.1M183.79 498.4v10.6M183.79 867v-10.6M204.36 498.4v5.1M204.36 867v-5.1M224.93 498.4v5.1M224.93 867v-5.1M245.5 498.4v10.6M245.5 867v-10.6M39.8 505.9h11M265.9 505.9h-11M39.8 523.96h5.2M265.9 523.96h-5.2M39.8 542.02h5.2M265.9 542.02h-5.2M39.8 560.09h5.2M265.9 560.09h-5.2M39.8 578.15h11M265.9 578.15h-11M39.8 596.21h5.2M265.9 596.21h-5.2M39.8 614.27h5.2M265.9 614.27h-5.2M39.8 632.34h5.2M265.9 632.34h-5.2M39.8 650.4h11M265.9 650.4h-11M39.8 668.46h5.2M265.9 668.46h-5.2M39.8 686.52h5.2M265.9 686.52h-5.2M39.8 704.59h5.2M265.9 704.59h-5.2M39.8 722.65h11M265.9 722.65h-11M39.8 740.71h5.2M265.9 740.71h-5.2M39.8 758.77h5.2M265.9 758.77h-5.2M39.8 776.84h5.2M265.9 776.84h-5.2M39.8 794.9h11M265.9 794.9h-11M39.8 812.96h5.2M265.9 812.96h-5.2M39.8 831.02h5.2M265.9 831.02h-5.2M39.8 849.09h5.2M265.9 849.09h-5.2" stroke="#222" stroke-width="1.45" fill="none"/>
<rect x="39.8" y="498.4" width="226.1" height="368.6" fill="none" stroke="#222" stroke-width="1.5" stroke-linejoin="round"/>
<clipPath id="cj"><rect x="287" y="498.4" width="226.1" height="368.6"/></clipPath>
<g stroke="#a3a3a3" stroke-width="1.15" stroke-dasharray="14.1 8.5" fill="none"><line x1="287" y1="505.9" x2="513.1" y2="505.9"/><line x1="287" y1="578.15" x2="513.1" y2="578.15"/><line x1="287" y1="650.4" x2="513.1" y2="650.4"/><line x1="287" y1="722.65" x2="513.1" y2="722.65"/><line x1="287" y1="794.9" x2="513.1" y2="794.9"/></g>
<g clip-path="url(#cj)" fill="none" stroke-width="3.5" stroke-linejoin="round" stroke-linecap="round"><path d="M285 794.17 L286.7 821.23 L288.4 827.44 L290.1 843.99 L291.8 807.28 L293.5 839.72 L295.2 801.27 L296.9 796.18 L298.6 796.24 L300.3 812.15 L302 818.12 L303.7 821.26 L305.4 804.22 L307.1 803.63 L308.8 816.69 L310.5 820.52 L312.2 806.99 L313.9 802.21 L315.6 801.8 L317.3 825.59 L319 816.59 L320.7 825.19 L322.4 812.54 L324.1 816 L325.8 817.5 L327.5 809.58 L329.2 820.01 L330.9 791.07 L332.6 808.14 L334.3 812.1 L336 819.99 L337.7 827.62 L339.4 786.54 L341.1 808.12 L342.8 797.53 L344.5 801.15 L346.2 826.84 L347.9 821.12 L349.6 812.08 L351.3 814.32 L353 822.95 L354.7 812.09 L356.4 825.78 L358.1 826.42 L359.8 828.49 L361.5 818.9 L363.2 818.48 L364.9 824.29 L366.6 826.27 L368.3 824.46 L370 818.97 L371.7 803.55 L373.4 798.64 L375.1 805.21 L376.8 820.51 L378.5 808.87 L380.2 814.16 L381.9 793.27 L383.6 787.77 L385.3 804.66 L387 804.69 L388.7 825.59 L390.4 801.48 L392.1 798.53 L393.8 823.39 L395.5 818.9 L397.2 797.24 L398.9 834.67 L400.6 817.92 L402.3 801.81 L404 800.88 L405.7 812.25 L407.4 803.04 L409.1 798.92 L410.8 789.89 L412.5 815.36 L414.2 793.06 L415.9 814.75 L417.6 804.76 L419.3 800.54 L421 823.11 L422.7 801.83 L424.4 797.67 L426.1 813.83 L427.8 821.76 L429.5 812.24 L431.2 799.54 L432.9 792.31 L434.6 827.71 L436.3 822.18 L438 808.91 L439.7 827.31 L441.4 793.22 L443.1 822.57 L444.8 813.53 L446.5 812.2 L448.2 796.49 L449.9 814.19 L451.6 816.35 L453.3 793.37 L455 831.26 L456.7 821.42 L458.4 815.48 L460.1 828.43 L461.8 798.99 L463.5 830.07 L465.2 842.63 L466.9 821.5 L468.6 796.94 L470.3 816.64 L472 815.9 L473.7 827.92 L475.4 821.17 L477.1 801.45 L478.8 841.48 L480.5 836.49 L482.2 818.43 L483.9 846.87 L485.6 862.61 L487.3 808.22 L489 799.82 L490.7 852.55 L492.4 834.58 L494.1 863.84 L495.8 839.23 L497.5 784.21 L499.2 778.55 L500.9 768.9 L502.6 786.46 L504.3 853.57 L506 785.62 L507.7 766.95 L509.4 762.62 L511.1 846.56 L512.8 819.29 L514.5 867.23" stroke="#0072BD"/><path d="M285 767.37 L287 765.71 L289 760.51 L291 760.07 L293 756.55 L295 756.27 L297 757.99 L299 763.55 L301 760.8 L303 761.39 L305 758.58 L307 759.75 L309 759.13 L311 758.45 L313 757.91 L315 759.62 L317 756.73 L319 760.74 L321 760.1 L323 754.83 L325 757.08 L327 753.41 L329 755.18 L331 754.69 L333 748.6 L335 745.82 L337 752.33 L339 751.46 L341 749.21 L343 746.9 L345 745.44 L347 739.72 L349 748.63 L351 738.47 L353 743.65 L355 741.56 L357 741.88 L359 737.02 L361 736.98 L363 739.11 L365 734.04 L367 735.84 L369 731.08 L371 733.55 L373 733.07 L375 730.81 L377 731 L379 725.68 L381 726.2 L383 725.64 L385 729.08 L387 723.22 L389 723.75 L391 725.7 L393 722.25 L395 723.29 L397 718.09 L399 723.99 L401 723.8 L403 727.29 L405 728.5 L407 721.16 L409 727.26 L411 722.25 L413 726.05 L415 723.16 L417 725.45 L419 722.36 L421 724.64 L423 731.24 L425 727.79 L427 731.79 L429 732.29 L431 730.88 L433 734.24 L435 735.34 L437 737.99 L439 736.19 L441 736.37 L443 742.11 L445 743.09 L447 740.79 L449 739.23 L451 743.83 L453 742.44 L455 747.93 L457 745.03 L459 744.13 L461 745.42 L463 744.09 L465 746.2 L467 742.9 L469 746.23 L471 747.43 L473 746.4 L475 743.1 L477 746.98 L479 745.92 L481 744.35 L483 748.55 L485 751.63 L487 750.72 L489 750.04 L491 750.03 L493 752.37 L495 754.9 L497 755.81 L499 759.88 L501 760.21 L503 761.04 L505 755.5 L507 753 L509 748.41 L511 750.59 L513 765.24 L515 778.22" stroke="#D95319"/><path d="M285 679.86 L287 683.6 L289 682.93 L291 688.33 L293 690.23 L295 693.85 L297 689.74 L299 688.43 L301 690.9 L303 690.79 L305 684.88 L307 694.74 L309 687.83 L311 693.7 L313 692.76 L315 692.88 L317 689.72 L319 686.91 L321 686.59 L323 690.78 L325 685.71 L327 686.9 L329 684.09 L331 682.72 L333 685.64 L335 680.25 L337 681.22 L339 680.22 L341 680.48 L343 679.06 L345 676.03 L347 676.79 L349 676.28 L351 681.13 L353 677.42 L355 674.35 L357 673.9 L359 671.38 L361 674.52 L363 668.4 L365 664.96 L367 675.95 L369 663.32 L371 663.18 L373 661.65 L375 664.56 L377 661.34 L379 660.51 L381 664.1 L383 664.38 L385 660.68 L387 656.3 L389 659.04 L391 655.17 L393 656.23 L395 654.59 L397 649.3 L399 653.27 L401 651.08 L403 651.29 L405 649.35 L407 654.93 L409 651.58 L411 654.14 L413 652.08 L415 652.24 L417 653.03 L419 652.92 L421 657.02 L423 662.62 L425 663.46 L427 660.03 L429 661.21 L431 667.55 L433 666.15 L435 664.66 L437 664.14 L439 664.69 L441 660.96 L443 666.63 L445 674.89 L447 674.98 L449 671.15 L451 674.08 L453 673.78 L455 671.09 L457 670.52 L459 671.68 L461 674.82 L463 679.61 L465 679.06 L467 680 L469 679.69 L471 682.61 L473 682.21 L475 677.32 L477 675.11 L479 676.31 L481 677.74 L483 680.56 L485 681.67 L487 678.98 L489 681.99 L491 682.83 L493 687.05 L495 684.14 L497 683.26 L499 687.81 L501 685.94 L503 685.34 L505 685.42 L507 683.08 L509 685.96 L511 685.17 L513 687.3 L515 691.46" stroke="#EDB120"/><path d="M285 590.51 L287 593.31 L289 596.11 L291 597.74 L293 599.6 L295 599.58 L297 602.37 L299 604 L301 603.18 L303 603.68 L305 601.08 L307 605.38 L309 603.72 L311 604.37 L313 599.83 L315 601.95 L317 601.05 L319 606.33 L321 602.76 L323 608.11 L325 603.52 L327 600.05 L329 602.64 L331 602.59 L333 597.73 L335 596.57 L337 597.57 L339 594.86 L341 594.95 L343 592.15 L345 595.34 L347 593.08 L349 595.78 L351 595.37 L353 596.48 L355 594.07 L357 592.31 L359 595.32 L361 589.97 L363 585.9 L365 587.14 L367 588.83 L369 590.65 L371 591.18 L373 585.55 L375 590 L377 587.5 L379 587.32 L381 582.32 L383 583.45 L385 577.79 L387 582.72 L389 580.73 L391 582.73 L393 582.98 L395 576.6 L397 580.08 L399 579.73 L401 576.31 L403 582.77 L405 576.65 L407 575.82 L409 580.44 L411 585.68 L413 583.02 L415 577.41 L417 581.41 L419 587.04 L421 582.69 L423 585.87 L425 585.18 L427 595.14 L429 595.41 L431 587.68 L433 586.84 L435 594.2 L437 594.42 L439 593.83 L441 594.88 L443 594.46 L445 598.85 L447 599.54 L449 601.64 L451 601.27 L453 597.85 L455 599.13 L457 600.45 L459 602.33 L461 600.42 L463 600.34 L465 602.42 L467 602.06 L469 603.32 L471 609.03 L473 608.6 L475 603.45 L477 605.93 L479 605.38 L481 604.32 L483 609.45 L485 602.2 L487 610 L489 609.36 L491 607.28 L493 613.52 L495 615.3 L497 612.95 L499 613.53 L501 609.16 L503 613.54 L505 617.02 L507 608.74 L509 620.83 L511 608.75 L513 619.15 L515 614.08" stroke="#7E2F8E"/><path d="M285 525.56 L287 525.1 L289 522.25 L291 521.08 L293 521.25 L295 527.62 L297 532.3 L299 531.03 L301 527.84 L303 531.91 L305 531.8 L307 529.32 L309 529.97 L311 526.27 L313 523.09 L315 523.08 L317 520.68 L319 522.48 L321 527.94 L323 518.77 L325 526.85 L327 521.17 L329 519.84 L331 518.09 L333 515.72 L335 520.02 L337 517.16 L339 515.87 L341 517.09 L343 521.01 L345 515.2 L347 515.62 L349 519.37 L351 512.4 L353 517.24 L355 521.34 L357 513.94 L359 508.78 L361 515.94 L363 511.91 L365 516.56 L367 514.01 L369 513.17 L371 509.46 L373 515.49 L375 512.82 L377 511.99 L379 511.1 L381 510.15 L383 508.66 L385 507.2 L387 501.59 L389 504.55 L391 504.91 L393 509.58 L395 509.6 L397 503.19 L399 505.42 L401 505.83 L403 509.84 L405 510.64 L407 512.88 L409 509.73 L411 512.19 L413 522.12 L415 511.82 L417 522.34 L419 521 L421 522.84 L423 521.17 L425 522.36 L427 527.35 L429 526.22 L431 528.85 L433 529.83 L435 533.63 L437 532.57 L439 532.42 L441 536.63 L443 535.83 L445 530.95 L447 537.27 L449 544.69 L451 542.35 L453 548.28 L455 536.08 L457 545.2 L459 536.11 L461 547.23 L463 542.49 L465 545.17 L467 548.45 L469 543.74 L471 545.1 L473 547.29 L475 553.12 L477 557.03 L479 549.15 L481 549.8 L483 555.25 L485 550.39 L487 550.17 L489 559.15 L491 554.91 L493 564.61 L495 553.38 L497 564.1 L499 562.18 L501 554.38 L503 556.6 L505 545.35 L507 563.05 L509 563.99 L511 557.29 L513 562.15 L515 544.08" stroke="#77AC30"/></g>
<path d="M307.57 498.4v10.6M307.57 867v-10.6M328.14 498.4v5.1M328.14 867v-5.1M348.71 498.4v5.1M348.71 867v-5.1M369.28 498.4v10.6M369.28 867v-10.6M389.85 498.4v5.1M389.85 867v-5.1M410.42 498.4v5.1M410.42 867v-5.1M430.99 498.4v10.6M430.99 867v-10.6M451.56 498.4v5.1M451.56 867v-5.1M472.13 498.4v5.1M472.13 867v-5.1M492.7 498.4v10.6M492.7 867v-10.6M287 505.9h11M513.1 505.9h-11M287 523.96h5.2M513.1 523.96h-5.2M287 542.02h5.2M513.1 542.02h-5.2M287 560.09h5.2M513.1 560.09h-5.2M287 578.15h11M513.1 578.15h-11M287 596.21h5.2M513.1 596.21h-5.2M287 614.27h5.2M513.1 614.27h-5.2M287 632.34h5.2M513.1 632.34h-5.2M287 650.4h11M513.1 650.4h-11M287 668.46h5.2M513.1 668.46h-5.2M287 686.52h5.2M513.1 686.52h-5.2M287 704.59h5.2M513.1 704.59h-5.2M287 722.65h11M513.1 722.65h-11M287 740.71h5.2M513.1 740.71h-5.2M287 758.77h5.2M513.1 758.77h-5.2M287 776.84h5.2M513.1 776.84h-5.2M287 794.9h11M513.1 794.9h-11M287 812.96h5.2M513.1 812.96h-5.2M287 831.02h5.2M513.1 831.02h-5.2M287 849.09h5.2M513.1 849.09h-5.2" stroke="#222" stroke-width="1.45" fill="none"/>
<rect x="287" y="498.4" width="226.1" height="368.6" fill="none" stroke="#222" stroke-width="1.5" stroke-linejoin="round"/>
<clipPath id="ck"><rect x="534.2" y="498.4" width="226.1" height="368.6"/></clipPath>
<g stroke="#a3a3a3" stroke-width="1.15" stroke-dasharray="14.1 8.5" fill="none"><line x1="534.2" y1="505.9" x2="760.3" y2="505.9"/><line x1="534.2" y1="578.15" x2="760.3" y2="578.15"/><line x1="534.2" y1="650.4" x2="760.3" y2="650.4"/><line x1="534.2" y1="722.65" x2="760.3" y2="722.65"/><line x1="534.2" y1="794.9" x2="760.3" y2="794.9"/></g>
<g clip-path="url(#ck)" fill="none" stroke-width="3.5" stroke-linejoin="round" stroke-linecap="round"><path d="M532.2 822.49 L534.2 821.55 L536.2 820.96 L538.2 816.9 L540.2 818.29 L542.2 814.79 L544.2 813.86 L546.2 812.66 L548.2 807.55 L550.2 802.21 L552.2 804.66 L554.2 802.95 L556.2 800.97 L558.2 799.22 L560.2 797.79 L562.2 798.41 L564.2 798.33 L566.2 796.23 L568.2 798.19 L570.2 795.45 L572.2 796.25 L574.2 794.69 L576.2 794.68 L578.2 796.05 L580.2 795.89 L582.2 797.33 L584.2 798.15 L586.2 797.6 L588.2 799.62 L590.2 800.39 L592.2 801.65 L594.2 803.5 L596.2 803.8 L598.2 805.05 L600.2 806.63 L602.2 805.51 L604.2 809.06 L606.2 810.25 L608.2 806.85 L610.2 812.04 L612.2 811.14 L614.2 812.15 L616.2 815.33 L618.2 813.85 L620.2 815.95 L622.2 814.98 L624.2 814.43 L626.2 819.02 L628.2 815.48 L630.2 814.96 L632.2 816.21 L634.2 819.2 L636.2 813.91 L638.2 817.53 L640.2 814.54 L642.2 815.83 L644.2 815.62 L646.2 817.65 L648.2 815.64 L650.2 820.17 L652.2 817.61 L654.2 817.14 L656.2 820.74 L658.2 823.04 L660.2 824.27 L662.2 825.96 L664.2 825.49 L666.2 829.12 L668.2 829.5 L670.2 828.2 L672.2 830.33 L674.2 831.35 L676.2 833.56 L678.2 835.85 L680.2 836.35 L682.2 838.15 L684.2 840.85 L686.2 842.33 L688.2 844.45 L690.2 838.87 L692.2 843.44 L694.2 844.18 L696.2 845.18 L698.2 845.36 L700.2 845.95 L702.2 848.92 L704.2 850.19 L706.2 847.16 L708.2 850.29 L710.2 846.62 L712.2 851.58 L714.2 854.81 L716.2 855.43 L718.2 854.23 L720.2 854.77 L722.2 855.36 L724.2 857.07 L726.2 854.98 L728.2 854.14 L730.2 854.33 L732.2 852.45 L734.2 851.91 L736.2 855.53 L738.2 856.93 L740.2 858.97 L742.2 859.24 L744.2 864.42 L746.2 859.57 L748.2 859.81 L750.2 863.05 L752.2 861.39 L754.2 864.47 L756.2 864.67 L758.2 863.32 L760.2 863.31 L762.2 859.91" stroke="#0072BD"/><path d="M532.2 762.24 L533.2 762.45 L534.2 761.7 L535.2 760.8 L536.2 760.74 L537.2 760.62 L538.2 761.7 L539.2 761.16 L540.2 760.85 L541.2 760.38 L542.2 760.24 L543.2 759.59 L544.2 760.05 L545.2 759.44 L546.2 760.05 L547.2 759.85 L548.2 760.26 L549.2 760.62 L550.2 760.08 L551.2 759.74 L552.2 759.87 L553.2 758.89 L554.2 758.99 L555.2 758.98 L556.2 757.66 L557.2 758.21 L558.2 759.94 L559.2 758.84 L560.2 758.43 L561.2 758.45 L562.2 757.77 L563.2 757.36 L564.2 757.52 L565.2 758.55 L566.2 758.79 L567.2 757.28 L568.2 757.33 L569.2 757.59 L570.2 756.74 L571.2 757.63 L572.2 758.68 L573.2 759.22 L574.2 759.91 L575.2 758.27 L576.2 758.38 L577.2 759.16 L578.2 759.17 L579.2 759.68 L580.2 758.83 L581.2 757.62 L582.2 757.97 L583.2 757.84 L584.2 759.32 L585.2 760.4 L586.2 759.96 L587.2 758.88 L588.2 757.96 L589.2 759.15 L590.2 759.03 L591.2 759.1 L592.2 760.02 L593.2 761.47 L594.2 759.74 L595.2 758.97 L596.2 758.79 L597.2 760.15 L598.2 758.97 L599.2 758.15 L600.2 759.1 L601.2 759.56 L602.2 758.6 L603.2 758.84 L604.2 758.13 L605.2 759.47 L606.2 758.09 L607.2 758.19 L608.2 757.54 L609.2 757.6 L610.2 757.93 L611.2 757.22 L612.2 757.4 L613.2 758.41 L614.2 759.07 L615.2 757.52 L616.2 756.28 L617.2 755.63 L618.2 754.11 L619.2 753.48 L620.2 753.19 L621.2 753.67 L622.2 752.86 L623.2 752.33 L624.2 753.13 L625.2 750.98 L626.2 750.14 L627.2 748.84 L628.2 747.38 L629.2 746.15 L630.2 743.74 L631.2 743.42 L632.2 743.01 L633.2 741.8 L634.2 739.16 L635.2 738.39 L636.2 736.44 L637.2 733.72 L638.2 731.18 L639.2 730.35 L640.2 728.3 L641.2 727.57 L642.2 725.44 L643.2 722.95 L644.2 723 L645.2 723.8 L646.2 723.88 L647.2 721.52 L648.2 722.84 L649.2 722.09 L650.2 722.47 L651.2 722.62 L652.2 724.44 L653.2 725.49 L654.2 727.55 L655.2 728.25 L656.2 727.41 L657.2 727.03 L658.2 728.9 L659.2 729.74 L660.2 730.66 L661.2 730.73 L662.2 731.47 L663.2 733.04 L664.2 733.33 L665.2 733.34 L666.2 734.46 L667.2 734.48 L668.2 735.81 L669.2 737.12 L670.2 736.76 L671.2 736.84 L672.2 738.5 L673.2 739.45 L674.2 741.48 L675.2 741.13 L676.2 741.18 L677.2 741.43 L678.2 741.8 L679.2 743.97 L680.2 745.88 L681.2 746.68 L682.2 748.79 L683.2 750.34 L684.2 750.96 L685.2 750.65 L686.2 751.19 L687.2 752.64 L688.2 752.24 L689.2 752.45 L690.2 753.2 L691.2 754.49 L692.2 753.18 L693.2 755.21 L694.2 755.94 L695.2 756.53 L696.2 756.36 L697.2 757.56 L698.2 756.72 L699.2 755.4 L700.2 755.21 L701.2 756.56 L702.2 757.35 L703.2 757.67 L704.2 758.45 L705.2 758.32 L706.2 756.25 L707.2 757.74 L708.2 758.47 L709.2 758.91 L710.2 758.48 L711.2 759.77 L712.2 759.65 L713.2 760.29 L714.2 759.26 L715.2 759.29 L716.2 758.68 L717.2 759 L718.2 759.63 L719.2 759.81 L720.2 760.55 L721.2 760.82 L722.2 760.61 L723.2 760.46 L724.2 759.82 L725.2 760.29 L726.2 760.58 L727.2 760.58 L728.2 761.72 L729.2 761.71 L730.2 760.84 L731.2 761.11 L732.2 761.67 L733.2 762.27 L734.2 763.29 L735.2 762.39 L736.2 762.19 L737.2 763.13 L738.2 763.83 L739.2 764.19 L740.2 762.98 L741.2 763.47 L742.2 764.16 L743.2 764.15 L744.2 763.36 L745.2 764.91 L746.2 766.07 L747.2 765.67 L748.2 765 L749.2 764.38 L750.2 764.6 L751.2 765.39 L752.2 765.16 L753.2 765.07 L754.2 764.9 L755.2 766.55 L756.2 767.19 L757.2 766.83 L758.2 767.26 L759.2 767.39 L760.2 768.24 L761.2 767.18 L762.2 766.77" stroke="#D95319"/><path d="M532.2 701.94 L533.2 701.75 L534.2 701.7 L535.2 701 L536.2 699.89 L537.2 700.37 L538.2 700.75 L539.2 699.4 L540.2 699.43 L541.2 699.62 L542.2 700.09 L543.2 699.43 L544.2 699.61 L545.2 699.33 L546.2 698.53 L547.2 698.35 L548.2 697.29 L549.2 697.66 L550.2 698.41 L551.2 698.34 L552.2 698.12 L553.2 697.89 L554.2 698.31 L555.2 698.11 L556.2 697.3 L557.2 696.61 L558.2 699.63 L559.2 699.24 L560.2 697.07 L561.2 697.97 L562.2 697.18 L563.2 697.58 L564.2 696.33 L565.2 696.49 L566.2 696.41 L567.2 697.22 L568.2 697.35 L569.2 696.33 L570.2 694.7 L571.2 695.86 L572.2 695.74 L573.2 697.16 L574.2 695.7 L575.2 694.4 L576.2 695.41 L577.2 695.07 L578.2 695.9 L579.2 695.12 L580.2 695.72 L581.2 694.85 L582.2 696.42 L583.2 696.04 L584.2 696.24 L585.2 695.99 L586.2 697.16 L587.2 695.93 L588.2 696.06 L589.2 695.81 L590.2 696.23 L591.2 694.36 L592.2 694.12 L593.2 695.45 L594.2 694.74 L595.2 694.53 L596.2 695.46 L597.2 694.86 L598.2 693.25 L599.2 694.6 L600.2 694.3 L601.2 693.92 L602.2 694.99 L603.2 695.07 L604.2 695.1 L605.2 693.43 L606.2 693.1 L607.2 695.13 L608.2 694.06 L609.2 693.08 L610.2 691.57 L611.2 691.51 L612.2 691.56 L613.2 688.8 L614.2 689.36 L615.2 690.1 L616.2 688.68 L617.2 689.7 L618.2 688.67 L619.2 687.11 L620.2 687.57 L621.2 687.21 L622.2 686.52 L623.2 685.8 L624.2 683.35 L625.2 682.71 L626.2 682.25 L627.2 680.73 L628.2 679.53 L629.2 679.4 L630.2 675.65 L631.2 673.3 L632.2 672.02 L633.2 669.62 L634.2 668 L635.2 665.55 L636.2 664.48 L637.2 661.22 L638.2 659.44 L639.2 658.26 L640.2 656 L641.2 654.7 L642.2 653.28 L643.2 651.98 L644.2 650.3 L645.2 651.47 L646.2 651.24 L647.2 651.12 L648.2 650.49 L649.2 651.4 L650.2 651.98 L651.2 652.18 L652.2 652.84 L653.2 653.37 L654.2 654.03 L655.2 655.26 L656.2 655.65 L657.2 656.33 L658.2 657.5 L659.2 658.72 L660.2 659.88 L661.2 659.96 L662.2 659.52 L663.2 659.47 L664.2 660.6 L665.2 660.43 L666.2 660.77 L667.2 661.34 L668.2 664.4 L669.2 665.35 L670.2 664.74 L671.2 666.27 L672.2 667.78 L673.2 669.63 L674.2 670.27 L675.2 669.54 L676.2 670.59 L677.2 670.37 L678.2 672 L679.2 673.11 L680.2 673.54 L681.2 673.75 L682.2 675.38 L683.2 677.7 L684.2 676.79 L685.2 677.64 L686.2 679.05 L687.2 679.46 L688.2 679.3 L689.2 680.91 L690.2 681.37 L691.2 680.82 L692.2 680.96 L693.2 681.09 L694.2 681.78 L695.2 682.11 L696.2 682.52 L697.2 681.19 L698.2 682.81 L699.2 682.94 L700.2 684.17 L701.2 684.26 L702.2 683.47 L703.2 683.53 L704.2 683.36 L705.2 683.25 L706.2 684.17 L707.2 685.12 L708.2 684.55 L709.2 683.98 L710.2 684.82 L711.2 684.61 L712.2 685.58 L713.2 686.47 L714.2 686.98 L715.2 687.02 L716.2 685.41 L717.2 684.3 L718.2 686.04 L719.2 686.58 L720.2 687.39 L721.2 687.45 L722.2 686.86 L723.2 687.2 L724.2 687.72 L725.2 686.53 L726.2 685.65 L727.2 687.4 L728.2 687.67 L729.2 687.55 L730.2 688.71 L731.2 687.97 L732.2 687.58 L733.2 688.63 L734.2 689.64 L735.2 688.2 L736.2 689.03 L737.2 688.22 L738.2 689.37 L739.2 688.97 L740.2 689.18 L741.2 690.52 L742.2 691.57 L743.2 689.02 L744.2 689.56 L745.2 689.86 L746.2 691.27 L747.2 690.76 L748.2 690.3 L749.2 691.61 L750.2 691.78 L751.2 691.47 L752.2 692.15 L753.2 692.21 L754.2 692.42 L755.2 691.41 L756.2 692.62 L757.2 693 L758.2 692.56 L759.2 695.48 L760.2 694.53 L761.2 693.09 L762.2 692.31" stroke="#EDB120"/><path d="M532.2 629.18 L533.2 630.09 L534.2 629.41 L535.2 630.48 L536.2 629.59 L537.2 628.72 L538.2 629.05 L539.2 630.11 L540.2 629.48 L541.2 628.89 L542.2 629.71 L543.2 629.4 L544.2 628.65 L545.2 628.19 L546.2 628.04 L547.2 628.74 L548.2 629.17 L549.2 629.64 L550.2 629.65 L551.2 629.08 L552.2 627.87 L553.2 628.09 L554.2 628.57 L555.2 628.28 L556.2 628.25 L557.2 628.01 L558.2 628.2 L559.2 628.62 L560.2 628.22 L561.2 627.28 L562.2 627.43 L563.2 627.1 L564.2 627.02 L565.2 628.08 L566.2 628.09 L567.2 628.97 L568.2 628.35 L569.2 627.98 L570.2 627.45 L571.2 627.42 L572.2 628.02 L573.2 627.82 L574.2 628.69 L575.2 628.69 L576.2 628.63 L577.2 628.22 L578.2 627.91 L579.2 628.72 L580.2 628.22 L581.2 628.48 L582.2 628.87 L583.2 628.46 L584.2 628.27 L585.2 628.13 L586.2 629.3 L587.2 629.61 L588.2 628.65 L589.2 629.42 L590.2 629.95 L591.2 629.82 L592.2 629.2 L593.2 628.13 L594.2 627.54 L595.2 627.83 L596.2 628.44 L597.2 628.84 L598.2 628.59 L599.2 627.79 L600.2 627.65 L601.2 626.97 L602.2 626.16 L603.2 626.56 L604.2 627.29 L605.2 627.06 L606.2 626.47 L607.2 626.35 L608.2 626.98 L609.2 625.94 L610.2 624.94 L611.2 624.05 L612.2 624.04 L613.2 624.12 L614.2 623.47 L615.2 623.31 L616.2 622.81 L617.2 623.42 L618.2 621.77 L619.2 621.25 L620.2 619.96 L621.2 619.56 L622.2 619.03 L623.2 617.66 L624.2 616.04 L625.2 616.25 L626.2 614.89 L627.2 612.81 L628.2 611.58 L629.2 610.49 L630.2 608.43 L631.2 606.86 L632.2 603.94 L633.2 601.95 L634.2 599.71 L635.2 596.76 L636.2 594.72 L637.2 593.06 L638.2 591.7 L639.2 589.8 L640.2 587.63 L641.2 585.95 L642.2 584.29 L643.2 582.97 L644.2 581.64 L645.2 580.51 L646.2 580.01 L647.2 578.77 L648.2 577.97 L649.2 577.99 L650.2 578.54 L651.2 579.02 L652.2 578.84 L653.2 579 L654.2 580 L655.2 580.7 L656.2 580.45 L657.2 581.06 L658.2 581.64 L659.2 584.06 L660.2 583.68 L661.2 584.25 L662.2 585.7 L663.2 586.44 L664.2 587.48 L665.2 587.65 L666.2 588.69 L667.2 589.6 L668.2 590.65 L669.2 591.9 L670.2 591.81 L671.2 592.17 L672.2 593.45 L673.2 594.1 L674.2 595.64 L675.2 596.42 L676.2 597.01 L677.2 597.06 L678.2 597.81 L679.2 599.05 L680.2 599.89 L681.2 599.8 L682.2 601.07 L683.2 602.11 L684.2 602.54 L685.2 603.71 L686.2 604.24 L687.2 605.12 L688.2 604.82 L689.2 605.32 L690.2 604.6 L691.2 605.87 L692.2 607.26 L693.2 607.25 L694.2 607.45 L695.2 607.86 L696.2 609.59 L697.2 609.99 L698.2 609.77 L699.2 610.18 L700.2 610.29 L701.2 610.13 L702.2 611.07 L703.2 611.13 L704.2 611.42 L705.2 612.49 L706.2 612.34 L707.2 612.16 L708.2 613.01 L709.2 613.18 L710.2 613.5 L711.2 613.6 L712.2 613.98 L713.2 614.11 L714.2 614.06 L715.2 615.41 L716.2 614.74 L717.2 613.77 L718.2 615.09 L719.2 614.61 L720.2 615.55 L721.2 616.27 L722.2 615.68 L723.2 615.86 L724.2 616.6 L725.2 616.62 L726.2 616.61 L727.2 616.44 L728.2 616.44 L729.2 615.83 L730.2 616.54 L731.2 617.07 L732.2 617.61 L733.2 617.6 L734.2 616.93 L735.2 617.01 L736.2 616.74 L737.2 617.93 L738.2 618.97 L739.2 618.58 L740.2 618.26 L741.2 618.76 L742.2 618.81 L743.2 618.51 L744.2 618.85 L745.2 619.53 L746.2 620.15 L747.2 619.74 L748.2 619.63 L749.2 619.56 L750.2 620.17 L751.2 620.24 L752.2 621.48 L753.2 620.75 L754.2 619.63 L755.2 621.46 L756.2 621.46 L757.2 621.3 L758.2 621.38 L759.2 621.07 L760.2 620.91 L761.2 621.02 L762.2 621.38" stroke="#7E2F8E"/><path d="M532.2 550.47 L533.2 549.62 L534.2 549.35 L535.2 549.58 L536.2 550.33 L537.2 549.26 L538.2 549.65 L539.2 549.42 L540.2 550.41 L541.2 548.77 L542.2 548.4 L543.2 548.61 L544.2 548.48 L545.2 549.26 L546.2 549.45 L547.2 549.53 L548.2 549.69 L549.2 548.4 L550.2 548.49 L551.2 548.24 L552.2 548.06 L553.2 548.67 L554.2 549.28 L555.2 548.23 L556.2 549.15 L557.2 548.43 L558.2 547.72 L559.2 547.45 L560.2 548.23 L561.2 548.01 L562.2 547.7 L563.2 547.45 L564.2 547.56 L565.2 547.52 L566.2 547.51 L567.2 546.8 L568.2 547.67 L569.2 548.22 L570.2 547.98 L571.2 547.08 L572.2 547.59 L573.2 547.94 L574.2 548.36 L575.2 548.37 L576.2 548.31 L577.2 547.88 L578.2 548.1 L579.2 547.81 L580.2 547.54 L581.2 547.14 L582.2 547.89 L583.2 547.72 L584.2 547.33 L585.2 548.43 L586.2 548 L587.2 548.21 L588.2 548.22 L589.2 548.01 L590.2 548.21 L591.2 548.38 L592.2 547.5 L593.2 547.19 L594.2 548.08 L595.2 547.78 L596.2 547.1 L597.2 547.38 L598.2 546.37 L599.2 546.54 L600.2 546.48 L601.2 546.11 L602.2 545.9 L603.2 545.08 L604.2 544.24 L605.2 544.45 L606.2 544.78 L607.2 544.34 L608.2 543.9 L609.2 543.56 L610.2 543.7 L611.2 542.77 L612.2 542.59 L613.2 542.13 L614.2 541.27 L615.2 541.47 L616.2 540.99 L617.2 540.28 L618.2 539.06 L619.2 539.28 L620.2 538.1 L621.2 537.35 L622.2 536.78 L623.2 535.98 L624.2 534.45 L625.2 533.66 L626.2 532.55 L627.2 531.36 L628.2 530.02 L629.2 528.33 L630.2 527.39 L631.2 526.4 L632.2 523.94 L633.2 522.24 L634.2 521.89 L635.2 519.46 L636.2 517.98 L637.2 516.29 L638.2 514.86 L639.2 513.06 L640.2 511.78 L641.2 510.04 L642.2 509 L643.2 509.63 L644.2 508.23 L645.2 507.36 L646.2 506.08 L647.2 505.79 L648.2 505.92 L649.2 506.51 L650.2 506.24 L651.2 507.09 L652.2 507.42 L653.2 507.97 L654.2 509.22 L655.2 509.64 L656.2 509.81 L657.2 511 L658.2 511.2 L659.2 512.58 L660.2 513.52 L661.2 515.2 L662.2 515.56 L663.2 516.75 L664.2 516.8 L665.2 517.01 L666.2 517.94 L667.2 517.75 L668.2 518.5 L669.2 519.99 L670.2 521.63 L671.2 522.13 L672.2 521.88 L673.2 522.61 L674.2 524.58 L675.2 525.09 L676.2 526.24 L677.2 527.48 L678.2 528.26 L679.2 529.07 L680.2 530.15 L681.2 531.23 L682.2 531.22 L683.2 531.97 L684.2 532.75 L685.2 533.24 L686.2 533.36 L687.2 533.5 L688.2 534.04 L689.2 534.01 L690.2 535.07 L691.2 536.18 L692.2 536.03 L693.2 534.98 L694.2 536.68 L695.2 537.31 L696.2 537.33 L697.2 538.06 L698.2 538.39 L699.2 538.31 L700.2 538.39 L701.2 538.47 L702.2 539.38 L703.2 538.61 L704.2 539.72 L705.2 539.98 L706.2 540.35 L707.2 540.5 L708.2 540.82 L709.2 540.75 L710.2 541.17 L711.2 542.45 L712.2 542.16 L713.2 542.91 L714.2 542.93 L715.2 542.76 L716.2 542.83 L717.2 542.88 L718.2 543.3 L719.2 542.94 L720.2 542.88 L721.2 543.35 L722.2 543.25 L723.2 543.38 L724.2 543.02 L725.2 543.35 L726.2 543.98 L727.2 543.98 L728.2 543.25 L729.2 543.59 L730.2 543.63 L731.2 544.48 L732.2 544.03 L733.2 543.8 L734.2 544.31 L735.2 545.01 L736.2 546.69 L737.2 546.06 L738.2 546.5 L739.2 546.28 L740.2 546.95 L741.2 547.63 L742.2 547.8 L743.2 548.1 L744.2 548.02 L745.2 547.67 L746.2 548.02 L747.2 548.02 L748.2 548.11 L749.2 549.12 L750.2 548.04 L751.2 547.8 L752.2 548.43 L753.2 549.26 L754.2 548.92 L755.2 549.11 L756.2 549.04 L757.2 549.89 L758.2 549.76 L759.2 549.81 L760.2 550.27 L761.2 549.57 L762.2 550.37" stroke="#77AC30"/></g>
<path d="M554.77 498.4v10.6M554.77 867v-10.6M575.34 498.4v5.1M575.34 867v-5.1M595.91 498.4v5.1M595.91 867v-5.1M616.48 498.4v10.6M616.48 867v-10.6M637.05 498.4v5.1M637.05 867v-5.1M657.62 498.4v5.1M657.62 867v-5.1M678.19 498.4v10.6M678.19 867v-10.6M698.76 498.4v5.1M698.76 867v-5.1M719.33 498.4v5.1M719.33 867v-5.1M739.9 498.4v10.6M739.9 867v-10.6M534.2 505.9h11M760.3 505.9h-11M534.2 523.96h5.2M760.3 523.96h-5.2M534.2 542.02h5.2M760.3 542.02h-5.2M534.2 560.09h5.2M760.3 560.09h-5.2M534.2 578.15h11M760.3 578.15h-11M534.2 596.21h5.2M760.3 596.21h-5.2M534.2 614.27h5.2M760.3 614.27h-5.2M534.2 632.34h5.2M760.3 632.34h-5.2M534.2 650.4h11M760.3 650.4h-11M534.2 668.46h5.2M760.3 668.46h-5.2M534.2 686.52h5.2M760.3 686.52h-5.2M534.2 704.59h5.2M760.3 704.59h-5.2M534.2 722.65h11M760.3 722.65h-11M534.2 740.71h5.2M760.3 740.71h-5.2M534.2 758.77h5.2M760.3 758.77h-5.2M534.2 776.84h5.2M760.3 776.84h-5.2M534.2 794.9h11M760.3 794.9h-11M534.2 812.96h5.2M760.3 812.96h-5.2M534.2 831.02h5.2M760.3 831.02h-5.2M534.2 849.09h5.2M760.3 849.09h-5.2" stroke="#222" stroke-width="1.45" fill="none"/>
<rect x="534.2" y="498.4" width="226.1" height="368.6" fill="none" stroke="#222" stroke-width="1.5" stroke-linejoin="round"/>
<g fill="none" stroke="#8f8f8f" stroke-width="1.4"><path d="M950.4 697.6 A40.3 40.3 0 0 1 1031 697.6"/><path d="M910.1 697.6 A80.6 80.6 0 0 1 1071.3 697.6"/><path d="M869.8 697.6 A120.9 120.9 0 0 1 1111.6 697.6"/><path d="M829.4 697.6 A161.3 161.3 0 0 1 1152 697.6"/><path d="M820.7 697.6H1160.7M990.7 697.6L1137.92 612.6M990.7 697.6L1075.7 550.38M990.7 697.6L990.7 527.6M990.7 697.6L905.7 550.38M990.7 697.6L843.48 612.6"/></g>
<path d="M990.7 697.6 L990.7 676.75 L991.68 652.23 L993.15 627.7 L994.87 603.18 L997.32 578.65 L999.77 554.13 L1001.49 544.32 L1005.41 541.87 L1008.36 545.55 L1012.04 551.68 L1018.17 554.13 L1025.53 550.45 L1035.34 548 L1047.6 552.9 L1054.96 555.36 L1064.76 559.03 L1069.67 561.49 L1074.57 567.62 L1083.16 566.88 L1086.84 576.2 L1091.74 581.11 L1099.1 583.56 L1104 593.37 L1110.14 603.18 L1111.36 617.89 L1112.59 627.7 L1115.04 632.61 L1116.27 644.87 L1108.91 657.13 L1104 664.49 L1096.65 669.4 L1084.38 679.21 L1069.67 686.56 L1050.05 691.47 L1030.43 695.15 L1010.81 696.86 L990.7 697.6" fill="none" stroke="#0072BD" stroke-width="3.0" stroke-linejoin="round" stroke-dasharray="8 8.7" stroke-linecap="round"/>
<path d="M990.7 697.6 L989.96 676.75 L989.23 657.13 L986.29 632.61 L982.61 608.08 L978.93 590.92 L975.25 578.65 L972.8 571.3 L969.12 565.17 L964.21 563.94 L956.86 565.17 L947.05 561.49 L937.24 559.03 L927.43 561.49 L920.07 563.94 L910.26 565.17 L907.81 567.62 L905.35 565.17 L899.22 565.17 L895.54 573.75 L888.19 578.65 L880.83 583.56 L871.02 592.14 L866.11 598.27 L866.11 610.54 L863.66 625.25 L868.57 635.06 L873.47 644.87 L880.83 652.23 L893.09 663.27 L907.81 674.3 L920.07 681.66 L937.24 689.02 L956.86 694.41 L974.02 696.86 L990.7 697.6" fill="none" stroke="#0072BD" stroke-width="3.0" stroke-linejoin="round" stroke-dasharray="8 8.7" stroke-linecap="round"/>
<g fill="none" stroke="#8f8f8f" stroke-width="1.4"><path d="M952.3 908.7 A40.3 40.3 0 0 1 1032.9 908.7"/><path d="M912 908.7 A80.6 80.6 0 0 1 1073.2 908.7"/><path d="M871.7 908.7 A120.9 120.9 0 0 1 1113.5 908.7"/><path d="M831.3 908.7 A161.3 161.3 0 0 1 1153.9 908.7"/><path d="M822.6 908.7H1162.6M992.6 908.7L1139.82 823.7M992.6 908.7L1077.6 761.48M992.6 908.7L992.6 738.7M992.6 908.7L907.6 761.48M992.6 908.7L845.38 823.7"/></g>
<path d="M992.6 908.7 L993.11 877.74 L994.38 852.35 L996.91 832.05 L999.45 814.28 L1001.99 801.59 L1005.29 788.9 L1008.34 785.1 L1013.41 791.44 L1018.49 794.49 L1026.1 793.98 L1033.72 788.9 L1043.87 783.83 L1048.95 788.9 L1054.02 796.01 L1064.17 797.79 L1071.79 800.32 L1081.94 802.1 L1089.55 801.59 L1097.17 799.06 L1107.32 795.25 L1109.86 801.59 L1114.94 811.75 L1121.28 819.36 L1120.01 829.51 L1118.74 838.4 L1122.55 847.28 L1117.47 857.43 L1112.4 867.58 L1104.78 877.74 L1102.24 880.27 L1094.63 887.89 L1081.94 895.5 L1069.25 899.31 L1043.87 903.12 L1018.49 906.92 L992.6 908.7" fill="none" stroke="#0072BD" stroke-width="3.0" stroke-linejoin="round" stroke-dasharray="8 8.7" stroke-linecap="round"/>
<path d="M992.6 908.7 L992.35 877.74 L991.08 852.35 L989.3 826.97 L986.76 806.67 L984.22 788.9 L980.42 778.75 L975.34 771.14 L971.53 767.33 L969 773.67 L962.65 777.48 L955.04 781.29 L949.96 782.56 L942.35 782.56 L934.73 783.83 L927.12 787.63 L919.5 791.44 L914.43 790.17 L909.35 787.63 L903.01 785.1 L901.74 796.52 L899.2 804.13 L891.58 806.67 L885.24 806.67 L886.51 816.82 L882.7 821.9 L883.97 832.05 L887.78 844.74 L891.58 854.89 L901.74 867.58 L914.43 880.27 L932.19 890.43 L952.5 899.31 L972.8 905.65 L992.6 908.7" fill="none" stroke="#0072BD" stroke-width="3.0" stroke-linejoin="round" stroke-dasharray="8 8.7" stroke-linecap="round"/>
<g fill="none" stroke="#8f8f8f" stroke-width="1.4"><path d="M1356.8 697.7 A40.3 40.3 0 0 1 1437.4 697.7"/><path d="M1316.5 697.7 A80.6 80.6 0 0 1 1477.7 697.7"/><path d="M1276.2 697.7 A120.9 120.9 0 0 1 1518 697.7"/><path d="M1235.8 697.7 A161.3 161.3 0 0 1 1558.4 697.7"/><path d="M1227.1 697.7H1567.1M1397.1 697.7L1544.32 612.7M1397.1 697.7L1482.1 550.48M1397.1 697.7L1397.1 527.7M1397.1 697.7L1312.1 550.48M1397.1 697.7L1249.88 612.7"/></g>
<path d="M1397.1 697.7 L1386.06 695.25 L1361.54 690.34 L1337.01 685.44 L1312.49 679.31 L1292.87 670.72 L1278.15 662.14 L1265.89 652.33 L1258.53 640.07 L1254.86 631.48 L1262.21 627.8 L1259.76 620.45 L1258.53 614.32 L1265.89 608.18 L1267.85 602.05 L1273.25 600.83 L1279.38 593.47 L1287.96 597.15 L1295.32 598.86 L1302.68 596.41 L1312.49 598.37 L1322.3 603.28 L1332.11 609.41 L1341.92 616.77 L1351.73 622.9 L1352.96 617.99 L1359.09 624.13 L1363.99 627.8 L1368.9 635.16 L1376.25 647.42 L1379.93 646.2 L1383.61 652.33 L1388.52 657.23 L1390.97 662.14 L1393.42 657.23 L1395.87 667.04 L1397.1 697.7 L1398.82 636.39 L1399.8 676.85 L1400.78 674.4 L1405.68 662.14 L1410.59 647.42 L1414.27 640.07 L1416.72 642.52 L1420.4 635.16 L1427.76 627.8 L1435.11 624.13 L1442.47 617.99 L1447.38 613.09 L1454.73 608.18 L1462.09 603.28 L1465.77 609.41 L1471.9 605.73 L1479.26 605.73 L1487.84 608.18 L1493.97 614.32 L1501.33 614.32 L1508.69 611.86 L1516.05 613.09 L1524.63 616.77 L1519.72 627.8 L1516.05 640.07 L1517.27 652.33 L1511.14 659.69 L1498.88 668.27 L1484.16 676.85 L1476.81 684.21 L1459.64 689.12 L1435.11 694.02 L1410.59 696.96 L1397.1 697.7" fill="none" stroke="#77AC30" stroke-width="2.8" stroke-linejoin="round"/>
<g fill="none" stroke="#8f8f8f" stroke-width="1.4"><path d="M1356.9 908.7 A40.3 40.3 0 0 1 1437.5 908.7"/><path d="M1316.6 908.7 A80.6 80.6 0 0 1 1477.8 908.7"/><path d="M1276.3 908.7 A120.9 120.9 0 0 1 1518.1 908.7"/><path d="M1235.9 908.7 A161.3 161.3 0 0 1 1558.5 908.7"/><path d="M1227.2 908.7H1567.2M1397.2 908.7L1544.42 823.7M1397.2 908.7L1482.2 761.48M1397.2 908.7L1397.2 738.7M1397.2 908.7L1312.2 761.48M1397.2 908.7L1249.98 823.7"/></g>
<path d="M1397.2 908.7 L1380.19 905.65 L1354.81 900.58 L1329.43 892.96 L1304.05 880.27 L1286.29 865.05 L1276.13 849.82 L1269.79 834.59 L1268.52 826.97 L1272.33 816.82 L1277.4 806.67 L1281.21 801.59 L1288.82 797.79 L1298.98 799.06 L1309.13 800.32 L1321.82 804.13 L1331.97 806.67 L1342.12 811.75 L1352.28 818.09 L1362.43 826.97 L1372.58 839.66 L1382.73 852.35 L1390.35 867.58 L1392.89 875.2 L1395.42 880.27 L1397.2 908.7 L1396.69 892.96 L1397.96 880.27 L1400.5 887.89 L1401.77 880.27 L1404.31 877.74 L1397.2 908.7 L1403.04 877.74 L1410.65 870.12 L1423.34 852.35 L1433.49 842.2 L1441.11 835.86 L1443.65 834.59 L1456.34 829.51 L1469.03 823.17 L1481.72 818.85 L1494.41 817.33 L1502.02 815.55 L1512.17 816.31 L1524.86 819.36 L1532.48 824.44 L1536.29 832.05 L1542.63 838.4 L1542.63 847.28 L1540.09 857.43 L1535.02 867.58 L1527.4 877.74 L1514.71 887.89 L1494.41 895.5 L1469.03 900.58 L1443.65 904.39 L1418.27 906.92 L1397.2 908.7" fill="none" stroke="#77AC30" stroke-width="2.8" stroke-linejoin="round"/>
<g fill="none" stroke="#8f8f8f" stroke-width="1.4"><path d="M1759.7 697.6 A40.3 40.3 0 0 1 1840.3 697.6"/><path d="M1719.4 697.6 A80.6 80.6 0 0 1 1880.6 697.6"/><path d="M1679.1 697.6 A120.9 120.9 0 0 1 1920.9 697.6"/><path d="M1638.7 697.6 A161.3 161.3 0 0 1 1961.3 697.6"/><path d="M1630 697.6H1970M1800 697.6L1947.22 612.6M1800 697.6L1885 550.38M1800 697.6L1800 527.6M1800 697.6L1715 550.38M1800 697.6L1652.78 612.6"/></g>
<path d="M1800 697.6 L1796.32 652.23 L1793.87 615.45 L1790.19 578.67 L1786.51 561.5 L1781.61 551.69 L1774.25 548.01 L1761.99 546.79 L1757.09 550.47 L1749.73 555.37 L1742.37 560.27 L1732.56 562.73 L1727.66 567.63 L1720.3 573.76 L1712.95 586.02 L1706.81 598.28 L1704.36 608.09 L1705.59 627.71 L1708.04 639.97 L1712.95 652.23 L1722.75 666.95 L1735.02 679.21 L1749.73 687.79 L1766.89 693.43 L1786.51 696.86 L1800 697.6 L1803.68 652.23 L1806.13 615.45 L1809.81 578.67 L1812.26 556.6 L1815.94 547.28 L1825.75 547.28 L1835.56 544.83 L1845.37 543.11 L1855.18 546.79 L1864.98 551.69 L1872.34 561.5 L1878.47 572.54 L1887.05 578.67 L1890.73 590.93 L1891.96 608.09 L1893.19 620.35 L1895.64 625.26 L1894.41 639.97 L1890.73 652.23 L1884.6 662.04 L1874.79 671.85 L1860.08 681.66 L1845.37 690.24 L1825.75 695.15 L1811.04 696.86 L1800 697.6" fill="none" stroke="#77AC30" stroke-width="2.8" stroke-linejoin="round"/>
<g fill="none" stroke="#8f8f8f" stroke-width="1.4"><path d="M1759.7 908.7 A40.3 40.3 0 0 1 1840.3 908.7"/><path d="M1719.4 908.7 A80.6 80.6 0 0 1 1880.6 908.7"/><path d="M1679.1 908.7 A120.9 120.9 0 0 1 1920.9 908.7"/><path d="M1638.7 908.7 A161.3 161.3 0 0 1 1961.3 908.7"/><path d="M1630 908.7H1970M1800 908.7L1947.22 823.7M1800 908.7L1885 761.48M1800 908.7L1800 738.7M1800 908.7L1715 761.48M1800 908.7L1652.78 823.7"/></g>
<path d="M1800 908.7 L1795.69 877.75 L1791.88 839.69 L1788.08 801.64 L1785.54 776.27 L1781.73 755.97 L1777.93 749.63 L1772.85 753.43 L1767.78 759.78 L1760.17 761.04 L1753.83 763.58 L1747.48 771.19 L1742.41 781.34 L1734.8 786.41 L1730.99 791.49 L1727.19 801.64 L1724.65 809.25 L1719.58 816.86 L1717.04 827.01 L1718.31 837.16 L1719.58 847.3 L1724.65 857.45 L1729.72 867.6 L1737.34 877.75 L1750.02 890.43 L1767.78 900.58 L1783 906.16 L1800 908.7" fill="none" stroke="#0072BD" stroke-width="3.0" stroke-linejoin="round" stroke-dasharray="8 8.7" stroke-linecap="round"/>
<path d="M1800 908.7 L1803.3 877.75 L1805.84 839.69 L1808.37 801.64 L1810.91 776.27 L1814.71 761.04 L1818.52 759.78 L1823.59 763.58 L1831.21 771.19 L1838.82 776.27 L1846.43 777.53 L1854.04 781.34 L1859.11 787.68 L1861.65 796.56 L1864.19 806.71 L1866.72 816.86 L1869.26 829.54 L1870.53 842.23 L1867.99 852.38 L1864.19 865.06 L1859.11 875.21 L1851.5 882.82 L1841.35 892.97 L1828.67 900.58 L1815.98 906.16 L1800 908.7" fill="none" stroke="#0072BD" stroke-width="3.0" stroke-linejoin="round" stroke-dasharray="8 8.7" stroke-linecap="round"/>
<path d="M1800 908.7 L1796.96 877.75 L1793.15 839.69 L1789.34 801.64 L1785.54 776.27 L1783 763.58 L1779.2 758.51 L1772.85 762.31 L1767.78 767.39 L1762.71 767.39 L1757.63 766.12 L1752.56 771.19 L1746.21 781.34 L1739.87 788.95 L1736.07 796.56 L1730.99 801.64 L1727.19 811.79 L1724.65 821.93 L1723.38 834.62 L1724.65 847.3 L1728.46 859.99 L1734.8 872.67 L1747.48 885.36 L1765.24 898.04 L1783 905.66 L1800 908.7 L1803.3 877.75 L1807.1 827.01 L1810.91 788.95 L1813.45 763.58 L1817.25 753.43 L1823.59 750.39 L1832.47 750.39 L1841.35 754.7 L1851.5 761.04 L1864.19 763.58 L1874.34 768.66 L1881.95 778.8 L1888.29 788.95 L1892.09 801.64 L1893.36 814.32 L1894.63 827.01 L1894.63 842.23 L1893.36 852.38 L1889.56 865.06 L1881.95 875.21 L1871.8 885.36 L1856.58 895.51 L1838.82 903.12 L1818.52 907.69 L1800 908.7" fill="none" stroke="#77AC30" stroke-width="2.8" stroke-linejoin="round"/>
<line x1="1030.2" y1="927.3" x2="1038.9" y2="927.3" stroke="#0072BD" stroke-width="2.8" stroke-linecap="round"/>
<line x1="1044.9" y1="927.3" x2="1056.4" y2="927.3" stroke="#0072BD" stroke-width="2.8" stroke-linecap="round"/>
<line x1="1425.8" y1="927.5" x2="1454.8" y2="927.5" stroke="#77AC30" stroke-width="2.8"/>
<line x1="1671" y1="927.5" x2="1679.7" y2="927.5" stroke="#0072BD" stroke-width="2.8" stroke-linecap="round"/>
<line x1="1685.7" y1="927.5" x2="1697.2" y2="927.5" stroke="#0072BD" stroke-width="2.8" stroke-linecap="round"/>
<line x1="1817.9" y1="927.5" x2="1846.5" y2="927.5" stroke="#77AC30" stroke-width="2.8"/>
<path d="M126.2 232.2L137.5 232.2L131.85 250.1Z" fill="#FF0000"/>
<path d="M371.55 210.35L381.85 210.35L376.7 226.8Z" fill="none" stroke="#FF00FF" stroke-width="1.5"/>
<path d="M391.2 209.6L402.7 209.6L396.95 228Z" fill="#FF0000"/>
<path d="M614.85 217.25L624.65 217.25L619.75 233.4Z" fill="none" stroke="#FF00FF" stroke-width="1.5"/>
<path d="M635 216.5L646.7 216.5L640.85 234.6Z" fill="#FF0000"/>
<path d="M920.2 223.6L931.8 223.6L926 241.5Z" fill="#FF0000"/>
<path d="M1141.45 212.85L1151.55 212.85L1146.5 229.3Z" fill="none" stroke="#FF00FF" stroke-width="1.5"/>
<path d="M1184.9 212.1L1196.4 212.1L1190.65 230.5Z" fill="#FF0000"/>
<path d="M1436.3 201L1447.3 201L1441.8 219.2Z" fill="#FF0000"/>
<text transform="translate(25.89 32.5) scale(0.9931 1)" font-size="42" font-weight="bold" fill="#000">(a)</text>
<text transform="translate(273.85 32.5) scale(1.0127 1)" font-size="42" font-weight="bold" fill="#000">(b)</text>
<text transform="translate(522.8 32.5) scale(1.0334 1)" font-size="42" font-weight="bold" fill="#000">(c)</text>
<text transform="translate(771.45 32.5) scale(1.0127 1)" font-size="42" font-weight="bold" fill="#000">(d)</text>
<text transform="translate(1015.38 32.5) scale(0.9973 1)" font-size="42" font-weight="bold" fill="#000">(e)</text>
<text transform="translate(1263.2 32.5) scale(1.0331 1)" font-size="42" font-weight="bold" fill="#000">(f)</text>
<text transform="translate(1508.37 32.5) scale(1.0025 1)" font-size="42" font-weight="bold" fill="#000">(g)</text>
<text transform="translate(1757.75 32.5) scale(1.0106 1)" font-size="42" font-weight="bold" fill="#000">(h)</text>
<text transform="translate(99.83 33.5) scale(0.9728 1)" font-size="30.5" font-weight="bold" fill="#000">2H-WS<tspan font-size="20" dy="6">2</tspan></text>
<text transform="translate(339.27 33.5) scale(0.9746 1)" font-size="30.5" font-weight="bold" fill="#000">3R-MoS<tspan font-size="20" dy="6">2</tspan></text>
<text transform="translate(586.02 33.5) scale(0.9799 1)" font-size="30.5" font-weight="bold" fill="#000">2H-MoS<tspan font-size="20" dy="6">2</tspan></text>
<text transform="translate(832.62 33.5) scale(0.9765 1)" font-size="30.5" font-weight="bold" fill="#000">2H-WSe<tspan font-size="20" dy="6">2</tspan></text>
<text transform="translate(1072.73 33.5) scale(0.9737 1)" font-size="30.5" font-weight="bold" fill="#000">2H-MoSe<tspan font-size="20" dy="6">2</tspan></text>
<text transform="translate(1327.98 33.5) scale(0.9721 1)" font-size="30.5" font-weight="bold" fill="#000">1T'-ReS<tspan font-size="20" dy="6">2</tspan></text>
<text transform="translate(1569.02 33.5) scale(0.9781 1)" font-size="30.5" font-weight="bold" fill="#000">2H-MoTe<tspan font-size="20" dy="6">2</tspan></text>
<text transform="translate(1824.43 33.5) scale(0.9791 1)" font-size="30.5" font-weight="bold" fill="#000">Td-WTe<tspan font-size="20" dy="6">2</tspan></text>
<text transform="translate(25.58 483.9) scale(0.9979 1)" font-size="42" font-weight="bold" fill="#000">(i)</text>
<text transform="translate(274.1 483.9) scale(0.9894 1)" font-size="42" font-weight="bold" fill="#000">(j)</text>
<text transform="translate(524.02 483.9) scale(0.9804 1)" font-size="42" font-weight="bold" fill="#000">(k)</text>
<text transform="translate(103.19 484.8) scale(0.9638 1)" font-size="30.5" font-weight="bold" fill="#000">1T-TiS<tspan font-size="20" dy="6">2</tspan></text>
<text transform="translate(332.72 484.8) scale(0.9795 1)" font-size="30.5" font-weight="bold" fill="#000">2H-NbSe<tspan font-size="20" dy="6">2</tspan></text>
<text transform="translate(583.32 484.8) scale(0.9758 1)" font-size="30.5" font-weight="bold" fill="#000">2H-TaSe<tspan font-size="20" dy="6">2</tspan></text>
<text transform="translate(39.36 444.9) scale(0.9772 1)" font-size="26" fill="#000">450</text>
<text transform="translate(100.44 444.9) scale(0.9921 1)" font-size="26" fill="#000">600</text>
<text transform="translate(162.02 444.9) scale(0.9951 1)" font-size="26" fill="#000">750</text>
<text transform="translate(223.86 444.9) scale(0.9921 1)" font-size="26" fill="#000">900</text>
<text transform="translate(286.56 444.9) scale(0.9772 1)" font-size="26" fill="#000">450</text>
<text transform="translate(347.64 444.9) scale(0.9921 1)" font-size="26" fill="#000">600</text>
<text transform="translate(409.22 444.9) scale(0.9951 1)" font-size="26" fill="#000">750</text>
<text transform="translate(471.06 444.9) scale(0.9921 1)" font-size="26" fill="#000">900</text>
<text transform="translate(533.76 444.9) scale(0.9772 1)" font-size="26" fill="#000">450</text>
<text transform="translate(594.84 444.9) scale(0.9921 1)" font-size="26" fill="#000">600</text>
<text transform="translate(656.42 444.9) scale(0.9951 1)" font-size="26" fill="#000">750</text>
<text transform="translate(718.26 444.9) scale(0.9921 1)" font-size="26" fill="#000">900</text>
<text transform="translate(780.96 444.9) scale(0.9772 1)" font-size="26" fill="#000">450</text>
<text transform="translate(842.04 444.9) scale(0.9921 1)" font-size="26" fill="#000">600</text>
<text transform="translate(903.62 444.9) scale(0.9951 1)" font-size="26" fill="#000">750</text>
<text transform="translate(965.46 444.9) scale(0.9921 1)" font-size="26" fill="#000">900</text>
<text transform="translate(1028.16 444.9) scale(0.9772 1)" font-size="26" fill="#000">450</text>
<text transform="translate(1089.24 444.9) scale(0.9921 1)" font-size="26" fill="#000">600</text>
<text transform="translate(1150.82 444.9) scale(0.9951 1)" font-size="26" fill="#000">750</text>
<text transform="translate(1212.66 444.9) scale(0.9921 1)" font-size="26" fill="#000">900</text>
<text transform="translate(1275.36 444.9) scale(0.9772 1)" font-size="26" fill="#000">450</text>
<text transform="translate(1336.44 444.9) scale(0.9921 1)" font-size="26" fill="#000">600</text>
<text transform="translate(1398.02 444.9) scale(0.9951 1)" font-size="26" fill="#000">750</text>
<text transform="translate(1459.86 444.9) scale(0.9921 1)" font-size="26" fill="#000">900</text>
<text transform="translate(1522.56 444.9) scale(0.9772 1)" font-size="26" fill="#000">450</text>
<text transform="translate(1583.64 444.9) scale(0.9921 1)" font-size="26" fill="#000">600</text>
<text transform="translate(1645.22 444.9) scale(0.9951 1)" font-size="26" fill="#000">750</text>
<text transform="translate(1707.06 444.9) scale(0.9921 1)" font-size="26" fill="#000">900</text>
<text transform="translate(1769.76 444.9) scale(0.9772 1)" font-size="26" fill="#000">450</text>
<text transform="translate(1830.84 444.9) scale(0.9921 1)" font-size="26" fill="#000">600</text>
<text transform="translate(1892.42 444.9) scale(0.9951 1)" font-size="26" fill="#000">750</text>
<text transform="translate(1954.26 444.9) scale(0.9921 1)" font-size="26" fill="#000">900</text>
<text transform="translate(39.36 895.2) scale(0.9772 1)" font-size="26" fill="#000">450</text>
<text transform="translate(100.44 895.2) scale(0.9921 1)" font-size="26" fill="#000">600</text>
<text transform="translate(162.02 895.2) scale(0.9951 1)" font-size="26" fill="#000">750</text>
<text transform="translate(223.86 895.2) scale(0.9921 1)" font-size="26" fill="#000">900</text>
<text transform="translate(286.56 895.2) scale(0.9772 1)" font-size="26" fill="#000">450</text>
<text transform="translate(347.64 895.2) scale(0.9921 1)" font-size="26" fill="#000">600</text>
<text transform="translate(409.22 895.2) scale(0.9951 1)" font-size="26" fill="#000">750</text>
<text transform="translate(471.06 895.2) scale(0.9921 1)" font-size="26" fill="#000">900</text>
<text transform="translate(533.76 895.2) scale(0.9772 1)" font-size="26" fill="#000">450</text>
<text transform="translate(594.84 895.2) scale(0.9921 1)" font-size="26" fill="#000">600</text>
<text transform="translate(656.42 895.2) scale(0.9951 1)" font-size="26" fill="#000">750</text>
<text transform="translate(718.26 895.2) scale(0.9921 1)" font-size="26" fill="#000">900</text>
<text transform="translate(782.28 478.4) scale(0.9546 1)" font-size="31.3" fill="#222">Wavelength (nm)</text>
<text transform="translate(1029.48 478.4) scale(0.9546 1)" font-size="31.3" fill="#222">Wavelength (nm)</text>
<text transform="translate(1276.68 478.4) scale(0.9546 1)" font-size="31.3" fill="#222">Wavelength (nm)</text>
<text transform="translate(1523.88 478.4) scale(0.9546 1)" font-size="31.3" fill="#222">Wavelength (nm)</text>
<text transform="translate(1771.08 478.4) scale(0.9546 1)" font-size="31.3" fill="#222">Wavelength (nm)</text>
<text transform="translate(40.68 928.8) scale(0.9824 1)" font-size="30.4" fill="#222">Wavelength (nm)</text>
<text transform="translate(287.88 928.8) scale(0.9824 1)" font-size="30.4" fill="#222">Wavelength (nm)</text>
<text transform="translate(535.08 928.8) scale(0.9824 1)" font-size="30.4" fill="#222">Wavelength (nm)</text>
<text transform="translate(23.9 397.9) rotate(-90) scale(1.0058 1) translate(-2.38 0)" font-size="29.7" fill="#262626">Normalized CL intensity</text>
<text transform="translate(23.9 848.3) rotate(-90) scale(1.0058 1) translate(-2.38 0)" font-size="29.7" fill="#262626">Normalized CL intensity</text>
<text transform="translate(1919.82 83.2) scale(1.0055 1)" font-size="22" fill="#000">30 keV</text>
<text transform="translate(1919.56 154.4) scale(1.0093 1)" font-size="22" fill="#000">20 keV</text>
<text transform="translate(1919.36 219.4) scale(1.0079 1)" font-size="22" fill="#000">10 keV</text>
<text transform="translate(1932.12 298) scale(1.0005 1)" font-size="22" fill="#000">5 keV</text>
<text transform="translate(1932.9 374) scale(0.9867 1)" font-size="22" fill="#000">1 keV</text>
<text transform="translate(812.7 523) scale(1.0502 1)" font-size="40.7" font-weight="bold" fill="#000">(l)</text>
<text transform="translate(800.13 734.5) scale(1.0363 1)" font-size="40.7" font-weight="bold" fill="#000">(m)</text>
<text transform="translate(1200.21 523) scale(1.0458 1)" font-size="40.7" font-weight="bold" fill="#000">(n)</text>
<text transform="translate(1200.64 734.5) scale(1.0312 1)" font-size="40.7" font-weight="bold" fill="#000">(o)</text>
<text transform="translate(1603.91 523) scale(1.0458 1)" font-size="40.7" font-weight="bold" fill="#000">(p)</text>
<text transform="translate(1603.6 734.5) scale(1.0479 1)" font-size="40.7" font-weight="bold" fill="#000">(q)</text>
<text transform="translate(878.8 523.9) scale(0.9705 1)" font-size="30.4" font-weight="bold" fill="#000">WS<tspan font-size="20" dy="6">2</tspan></text>
<text transform="translate(877.6 735.5) scale(0.9827 1)" font-size="30.4" font-weight="bold" fill="#000">WTe<tspan font-size="20" dy="6">2</tspan></text>
<text transform="translate(1268.5 523.9) scale(0.9705 1)" font-size="30.4" font-weight="bold" fill="#000">WS<tspan font-size="20" dy="6">2</tspan></text>
<text transform="translate(1270 735.5) scale(0.9647 1)" font-size="30.4" font-weight="bold" fill="#000">WTe<tspan font-size="20" dy="6">2</tspan></text>
<text transform="translate(1674.6 523.9) scale(0.9722 1)" font-size="30.4" font-weight="bold" fill="#000">WS<tspan font-size="20" dy="6">2</tspan></text>
<text transform="translate(1674.64 735.5) scale(0.9630 1)" font-size="30.4" font-weight="bold" fill="#000">TaSe<tspan font-size="20" dy="6">2</tspan></text>
<text transform="translate(1052.7 523.9) scale(0.9618 1)" font-size="28.3" fill="#000">unfiltered</text>
<text transform="translate(1052.18 735.5) scale(0.9689 1)" font-size="28.3" fill="#000">unfiltered</text>
<text transform="translate(1336.84 523.9) scale(0.9559 1)" font-size="28.3" fill="#000">filtered 475-525 nm</text>
<text transform="translate(1411.6 735.5) scale(0.9582 1)" font-size="28.3" fill="#000">unfiltered</text>
<text transform="translate(1778.44 523.9) scale(0.9511 1)" font-size="28.3" fill="#000">filtered &gt;800 nm</text>
<text transform="translate(1860.19 735.5) scale(0.9653 1)" font-size="28.3" fill="#000">unfiltered</text>
<text transform="translate(1074.66 935.1) scale(1.0066 1)" font-size="21.5" fill="#000">1 keV</text>
<text transform="translate(1469.81 934.9) scale(1.0227 1)" font-size="21.5" fill="#000">30 keV</text>
<text transform="translate(1715.33 935) scale(1.0254 1)" font-size="21.5" fill="#000">1 keV</text>
<text transform="translate(1861.31 935) scale(1.0227 1)" font-size="21.5" fill="#000">30 keV</text>
</svg></body></html>
